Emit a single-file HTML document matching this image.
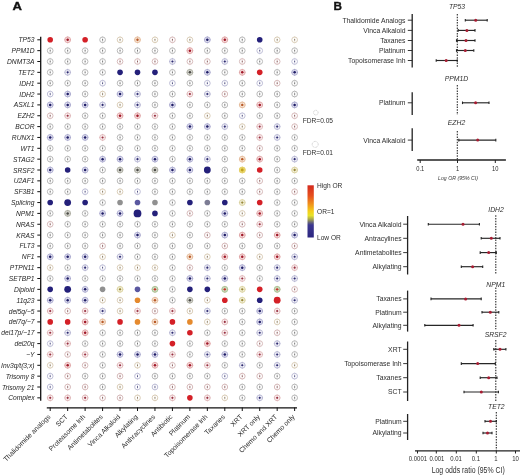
<!DOCTYPE html>
<html><head><meta charset="utf-8"><style>
html,body{margin:0;padding:0;background:#fff;width:520px;height:476px;overflow:hidden}
svg{display:block;will-change:transform}
text{font-family:"Liberation Sans",sans-serif;fill:#333}
.rl{font-style:italic;font-size:7.2px;fill:#262626}
.cl{font-size:6.85px;fill:#2e2e2e}
.fl{font-size:6.8px;fill:#2e2e2e}
.gt{font-style:italic;font-size:6.8px;fill:#2e2e2e}
.tk{font-size:6.8px;fill:#2e2e2e}
.lor{font-style:italic;font-size:5.2px;fill:#3a3a3a}
.lodds{font-size:9.9px;fill:#2e2e2e}
.lg{font-size:6.6px;fill:#2e2e2e}
.pl{font-weight:bold;font-size:11.2px;fill:#111;stroke:#111;stroke-width:0.35px}
</style></head><body>
<svg width="520" height="476" viewBox="0 0 520 476">
<defs><linearGradient id="cb" x1="0" y1="0" x2="0" y2="1">
<stop offset="0" stop-color="#d42a1e"/><stop offset="0.2" stop-color="#e6501e"/>
<stop offset="0.36" stop-color="#f0921c"/><stop offset="0.5" stop-color="#f4d01a"/>
<stop offset="0.58" stop-color="#e6e22a"/><stop offset="0.66" stop-color="#9e9e52"/>
<stop offset="0.72" stop-color="#5e5c7c"/><stop offset="0.76" stop-color="#3c3890"/>
<stop offset="1" stop-color="#2c2680"/></linearGradient></defs>
<text transform="translate(12.4,10.1) scale(1.17,1)" class="pl">A</text>
<text transform="translate(333.6,10.1) scale(1.05,1)" class="pl">B</text>
<line x1="40.7" y1="36.8" x2="40.7" y2="400.8" stroke="#111" stroke-width="1.3"/>
<line x1="46.8" y1="407.9" x2="297" y2="407.9" stroke="#111" stroke-width="1.3"/>
<text transform="translate(34.5,42.30) scale(0.93,1)" text-anchor="end" class="rl">TP53</text>
<line x1="37.3" y1="39.80" x2="40.7" y2="39.80" stroke="#111" stroke-width="1"/>
<text transform="translate(34.5,53.15) scale(0.93,1)" text-anchor="end" class="rl">PPM1D</text>
<line x1="37.3" y1="50.65" x2="40.7" y2="50.65" stroke="#111" stroke-width="1"/>
<text transform="translate(34.5,64.00) scale(0.93,1)" text-anchor="end" class="rl">DNMT3A</text>
<line x1="37.3" y1="61.50" x2="40.7" y2="61.50" stroke="#111" stroke-width="1"/>
<text transform="translate(34.5,74.85) scale(0.93,1)" text-anchor="end" class="rl">TET2</text>
<line x1="37.3" y1="72.35" x2="40.7" y2="72.35" stroke="#111" stroke-width="1"/>
<text transform="translate(34.5,85.70) scale(0.93,1)" text-anchor="end" class="rl">IDH1</text>
<line x1="37.3" y1="83.20" x2="40.7" y2="83.20" stroke="#111" stroke-width="1"/>
<text transform="translate(34.5,96.55) scale(0.93,1)" text-anchor="end" class="rl">IDH2</text>
<line x1="37.3" y1="94.05" x2="40.7" y2="94.05" stroke="#111" stroke-width="1"/>
<text transform="translate(34.5,107.40) scale(0.93,1)" text-anchor="end" class="rl">ASXL1</text>
<line x1="37.3" y1="104.90" x2="40.7" y2="104.90" stroke="#111" stroke-width="1"/>
<text transform="translate(34.5,118.25) scale(0.93,1)" text-anchor="end" class="rl">EZH2</text>
<line x1="37.3" y1="115.75" x2="40.7" y2="115.75" stroke="#111" stroke-width="1"/>
<text transform="translate(34.5,129.10) scale(0.93,1)" text-anchor="end" class="rl">BCOR</text>
<line x1="37.3" y1="126.60" x2="40.7" y2="126.60" stroke="#111" stroke-width="1"/>
<text transform="translate(34.5,139.95) scale(0.93,1)" text-anchor="end" class="rl">RUNX1</text>
<line x1="37.3" y1="137.45" x2="40.7" y2="137.45" stroke="#111" stroke-width="1"/>
<text transform="translate(34.5,150.80) scale(0.93,1)" text-anchor="end" class="rl">WT1</text>
<line x1="37.3" y1="148.30" x2="40.7" y2="148.30" stroke="#111" stroke-width="1"/>
<text transform="translate(34.5,161.65) scale(0.93,1)" text-anchor="end" class="rl">STAG2</text>
<line x1="37.3" y1="159.15" x2="40.7" y2="159.15" stroke="#111" stroke-width="1"/>
<text transform="translate(34.5,172.50) scale(0.93,1)" text-anchor="end" class="rl">SRSF2</text>
<line x1="37.3" y1="170.00" x2="40.7" y2="170.00" stroke="#111" stroke-width="1"/>
<text transform="translate(34.5,183.35) scale(0.93,1)" text-anchor="end" class="rl">U2AF1</text>
<line x1="37.3" y1="180.85" x2="40.7" y2="180.85" stroke="#111" stroke-width="1"/>
<text transform="translate(34.5,194.20) scale(0.93,1)" text-anchor="end" class="rl">SF3B1</text>
<line x1="37.3" y1="191.70" x2="40.7" y2="191.70" stroke="#111" stroke-width="1"/>
<text transform="translate(34.5,205.05) scale(0.93,1)" text-anchor="end" class="rl">Splicing</text>
<line x1="37.3" y1="202.55" x2="40.7" y2="202.55" stroke="#111" stroke-width="1"/>
<text transform="translate(34.5,215.90) scale(0.93,1)" text-anchor="end" class="rl">NPM1</text>
<line x1="37.3" y1="213.40" x2="40.7" y2="213.40" stroke="#111" stroke-width="1"/>
<text transform="translate(34.5,226.75) scale(0.93,1)" text-anchor="end" class="rl">NRAS</text>
<line x1="37.3" y1="224.25" x2="40.7" y2="224.25" stroke="#111" stroke-width="1"/>
<text transform="translate(34.5,237.60) scale(0.93,1)" text-anchor="end" class="rl">KRAS</text>
<line x1="37.3" y1="235.10" x2="40.7" y2="235.10" stroke="#111" stroke-width="1"/>
<text transform="translate(34.5,248.45) scale(0.93,1)" text-anchor="end" class="rl">FLT3</text>
<line x1="37.3" y1="245.95" x2="40.7" y2="245.95" stroke="#111" stroke-width="1"/>
<text transform="translate(34.5,259.30) scale(0.93,1)" text-anchor="end" class="rl">NF1</text>
<line x1="37.3" y1="256.80" x2="40.7" y2="256.80" stroke="#111" stroke-width="1"/>
<text transform="translate(34.5,270.15) scale(0.93,1)" text-anchor="end" class="rl">PTPN11</text>
<line x1="37.3" y1="267.65" x2="40.7" y2="267.65" stroke="#111" stroke-width="1"/>
<text transform="translate(34.5,281.00) scale(0.93,1)" text-anchor="end" class="rl">SETBP1</text>
<line x1="37.3" y1="278.50" x2="40.7" y2="278.50" stroke="#111" stroke-width="1"/>
<text transform="translate(34.5,291.85) scale(0.93,1)" text-anchor="end" class="rl">Diploid</text>
<line x1="37.3" y1="289.35" x2="40.7" y2="289.35" stroke="#111" stroke-width="1"/>
<text transform="translate(34.5,302.70) scale(0.93,1)" text-anchor="end" class="rl">11q23</text>
<line x1="37.3" y1="300.20" x2="40.7" y2="300.20" stroke="#111" stroke-width="1"/>
<text transform="translate(34.5,313.55) scale(0.93,1)" text-anchor="end" class="rl">del5q/−5</text>
<line x1="37.3" y1="311.05" x2="40.7" y2="311.05" stroke="#111" stroke-width="1"/>
<text transform="translate(34.5,324.40) scale(0.93,1)" text-anchor="end" class="rl">del7q/−7</text>
<line x1="37.3" y1="321.90" x2="40.7" y2="321.90" stroke="#111" stroke-width="1"/>
<text transform="translate(34.5,335.25) scale(0.93,1)" text-anchor="end" class="rl">del17p/−17</text>
<line x1="37.3" y1="332.75" x2="40.7" y2="332.75" stroke="#111" stroke-width="1"/>
<text transform="translate(34.5,346.10) scale(0.93,1)" text-anchor="end" class="rl">del20q</text>
<line x1="37.3" y1="343.60" x2="40.7" y2="343.60" stroke="#111" stroke-width="1"/>
<text transform="translate(34.5,356.95) scale(0.93,1)" text-anchor="end" class="rl">−Y</text>
<line x1="37.3" y1="354.45" x2="40.7" y2="354.45" stroke="#111" stroke-width="1"/>
<text transform="translate(34.5,367.80) scale(0.93,1)" text-anchor="end" class="rl">Inv3q/t(3;x)</text>
<line x1="37.3" y1="365.30" x2="40.7" y2="365.30" stroke="#111" stroke-width="1"/>
<text transform="translate(34.5,378.65) scale(0.93,1)" text-anchor="end" class="rl">Trisomy 8</text>
<line x1="37.3" y1="376.15" x2="40.7" y2="376.15" stroke="#111" stroke-width="1"/>
<text transform="translate(34.5,389.50) scale(0.93,1)" text-anchor="end" class="rl">Trisomy 21</text>
<line x1="37.3" y1="387.00" x2="40.7" y2="387.00" stroke="#111" stroke-width="1"/>
<text transform="translate(34.5,400.35) scale(0.93,1)" text-anchor="end" class="rl">Complex</text>
<line x1="37.3" y1="397.85" x2="40.7" y2="397.85" stroke="#111" stroke-width="1"/>
<g>
<circle cx="50.20" cy="39.80" r="2.8" fill="#d42027"/>
<circle cx="67.66" cy="39.80" r="3.3" fill="#e46060" fill-opacity="0.16"/><circle cx="67.66" cy="39.80" r="2.85" fill="none" stroke="#e0acac" stroke-width="0.95"/><line x1="64.36" y1="39.80" x2="70.96" y2="39.80" stroke="#a01828" stroke-width="0.5" stroke-opacity="0.3"/><line x1="67.66" y1="36.10" x2="67.66" y2="43.50" stroke="#a01828" stroke-width="0.5" stroke-opacity="0.3"/><circle cx="67.66" cy="39.80" r="1.25" fill="#a01828"/>
<circle cx="85.12" cy="39.80" r="2.8" fill="#d42027"/>
<circle cx="102.58" cy="39.80" r="2.85" fill="none" stroke="#b8b8b8" stroke-width="1.0"/><line x1="102.58" y1="36.10" x2="102.58" y2="43.50" stroke="#b8b8b8" stroke-width="0.45"/><rect x="102.08" y="39.00" width="1.0" height="1.6" fill="#6a6a6a" fill-opacity="0.85"/>
<circle cx="120.04" cy="39.80" r="2.85" fill="none" stroke="#dacdb8" stroke-width="1.0"/><line x1="120.04" y1="36.10" x2="120.04" y2="43.50" stroke="#dacdb8" stroke-width="0.45"/><rect x="119.54" y="39.00" width="1.0" height="1.6" fill="#7a6a50" fill-opacity="0.85"/>
<circle cx="137.50" cy="39.80" r="3.3" fill="#ea9a5a" fill-opacity="0.22"/><circle cx="137.50" cy="39.80" r="2.85" fill="none" stroke="#e6c0a0" stroke-width="0.95"/><line x1="134.20" y1="39.80" x2="140.80" y2="39.80" stroke="#b85a28" stroke-width="0.5" stroke-opacity="0.3"/><line x1="137.50" y1="36.10" x2="137.50" y2="43.50" stroke="#b85a28" stroke-width="0.5" stroke-opacity="0.3"/><circle cx="137.50" cy="39.80" r="1.2" fill="#b85a28"/>
<circle cx="154.96" cy="39.80" r="2.85" fill="none" stroke="#dacdb8" stroke-width="1.0"/><line x1="154.96" y1="36.10" x2="154.96" y2="43.50" stroke="#dacdb8" stroke-width="0.45"/><rect x="154.46" y="39.00" width="1.0" height="1.6" fill="#7a6a50" fill-opacity="0.85"/>
<circle cx="172.42" cy="39.80" r="2.85" fill="none" stroke="#d6baba" stroke-width="1.0"/><line x1="172.42" y1="36.10" x2="172.42" y2="43.50" stroke="#d6baba" stroke-width="0.45"/><rect x="171.92" y="39.00" width="1.0" height="1.6" fill="#7a4a4a" fill-opacity="0.85"/>
<circle cx="189.88" cy="39.80" r="2.85" fill="none" stroke="#dacdb8" stroke-width="1.0"/><line x1="189.88" y1="36.10" x2="189.88" y2="43.50" stroke="#dacdb8" stroke-width="0.45"/><rect x="189.38" y="39.00" width="1.0" height="1.6" fill="#7a6a50" fill-opacity="0.85"/>
<circle cx="207.34" cy="39.80" r="3.3" fill="#7a78c8" fill-opacity="0.16"/><circle cx="207.34" cy="39.80" r="2.85" fill="none" stroke="#b0b0d2" stroke-width="0.95"/><line x1="204.04" y1="39.80" x2="210.64" y2="39.80" stroke="#1e1c66" stroke-width="0.5" stroke-opacity="0.3"/><line x1="207.34" y1="36.10" x2="207.34" y2="43.50" stroke="#1e1c66" stroke-width="0.5" stroke-opacity="0.3"/><circle cx="207.34" cy="39.80" r="1.25" fill="#1e1c66"/>
<circle cx="224.80" cy="39.80" r="3.3" fill="#e46060" fill-opacity="0.16"/><circle cx="224.80" cy="39.80" r="2.85" fill="none" stroke="#e0acac" stroke-width="0.95"/><line x1="221.50" y1="39.80" x2="228.10" y2="39.80" stroke="#a01828" stroke-width="0.5" stroke-opacity="0.3"/><line x1="224.80" y1="36.10" x2="224.80" y2="43.50" stroke="#a01828" stroke-width="0.5" stroke-opacity="0.3"/><circle cx="224.80" cy="39.80" r="1.25" fill="#a01828"/>
<circle cx="242.26" cy="39.80" r="2.85" fill="none" stroke="#b8b8b8" stroke-width="1.0"/><line x1="242.26" y1="36.10" x2="242.26" y2="43.50" stroke="#b8b8b8" stroke-width="0.45"/><rect x="241.76" y="39.00" width="1.0" height="1.6" fill="#6a6a6a" fill-opacity="0.85"/>
<circle cx="259.72" cy="39.80" r="2.8" fill="#24207a"/>
<circle cx="277.18" cy="39.80" r="2.85" fill="none" stroke="#dacdb8" stroke-width="1.0"/><line x1="277.18" y1="36.10" x2="277.18" y2="43.50" stroke="#dacdb8" stroke-width="0.45"/><rect x="276.68" y="39.00" width="1.0" height="1.6" fill="#7a6a50" fill-opacity="0.85"/>
<circle cx="294.64" cy="39.80" r="2.85" fill="none" stroke="#dacdb8" stroke-width="1.0"/><line x1="294.64" y1="36.10" x2="294.64" y2="43.50" stroke="#dacdb8" stroke-width="0.45"/><rect x="294.14" y="39.00" width="1.0" height="1.6" fill="#7a6a50" fill-opacity="0.85"/>
<circle cx="50.20" cy="50.65" r="2.85" fill="none" stroke="#b8b8b8" stroke-width="1.0"/><line x1="50.20" y1="46.95" x2="50.20" y2="54.35" stroke="#b8b8b8" stroke-width="0.45"/><rect x="49.70" y="49.85" width="1.0" height="1.6" fill="#6a6a6a" fill-opacity="0.85"/>
<circle cx="67.66" cy="50.65" r="2.85" fill="none" stroke="#b8b8b8" stroke-width="1.0"/><line x1="67.66" y1="46.95" x2="67.66" y2="54.35" stroke="#b8b8b8" stroke-width="0.45"/><rect x="67.16" y="49.85" width="1.0" height="1.6" fill="#6a6a6a" fill-opacity="0.85"/>
<circle cx="85.12" cy="50.65" r="2.85" fill="none" stroke="#b8b8b8" stroke-width="1.0"/><line x1="85.12" y1="46.95" x2="85.12" y2="54.35" stroke="#b8b8b8" stroke-width="0.45"/><rect x="84.62" y="49.85" width="1.0" height="1.6" fill="#6a6a6a" fill-opacity="0.85"/>
<circle cx="102.58" cy="50.65" r="2.85" fill="none" stroke="#b8b8b8" stroke-width="1.0"/><line x1="102.58" y1="46.95" x2="102.58" y2="54.35" stroke="#b8b8b8" stroke-width="0.45"/><rect x="102.08" y="49.85" width="1.0" height="1.6" fill="#6a6a6a" fill-opacity="0.85"/>
<circle cx="120.04" cy="50.65" r="2.85" fill="none" stroke="#b8b8b8" stroke-width="1.0"/><line x1="120.04" y1="46.95" x2="120.04" y2="54.35" stroke="#b8b8b8" stroke-width="0.45"/><rect x="119.54" y="49.85" width="1.0" height="1.6" fill="#6a6a6a" fill-opacity="0.85"/>
<circle cx="137.50" cy="50.65" r="2.85" fill="none" stroke="#b8b8b8" stroke-width="1.0"/><line x1="137.50" y1="46.95" x2="137.50" y2="54.35" stroke="#b8b8b8" stroke-width="0.45"/><rect x="137.00" y="49.85" width="1.0" height="1.6" fill="#6a6a6a" fill-opacity="0.85"/>
<circle cx="154.96" cy="50.65" r="2.85" fill="none" stroke="#b8b8b8" stroke-width="1.0"/><line x1="154.96" y1="46.95" x2="154.96" y2="54.35" stroke="#b8b8b8" stroke-width="0.45"/><rect x="154.46" y="49.85" width="1.0" height="1.6" fill="#6a6a6a" fill-opacity="0.85"/>
<circle cx="172.42" cy="50.65" r="2.85" fill="none" stroke="#b8b8b8" stroke-width="1.0"/><line x1="172.42" y1="46.95" x2="172.42" y2="54.35" stroke="#b8b8b8" stroke-width="0.45"/><rect x="171.92" y="49.85" width="1.0" height="1.6" fill="#6a6a6a" fill-opacity="0.85"/>
<circle cx="189.88" cy="50.65" r="3.3" fill="#e46060" fill-opacity="0.16"/><circle cx="189.88" cy="50.65" r="2.85" fill="none" stroke="#e0acac" stroke-width="0.95"/><line x1="186.58" y1="50.65" x2="193.18" y2="50.65" stroke="#a01828" stroke-width="0.5" stroke-opacity="0.3"/><line x1="189.88" y1="46.95" x2="189.88" y2="54.35" stroke="#a01828" stroke-width="0.5" stroke-opacity="0.3"/><circle cx="189.88" cy="50.65" r="1.25" fill="#a01828"/>
<circle cx="207.34" cy="50.65" r="2.85" fill="none" stroke="#b8b8b8" stroke-width="1.0"/><line x1="207.34" y1="46.95" x2="207.34" y2="54.35" stroke="#b8b8b8" stroke-width="0.45"/><rect x="206.84" y="49.85" width="1.0" height="1.6" fill="#6a6a6a" fill-opacity="0.85"/>
<circle cx="224.80" cy="50.65" r="2.85" fill="none" stroke="#b8b8b8" stroke-width="1.0"/><line x1="224.80" y1="46.95" x2="224.80" y2="54.35" stroke="#b8b8b8" stroke-width="0.45"/><rect x="224.30" y="49.85" width="1.0" height="1.6" fill="#6a6a6a" fill-opacity="0.85"/>
<circle cx="242.26" cy="50.65" r="2.85" fill="none" stroke="#b8b8b8" stroke-width="1.0"/><line x1="242.26" y1="46.95" x2="242.26" y2="54.35" stroke="#b8b8b8" stroke-width="0.45"/><rect x="241.76" y="49.85" width="1.0" height="1.6" fill="#6a6a6a" fill-opacity="0.85"/>
<circle cx="259.72" cy="50.65" r="2.85" fill="none" stroke="#bebed6" stroke-width="1.0"/><line x1="259.72" y1="46.95" x2="259.72" y2="54.35" stroke="#bebed6" stroke-width="0.45"/><rect x="259.22" y="49.85" width="1.0" height="1.6" fill="#3a3a70" fill-opacity="0.85"/>
<circle cx="277.18" cy="50.65" r="2.85" fill="none" stroke="#b8b8b8" stroke-width="1.0"/><line x1="277.18" y1="46.95" x2="277.18" y2="54.35" stroke="#b8b8b8" stroke-width="0.45"/><rect x="276.68" y="49.85" width="1.0" height="1.6" fill="#6a6a6a" fill-opacity="0.85"/>
<circle cx="294.64" cy="50.65" r="2.85" fill="none" stroke="#b8b8b8" stroke-width="1.0"/><line x1="294.64" y1="46.95" x2="294.64" y2="54.35" stroke="#b8b8b8" stroke-width="0.45"/><rect x="294.14" y="49.85" width="1.0" height="1.6" fill="#6a6a6a" fill-opacity="0.85"/>
<circle cx="50.20" cy="61.50" r="2.85" fill="none" stroke="#b8b8b8" stroke-width="1.0"/><line x1="50.20" y1="57.80" x2="50.20" y2="65.20" stroke="#b8b8b8" stroke-width="0.45"/><rect x="49.70" y="60.70" width="1.0" height="1.6" fill="#6a6a6a" fill-opacity="0.85"/>
<circle cx="67.66" cy="61.50" r="2.85" fill="none" stroke="#b8b8b8" stroke-width="1.0"/><line x1="67.66" y1="57.80" x2="67.66" y2="65.20" stroke="#b8b8b8" stroke-width="0.45"/><rect x="67.16" y="60.70" width="1.0" height="1.6" fill="#6a6a6a" fill-opacity="0.85"/>
<circle cx="85.12" cy="61.50" r="2.85" fill="none" stroke="#b8b8b8" stroke-width="1.0"/><line x1="85.12" y1="57.80" x2="85.12" y2="65.20" stroke="#b8b8b8" stroke-width="0.45"/><rect x="84.62" y="60.70" width="1.0" height="1.6" fill="#6a6a6a" fill-opacity="0.85"/>
<circle cx="102.58" cy="61.50" r="2.85" fill="none" stroke="#b8b8b8" stroke-width="1.0"/><line x1="102.58" y1="57.80" x2="102.58" y2="65.20" stroke="#b8b8b8" stroke-width="0.45"/><rect x="102.08" y="60.70" width="1.0" height="1.6" fill="#6a6a6a" fill-opacity="0.85"/>
<circle cx="120.04" cy="61.50" r="2.85" fill="none" stroke="#d6baba" stroke-width="1.0"/><line x1="120.04" y1="57.80" x2="120.04" y2="65.20" stroke="#d6baba" stroke-width="0.45"/><rect x="119.54" y="60.70" width="1.0" height="1.6" fill="#7a4a4a" fill-opacity="0.85"/>
<circle cx="137.50" cy="61.50" r="2.85" fill="none" stroke="#d6baba" stroke-width="1.0"/><line x1="137.50" y1="57.80" x2="137.50" y2="65.20" stroke="#d6baba" stroke-width="0.45"/><rect x="137.00" y="60.70" width="1.0" height="1.6" fill="#7a4a4a" fill-opacity="0.85"/>
<circle cx="154.96" cy="61.50" r="2.85" fill="none" stroke="#d6baba" stroke-width="1.0"/><line x1="154.96" y1="57.80" x2="154.96" y2="65.20" stroke="#d6baba" stroke-width="0.45"/><rect x="154.46" y="60.70" width="1.0" height="1.6" fill="#7a4a4a" fill-opacity="0.85"/>
<circle cx="172.42" cy="61.50" r="3.3" fill="#9a98d4" fill-opacity="0.09"/><circle cx="172.42" cy="61.50" r="2.85" fill="none" stroke="#bcbcd6" stroke-width="0.95"/><line x1="169.12" y1="61.50" x2="175.72" y2="61.50" stroke="#2c2a70" stroke-width="0.5" stroke-opacity="0.3"/><line x1="172.42" y1="57.80" x2="172.42" y2="65.20" stroke="#2c2a70" stroke-width="0.5" stroke-opacity="0.3"/><circle cx="172.42" cy="61.50" r="1.05" fill="#2c2a70"/>
<circle cx="189.88" cy="61.50" r="2.85" fill="none" stroke="#d6baba" stroke-width="1.0"/><line x1="189.88" y1="57.80" x2="189.88" y2="65.20" stroke="#d6baba" stroke-width="0.45"/><rect x="189.38" y="60.70" width="1.0" height="1.6" fill="#7a4a4a" fill-opacity="0.85"/>
<circle cx="207.34" cy="61.50" r="2.85" fill="none" stroke="#d6baba" stroke-width="1.0"/><line x1="207.34" y1="57.80" x2="207.34" y2="65.20" stroke="#d6baba" stroke-width="0.45"/><rect x="206.84" y="60.70" width="1.0" height="1.6" fill="#7a4a4a" fill-opacity="0.85"/>
<circle cx="224.80" cy="61.50" r="3.3" fill="#9a98d4" fill-opacity="0.09"/><circle cx="224.80" cy="61.50" r="2.85" fill="none" stroke="#bcbcd6" stroke-width="0.95"/><line x1="221.50" y1="61.50" x2="228.10" y2="61.50" stroke="#2c2a70" stroke-width="0.5" stroke-opacity="0.3"/><line x1="224.80" y1="57.80" x2="224.80" y2="65.20" stroke="#2c2a70" stroke-width="0.5" stroke-opacity="0.3"/><circle cx="224.80" cy="61.50" r="1.05" fill="#2c2a70"/>
<circle cx="242.26" cy="61.50" r="2.85" fill="none" stroke="#d6baba" stroke-width="1.0"/><line x1="242.26" y1="57.80" x2="242.26" y2="65.20" stroke="#d6baba" stroke-width="0.45"/><rect x="241.76" y="60.70" width="1.0" height="1.6" fill="#7a4a4a" fill-opacity="0.85"/>
<circle cx="259.72" cy="61.50" r="2.85" fill="none" stroke="#b8b8b8" stroke-width="1.0"/><line x1="259.72" y1="57.80" x2="259.72" y2="65.20" stroke="#b8b8b8" stroke-width="0.45"/><rect x="259.22" y="60.70" width="1.0" height="1.6" fill="#6a6a6a" fill-opacity="0.85"/>
<circle cx="277.18" cy="61.50" r="2.85" fill="none" stroke="#d6baba" stroke-width="1.0"/><line x1="277.18" y1="57.80" x2="277.18" y2="65.20" stroke="#d6baba" stroke-width="0.45"/><rect x="276.68" y="60.70" width="1.0" height="1.6" fill="#7a4a4a" fill-opacity="0.85"/>
<circle cx="294.64" cy="61.50" r="2.85" fill="none" stroke="#bebed6" stroke-width="1.0"/><line x1="294.64" y1="57.80" x2="294.64" y2="65.20" stroke="#bebed6" stroke-width="0.45"/><rect x="294.14" y="60.70" width="1.0" height="1.6" fill="#3a3a70" fill-opacity="0.85"/>
<circle cx="50.20" cy="72.35" r="2.85" fill="none" stroke="#b8b8b8" stroke-width="1.0"/><line x1="50.20" y1="68.65" x2="50.20" y2="76.05" stroke="#b8b8b8" stroke-width="0.45"/><rect x="49.70" y="71.55" width="1.0" height="1.6" fill="#6a6a6a" fill-opacity="0.85"/>
<circle cx="67.66" cy="72.35" r="3.3" fill="#9a98d4" fill-opacity="0.09"/><circle cx="67.66" cy="72.35" r="2.85" fill="none" stroke="#bcbcd6" stroke-width="0.95"/><line x1="64.36" y1="72.35" x2="70.96" y2="72.35" stroke="#2c2a70" stroke-width="0.5" stroke-opacity="0.3"/><line x1="67.66" y1="68.65" x2="67.66" y2="76.05" stroke="#2c2a70" stroke-width="0.5" stroke-opacity="0.3"/><circle cx="67.66" cy="72.35" r="1.05" fill="#2c2a70"/>
<circle cx="85.12" cy="72.35" r="2.85" fill="none" stroke="#b8b8b8" stroke-width="1.0"/><line x1="85.12" y1="68.65" x2="85.12" y2="76.05" stroke="#b8b8b8" stroke-width="0.45"/><rect x="84.62" y="71.55" width="1.0" height="1.6" fill="#6a6a6a" fill-opacity="0.85"/>
<circle cx="102.58" cy="72.35" r="2.85" fill="none" stroke="#b8b8b8" stroke-width="1.0"/><line x1="102.58" y1="68.65" x2="102.58" y2="76.05" stroke="#b8b8b8" stroke-width="0.45"/><rect x="102.08" y="71.55" width="1.0" height="1.6" fill="#6a6a6a" fill-opacity="0.85"/>
<circle cx="120.04" cy="72.35" r="2.8" fill="#24207a"/>
<circle cx="137.50" cy="72.35" r="2.8" fill="#24207a"/>
<circle cx="154.96" cy="72.35" r="2.8" fill="#24207a"/>
<circle cx="172.42" cy="72.35" r="2.85" fill="none" stroke="#b8b8b8" stroke-width="1.0"/><line x1="172.42" y1="68.65" x2="172.42" y2="76.05" stroke="#b8b8b8" stroke-width="0.45"/><rect x="171.92" y="71.55" width="1.0" height="1.6" fill="#6a6a6a" fill-opacity="0.85"/>
<circle cx="189.88" cy="72.35" r="3.3" fill="#7a7a6a" fill-opacity="0.26"/><circle cx="189.88" cy="72.35" r="2.85" fill="none" stroke="#b0b0a4" stroke-width="0.95"/><line x1="186.58" y1="72.35" x2="193.18" y2="72.35" stroke="#4a4a44" stroke-width="0.5" stroke-opacity="0.3"/><line x1="189.88" y1="68.65" x2="189.88" y2="76.05" stroke="#4a4a44" stroke-width="0.5" stroke-opacity="0.3"/><circle cx="189.88" cy="72.35" r="1.25" fill="#4a4a44"/>
<circle cx="207.34" cy="72.35" r="3.3" fill="#7a78c8" fill-opacity="0.16"/><circle cx="207.34" cy="72.35" r="2.85" fill="none" stroke="#b0b0d2" stroke-width="0.95"/><line x1="204.04" y1="72.35" x2="210.64" y2="72.35" stroke="#1e1c66" stroke-width="0.5" stroke-opacity="0.3"/><line x1="207.34" y1="68.65" x2="207.34" y2="76.05" stroke="#1e1c66" stroke-width="0.5" stroke-opacity="0.3"/><circle cx="207.34" cy="72.35" r="1.25" fill="#1e1c66"/>
<circle cx="224.80" cy="72.35" r="2.85" fill="none" stroke="#b8b8b8" stroke-width="1.0"/><line x1="224.80" y1="68.65" x2="224.80" y2="76.05" stroke="#b8b8b8" stroke-width="0.45"/><rect x="224.30" y="71.55" width="1.0" height="1.6" fill="#6a6a6a" fill-opacity="0.85"/>
<circle cx="242.26" cy="72.35" r="3.3" fill="#e46060" fill-opacity="0.16"/><circle cx="242.26" cy="72.35" r="2.85" fill="none" stroke="#e0acac" stroke-width="0.95"/><line x1="238.96" y1="72.35" x2="245.56" y2="72.35" stroke="#a01828" stroke-width="0.5" stroke-opacity="0.3"/><line x1="242.26" y1="68.65" x2="242.26" y2="76.05" stroke="#a01828" stroke-width="0.5" stroke-opacity="0.3"/><circle cx="242.26" cy="72.35" r="1.25" fill="#a01828"/>
<circle cx="259.72" cy="72.35" r="2.8" fill="#d42027"/>
<circle cx="277.18" cy="72.35" r="2.85" fill="none" stroke="#b8b8b8" stroke-width="1.0"/><line x1="277.18" y1="68.65" x2="277.18" y2="76.05" stroke="#b8b8b8" stroke-width="0.45"/><rect x="276.68" y="71.55" width="1.0" height="1.6" fill="#6a6a6a" fill-opacity="0.85"/>
<circle cx="294.64" cy="72.35" r="3.3" fill="#7a78c8" fill-opacity="0.16"/><circle cx="294.64" cy="72.35" r="2.85" fill="none" stroke="#b0b0d2" stroke-width="0.95"/><line x1="291.34" y1="72.35" x2="297.94" y2="72.35" stroke="#1e1c66" stroke-width="0.5" stroke-opacity="0.3"/><line x1="294.64" y1="68.65" x2="294.64" y2="76.05" stroke="#1e1c66" stroke-width="0.5" stroke-opacity="0.3"/><circle cx="294.64" cy="72.35" r="1.25" fill="#1e1c66"/>
<circle cx="50.20" cy="83.20" r="2.85" fill="none" stroke="#b8b8b8" stroke-width="1.0"/><line x1="50.20" y1="79.50" x2="50.20" y2="86.90" stroke="#b8b8b8" stroke-width="0.45"/><rect x="49.70" y="82.40" width="1.0" height="1.6" fill="#6a6a6a" fill-opacity="0.85"/>
<circle cx="67.66" cy="83.20" r="2.85" fill="none" stroke="#b8b8b8" stroke-width="1.0"/><line x1="67.66" y1="79.50" x2="67.66" y2="86.90" stroke="#b8b8b8" stroke-width="0.45"/><rect x="67.16" y="82.40" width="1.0" height="1.6" fill="#6a6a6a" fill-opacity="0.85"/>
<circle cx="85.12" cy="83.20" r="2.85" fill="none" stroke="#b8b8b8" stroke-width="1.0"/><line x1="85.12" y1="79.50" x2="85.12" y2="86.90" stroke="#b8b8b8" stroke-width="0.45"/><rect x="84.62" y="82.40" width="1.0" height="1.6" fill="#6a6a6a" fill-opacity="0.85"/>
<circle cx="102.58" cy="83.20" r="2.85" fill="none" stroke="#bebed6" stroke-width="1.0"/><line x1="102.58" y1="79.50" x2="102.58" y2="86.90" stroke="#bebed6" stroke-width="0.45"/><rect x="102.08" y="82.40" width="1.0" height="1.6" fill="#3a3a70" fill-opacity="0.85"/>
<circle cx="120.04" cy="83.20" r="2.85" fill="none" stroke="#b8b8b8" stroke-width="1.0"/><line x1="120.04" y1="79.50" x2="120.04" y2="86.90" stroke="#b8b8b8" stroke-width="0.45"/><rect x="119.54" y="82.40" width="1.0" height="1.6" fill="#6a6a6a" fill-opacity="0.85"/>
<circle cx="137.50" cy="83.20" r="2.85" fill="none" stroke="#b8b8b8" stroke-width="1.0"/><line x1="137.50" y1="79.50" x2="137.50" y2="86.90" stroke="#b8b8b8" stroke-width="0.45"/><rect x="137.00" y="82.40" width="1.0" height="1.6" fill="#6a6a6a" fill-opacity="0.85"/>
<circle cx="154.96" cy="83.20" r="2.85" fill="none" stroke="#b8b8b8" stroke-width="1.0"/><line x1="154.96" y1="79.50" x2="154.96" y2="86.90" stroke="#b8b8b8" stroke-width="0.45"/><rect x="154.46" y="82.40" width="1.0" height="1.6" fill="#6a6a6a" fill-opacity="0.85"/>
<circle cx="172.42" cy="83.20" r="2.85" fill="none" stroke="#bebed6" stroke-width="1.0"/><line x1="172.42" y1="79.50" x2="172.42" y2="86.90" stroke="#bebed6" stroke-width="0.45"/><rect x="171.92" y="82.40" width="1.0" height="1.6" fill="#3a3a70" fill-opacity="0.85"/>
<circle cx="189.88" cy="83.20" r="2.85" fill="none" stroke="#b8b8b8" stroke-width="1.0"/><line x1="189.88" y1="79.50" x2="189.88" y2="86.90" stroke="#b8b8b8" stroke-width="0.45"/><rect x="189.38" y="82.40" width="1.0" height="1.6" fill="#6a6a6a" fill-opacity="0.85"/>
<circle cx="207.34" cy="83.20" r="2.85" fill="none" stroke="#bebed6" stroke-width="1.0"/><line x1="207.34" y1="79.50" x2="207.34" y2="86.90" stroke="#bebed6" stroke-width="0.45"/><rect x="206.84" y="82.40" width="1.0" height="1.6" fill="#3a3a70" fill-opacity="0.85"/>
<circle cx="224.80" cy="83.20" r="2.85" fill="none" stroke="#bebed6" stroke-width="1.0"/><line x1="224.80" y1="79.50" x2="224.80" y2="86.90" stroke="#bebed6" stroke-width="0.45"/><rect x="224.30" y="82.40" width="1.0" height="1.6" fill="#3a3a70" fill-opacity="0.85"/>
<circle cx="242.26" cy="83.20" r="2.85" fill="none" stroke="#b8b8b8" stroke-width="1.0"/><line x1="242.26" y1="79.50" x2="242.26" y2="86.90" stroke="#b8b8b8" stroke-width="0.45"/><rect x="241.76" y="82.40" width="1.0" height="1.6" fill="#6a6a6a" fill-opacity="0.85"/>
<circle cx="259.72" cy="83.20" r="2.85" fill="none" stroke="#bebed6" stroke-width="1.0"/><line x1="259.72" y1="79.50" x2="259.72" y2="86.90" stroke="#bebed6" stroke-width="0.45"/><rect x="259.22" y="82.40" width="1.0" height="1.6" fill="#3a3a70" fill-opacity="0.85"/>
<circle cx="277.18" cy="83.20" r="2.85" fill="none" stroke="#d6baba" stroke-width="1.0"/><line x1="277.18" y1="79.50" x2="277.18" y2="86.90" stroke="#d6baba" stroke-width="0.45"/><rect x="276.68" y="82.40" width="1.0" height="1.6" fill="#7a4a4a" fill-opacity="0.85"/>
<circle cx="294.64" cy="83.20" r="2.85" fill="none" stroke="#b8b8b8" stroke-width="1.0"/><line x1="294.64" y1="79.50" x2="294.64" y2="86.90" stroke="#b8b8b8" stroke-width="0.45"/><rect x="294.14" y="82.40" width="1.0" height="1.6" fill="#6a6a6a" fill-opacity="0.85"/>
<circle cx="50.20" cy="94.05" r="2.85" fill="none" stroke="#bebed6" stroke-width="1.0"/><line x1="50.20" y1="90.35" x2="50.20" y2="97.75" stroke="#bebed6" stroke-width="0.45"/><rect x="49.70" y="93.25" width="1.0" height="1.6" fill="#3a3a70" fill-opacity="0.85"/>
<circle cx="67.66" cy="94.05" r="3.3" fill="#7a78c8" fill-opacity="0.16"/><circle cx="67.66" cy="94.05" r="2.85" fill="none" stroke="#b0b0d2" stroke-width="0.95"/><line x1="64.36" y1="94.05" x2="70.96" y2="94.05" stroke="#1e1c66" stroke-width="0.5" stroke-opacity="0.3"/><line x1="67.66" y1="90.35" x2="67.66" y2="97.75" stroke="#1e1c66" stroke-width="0.5" stroke-opacity="0.3"/><circle cx="67.66" cy="94.05" r="1.25" fill="#1e1c66"/>
<circle cx="85.12" cy="94.05" r="2.85" fill="none" stroke="#b8b8b8" stroke-width="1.0"/><line x1="85.12" y1="90.35" x2="85.12" y2="97.75" stroke="#b8b8b8" stroke-width="0.45"/><rect x="84.62" y="93.25" width="1.0" height="1.6" fill="#6a6a6a" fill-opacity="0.85"/>
<circle cx="102.58" cy="94.05" r="2.85" fill="none" stroke="#dacdb8" stroke-width="1.0"/><line x1="102.58" y1="90.35" x2="102.58" y2="97.75" stroke="#dacdb8" stroke-width="0.45"/><rect x="102.08" y="93.25" width="1.0" height="1.6" fill="#7a6a50" fill-opacity="0.85"/>
<circle cx="120.04" cy="94.05" r="3.3" fill="#7a78c8" fill-opacity="0.16"/><circle cx="120.04" cy="94.05" r="2.85" fill="none" stroke="#b0b0d2" stroke-width="0.95"/><line x1="116.74" y1="94.05" x2="123.34" y2="94.05" stroke="#1e1c66" stroke-width="0.5" stroke-opacity="0.3"/><line x1="120.04" y1="90.35" x2="120.04" y2="97.75" stroke="#1e1c66" stroke-width="0.5" stroke-opacity="0.3"/><circle cx="120.04" cy="94.05" r="1.25" fill="#1e1c66"/>
<circle cx="137.50" cy="94.05" r="3.3" fill="#9a98d4" fill-opacity="0.09"/><circle cx="137.50" cy="94.05" r="2.85" fill="none" stroke="#bcbcd6" stroke-width="0.95"/><line x1="134.20" y1="94.05" x2="140.80" y2="94.05" stroke="#2c2a70" stroke-width="0.5" stroke-opacity="0.3"/><line x1="137.50" y1="90.35" x2="137.50" y2="97.75" stroke="#2c2a70" stroke-width="0.5" stroke-opacity="0.3"/><circle cx="137.50" cy="94.05" r="1.05" fill="#2c2a70"/>
<circle cx="154.96" cy="94.05" r="2.85" fill="none" stroke="#b8b8b8" stroke-width="1.0"/><line x1="154.96" y1="90.35" x2="154.96" y2="97.75" stroke="#b8b8b8" stroke-width="0.45"/><rect x="154.46" y="93.25" width="1.0" height="1.6" fill="#6a6a6a" fill-opacity="0.85"/>
<circle cx="172.42" cy="94.05" r="2.85" fill="none" stroke="#b8b8b8" stroke-width="1.0"/><line x1="172.42" y1="90.35" x2="172.42" y2="97.75" stroke="#b8b8b8" stroke-width="0.45"/><rect x="171.92" y="93.25" width="1.0" height="1.6" fill="#6a6a6a" fill-opacity="0.85"/>
<circle cx="189.88" cy="94.05" r="3.3" fill="#ea9090" fill-opacity="0.09"/><circle cx="189.88" cy="94.05" r="2.85" fill="none" stroke="#e0bcbc" stroke-width="0.95"/><line x1="186.58" y1="94.05" x2="193.18" y2="94.05" stroke="#983040" stroke-width="0.5" stroke-opacity="0.3"/><line x1="189.88" y1="90.35" x2="189.88" y2="97.75" stroke="#983040" stroke-width="0.5" stroke-opacity="0.3"/><circle cx="189.88" cy="94.05" r="1.05" fill="#983040"/>
<circle cx="207.34" cy="94.05" r="3.3" fill="#9a98d4" fill-opacity="0.09"/><circle cx="207.34" cy="94.05" r="2.85" fill="none" stroke="#bcbcd6" stroke-width="0.95"/><line x1="204.04" y1="94.05" x2="210.64" y2="94.05" stroke="#2c2a70" stroke-width="0.5" stroke-opacity="0.3"/><line x1="207.34" y1="90.35" x2="207.34" y2="97.75" stroke="#2c2a70" stroke-width="0.5" stroke-opacity="0.3"/><circle cx="207.34" cy="94.05" r="1.05" fill="#2c2a70"/>
<circle cx="224.80" cy="94.05" r="2.85" fill="none" stroke="#d6baba" stroke-width="1.0"/><line x1="224.80" y1="90.35" x2="224.80" y2="97.75" stroke="#d6baba" stroke-width="0.45"/><rect x="224.30" y="93.25" width="1.0" height="1.6" fill="#7a4a4a" fill-opacity="0.85"/>
<circle cx="242.26" cy="94.05" r="2.85" fill="none" stroke="#b8b8b8" stroke-width="1.0"/><line x1="242.26" y1="90.35" x2="242.26" y2="97.75" stroke="#b8b8b8" stroke-width="0.45"/><rect x="241.76" y="93.25" width="1.0" height="1.6" fill="#6a6a6a" fill-opacity="0.85"/>
<circle cx="259.72" cy="94.05" r="2.85" fill="none" stroke="#b8b8b8" stroke-width="1.0"/><line x1="259.72" y1="90.35" x2="259.72" y2="97.75" stroke="#b8b8b8" stroke-width="0.45"/><rect x="259.22" y="93.25" width="1.0" height="1.6" fill="#6a6a6a" fill-opacity="0.85"/>
<circle cx="277.18" cy="94.05" r="2.85" fill="none" stroke="#b8b8b8" stroke-width="1.0"/><line x1="277.18" y1="90.35" x2="277.18" y2="97.75" stroke="#b8b8b8" stroke-width="0.45"/><rect x="276.68" y="93.25" width="1.0" height="1.6" fill="#6a6a6a" fill-opacity="0.85"/>
<circle cx="294.64" cy="94.05" r="2.85" fill="none" stroke="#b8b8b8" stroke-width="1.0"/><line x1="294.64" y1="90.35" x2="294.64" y2="97.75" stroke="#b8b8b8" stroke-width="0.45"/><rect x="294.14" y="93.25" width="1.0" height="1.6" fill="#6a6a6a" fill-opacity="0.85"/>
<circle cx="50.20" cy="104.90" r="3.3" fill="#7a78c8" fill-opacity="0.16"/><circle cx="50.20" cy="104.90" r="2.85" fill="none" stroke="#b0b0d2" stroke-width="0.95"/><line x1="46.90" y1="104.90" x2="53.50" y2="104.90" stroke="#1e1c66" stroke-width="0.5" stroke-opacity="0.3"/><line x1="50.20" y1="101.20" x2="50.20" y2="108.60" stroke="#1e1c66" stroke-width="0.5" stroke-opacity="0.3"/><circle cx="50.20" cy="104.90" r="1.25" fill="#1e1c66"/>
<circle cx="67.66" cy="104.90" r="3.3" fill="#7a78c8" fill-opacity="0.16"/><circle cx="67.66" cy="104.90" r="2.85" fill="none" stroke="#b0b0d2" stroke-width="0.95"/><line x1="64.36" y1="104.90" x2="70.96" y2="104.90" stroke="#1e1c66" stroke-width="0.5" stroke-opacity="0.3"/><line x1="67.66" y1="101.20" x2="67.66" y2="108.60" stroke="#1e1c66" stroke-width="0.5" stroke-opacity="0.3"/><circle cx="67.66" cy="104.90" r="1.25" fill="#1e1c66"/>
<circle cx="85.12" cy="104.90" r="3.3" fill="#7a78c8" fill-opacity="0.16"/><circle cx="85.12" cy="104.90" r="2.85" fill="none" stroke="#b0b0d2" stroke-width="0.95"/><line x1="81.82" y1="104.90" x2="88.42" y2="104.90" stroke="#1e1c66" stroke-width="0.5" stroke-opacity="0.3"/><line x1="85.12" y1="101.20" x2="85.12" y2="108.60" stroke="#1e1c66" stroke-width="0.5" stroke-opacity="0.3"/><circle cx="85.12" cy="104.90" r="1.25" fill="#1e1c66"/>
<circle cx="102.58" cy="104.90" r="3.3" fill="#9a98d4" fill-opacity="0.09"/><circle cx="102.58" cy="104.90" r="2.85" fill="none" stroke="#bcbcd6" stroke-width="0.95"/><line x1="99.28" y1="104.90" x2="105.88" y2="104.90" stroke="#2c2a70" stroke-width="0.5" stroke-opacity="0.3"/><line x1="102.58" y1="101.20" x2="102.58" y2="108.60" stroke="#2c2a70" stroke-width="0.5" stroke-opacity="0.3"/><circle cx="102.58" cy="104.90" r="1.05" fill="#2c2a70"/>
<circle cx="120.04" cy="104.90" r="2.85" fill="none" stroke="#dacdb8" stroke-width="1.0"/><line x1="120.04" y1="101.20" x2="120.04" y2="108.60" stroke="#dacdb8" stroke-width="0.45"/><rect x="119.54" y="104.10" width="1.0" height="1.6" fill="#7a6a50" fill-opacity="0.85"/>
<circle cx="137.50" cy="104.90" r="3.3" fill="#9a98d4" fill-opacity="0.09"/><circle cx="137.50" cy="104.90" r="2.85" fill="none" stroke="#bcbcd6" stroke-width="0.95"/><line x1="134.20" y1="104.90" x2="140.80" y2="104.90" stroke="#2c2a70" stroke-width="0.5" stroke-opacity="0.3"/><line x1="137.50" y1="101.20" x2="137.50" y2="108.60" stroke="#2c2a70" stroke-width="0.5" stroke-opacity="0.3"/><circle cx="137.50" cy="104.90" r="1.05" fill="#2c2a70"/>
<circle cx="154.96" cy="104.90" r="2.85" fill="none" stroke="#b8b8b8" stroke-width="1.0"/><line x1="154.96" y1="101.20" x2="154.96" y2="108.60" stroke="#b8b8b8" stroke-width="0.45"/><rect x="154.46" y="104.10" width="1.0" height="1.6" fill="#6a6a6a" fill-opacity="0.85"/>
<circle cx="172.42" cy="104.90" r="3.3" fill="#7a78c8" fill-opacity="0.16"/><circle cx="172.42" cy="104.90" r="2.85" fill="none" stroke="#b0b0d2" stroke-width="0.95"/><line x1="169.12" y1="104.90" x2="175.72" y2="104.90" stroke="#1e1c66" stroke-width="0.5" stroke-opacity="0.3"/><line x1="172.42" y1="101.20" x2="172.42" y2="108.60" stroke="#1e1c66" stroke-width="0.5" stroke-opacity="0.3"/><circle cx="172.42" cy="104.90" r="1.25" fill="#1e1c66"/>
<circle cx="189.88" cy="104.90" r="2.85" fill="none" stroke="#b8b8b8" stroke-width="1.0"/><line x1="189.88" y1="101.20" x2="189.88" y2="108.60" stroke="#b8b8b8" stroke-width="0.45"/><rect x="189.38" y="104.10" width="1.0" height="1.6" fill="#6a6a6a" fill-opacity="0.85"/>
<circle cx="207.34" cy="104.90" r="2.85" fill="none" stroke="#b8b8b8" stroke-width="1.0"/><line x1="207.34" y1="101.20" x2="207.34" y2="108.60" stroke="#b8b8b8" stroke-width="0.45"/><rect x="206.84" y="104.10" width="1.0" height="1.6" fill="#6a6a6a" fill-opacity="0.85"/>
<circle cx="224.80" cy="104.90" r="2.85" fill="none" stroke="#b8b8b8" stroke-width="1.0"/><line x1="224.80" y1="101.20" x2="224.80" y2="108.60" stroke="#b8b8b8" stroke-width="0.45"/><rect x="224.30" y="104.10" width="1.0" height="1.6" fill="#6a6a6a" fill-opacity="0.85"/>
<circle cx="242.26" cy="104.90" r="3.3" fill="#ea9a5a" fill-opacity="0.22"/><circle cx="242.26" cy="104.90" r="2.85" fill="none" stroke="#e6c0a0" stroke-width="0.95"/><line x1="238.96" y1="104.90" x2="245.56" y2="104.90" stroke="#b85a28" stroke-width="0.5" stroke-opacity="0.3"/><line x1="242.26" y1="101.20" x2="242.26" y2="108.60" stroke="#b85a28" stroke-width="0.5" stroke-opacity="0.3"/><circle cx="242.26" cy="104.90" r="1.2" fill="#b85a28"/>
<circle cx="259.72" cy="104.90" r="3.3" fill="#e46060" fill-opacity="0.16"/><circle cx="259.72" cy="104.90" r="2.85" fill="none" stroke="#e0acac" stroke-width="0.95"/><line x1="256.42" y1="104.90" x2="263.02" y2="104.90" stroke="#a01828" stroke-width="0.5" stroke-opacity="0.3"/><line x1="259.72" y1="101.20" x2="259.72" y2="108.60" stroke="#a01828" stroke-width="0.5" stroke-opacity="0.3"/><circle cx="259.72" cy="104.90" r="1.25" fill="#a01828"/>
<circle cx="277.18" cy="104.90" r="2.85" fill="none" stroke="#b8b8b8" stroke-width="1.0"/><line x1="277.18" y1="101.20" x2="277.18" y2="108.60" stroke="#b8b8b8" stroke-width="0.45"/><rect x="276.68" y="104.10" width="1.0" height="1.6" fill="#6a6a6a" fill-opacity="0.85"/>
<circle cx="294.64" cy="104.90" r="3.3" fill="#7a78c8" fill-opacity="0.16"/><circle cx="294.64" cy="104.90" r="2.85" fill="none" stroke="#b0b0d2" stroke-width="0.95"/><line x1="291.34" y1="104.90" x2="297.94" y2="104.90" stroke="#1e1c66" stroke-width="0.5" stroke-opacity="0.3"/><line x1="294.64" y1="101.20" x2="294.64" y2="108.60" stroke="#1e1c66" stroke-width="0.5" stroke-opacity="0.3"/><circle cx="294.64" cy="104.90" r="1.25" fill="#1e1c66"/>
<circle cx="50.20" cy="115.75" r="2.85" fill="none" stroke="#d6baba" stroke-width="1.0"/><line x1="50.20" y1="112.05" x2="50.20" y2="119.45" stroke="#d6baba" stroke-width="0.45"/><rect x="49.70" y="114.95" width="1.0" height="1.6" fill="#7a4a4a" fill-opacity="0.85"/>
<circle cx="67.66" cy="115.75" r="3.3" fill="#ea9090" fill-opacity="0.09"/><circle cx="67.66" cy="115.75" r="2.85" fill="none" stroke="#e0bcbc" stroke-width="0.95"/><line x1="64.36" y1="115.75" x2="70.96" y2="115.75" stroke="#983040" stroke-width="0.5" stroke-opacity="0.3"/><line x1="67.66" y1="112.05" x2="67.66" y2="119.45" stroke="#983040" stroke-width="0.5" stroke-opacity="0.3"/><circle cx="67.66" cy="115.75" r="1.05" fill="#983040"/>
<circle cx="85.12" cy="115.75" r="2.85" fill="none" stroke="#b8b8b8" stroke-width="1.0"/><line x1="85.12" y1="112.05" x2="85.12" y2="119.45" stroke="#b8b8b8" stroke-width="0.45"/><rect x="84.62" y="114.95" width="1.0" height="1.6" fill="#6a6a6a" fill-opacity="0.85"/>
<circle cx="102.58" cy="115.75" r="2.85" fill="none" stroke="#b8b8b8" stroke-width="1.0"/><line x1="102.58" y1="112.05" x2="102.58" y2="119.45" stroke="#b8b8b8" stroke-width="0.45"/><rect x="102.08" y="114.95" width="1.0" height="1.6" fill="#6a6a6a" fill-opacity="0.85"/>
<circle cx="120.04" cy="115.75" r="3.3" fill="#e46060" fill-opacity="0.16"/><circle cx="120.04" cy="115.75" r="2.85" fill="none" stroke="#e0acac" stroke-width="0.95"/><line x1="116.74" y1="115.75" x2="123.34" y2="115.75" stroke="#a01828" stroke-width="0.5" stroke-opacity="0.3"/><line x1="120.04" y1="112.05" x2="120.04" y2="119.45" stroke="#a01828" stroke-width="0.5" stroke-opacity="0.3"/><circle cx="120.04" cy="115.75" r="1.25" fill="#a01828"/>
<circle cx="137.50" cy="115.75" r="3.3" fill="#e46060" fill-opacity="0.16"/><circle cx="137.50" cy="115.75" r="2.85" fill="none" stroke="#e0acac" stroke-width="0.95"/><line x1="134.20" y1="115.75" x2="140.80" y2="115.75" stroke="#a01828" stroke-width="0.5" stroke-opacity="0.3"/><line x1="137.50" y1="112.05" x2="137.50" y2="119.45" stroke="#a01828" stroke-width="0.5" stroke-opacity="0.3"/><circle cx="137.50" cy="115.75" r="1.25" fill="#a01828"/>
<circle cx="154.96" cy="115.75" r="3.3" fill="#ea9090" fill-opacity="0.09"/><circle cx="154.96" cy="115.75" r="2.85" fill="none" stroke="#e0bcbc" stroke-width="0.95"/><line x1="151.66" y1="115.75" x2="158.26" y2="115.75" stroke="#983040" stroke-width="0.5" stroke-opacity="0.3"/><line x1="154.96" y1="112.05" x2="154.96" y2="119.45" stroke="#983040" stroke-width="0.5" stroke-opacity="0.3"/><circle cx="154.96" cy="115.75" r="1.05" fill="#983040"/>
<circle cx="172.42" cy="115.75" r="2.85" fill="none" stroke="#b8b8b8" stroke-width="1.0"/><line x1="172.42" y1="112.05" x2="172.42" y2="119.45" stroke="#b8b8b8" stroke-width="0.45"/><rect x="171.92" y="114.95" width="1.0" height="1.6" fill="#6a6a6a" fill-opacity="0.85"/>
<circle cx="189.88" cy="115.75" r="2.85" fill="none" stroke="#b8b8b8" stroke-width="1.0"/><line x1="189.88" y1="112.05" x2="189.88" y2="119.45" stroke="#b8b8b8" stroke-width="0.45"/><rect x="189.38" y="114.95" width="1.0" height="1.6" fill="#6a6a6a" fill-opacity="0.85"/>
<circle cx="207.34" cy="115.75" r="2.85" fill="none" stroke="#dacdb8" stroke-width="1.0"/><line x1="207.34" y1="112.05" x2="207.34" y2="119.45" stroke="#dacdb8" stroke-width="0.45"/><rect x="206.84" y="114.95" width="1.0" height="1.6" fill="#7a6a50" fill-opacity="0.85"/>
<circle cx="224.80" cy="115.75" r="2.85" fill="none" stroke="#b8b8b8" stroke-width="1.0"/><line x1="224.80" y1="112.05" x2="224.80" y2="119.45" stroke="#b8b8b8" stroke-width="0.45"/><rect x="224.30" y="114.95" width="1.0" height="1.6" fill="#6a6a6a" fill-opacity="0.85"/>
<circle cx="242.26" cy="115.75" r="2.85" fill="none" stroke="#bebed6" stroke-width="1.0"/><line x1="242.26" y1="112.05" x2="242.26" y2="119.45" stroke="#bebed6" stroke-width="0.45"/><rect x="241.76" y="114.95" width="1.0" height="1.6" fill="#3a3a70" fill-opacity="0.85"/>
<circle cx="259.72" cy="115.75" r="2.85" fill="none" stroke="#b8b8b8" stroke-width="1.0"/><line x1="259.72" y1="112.05" x2="259.72" y2="119.45" stroke="#b8b8b8" stroke-width="0.45"/><rect x="259.22" y="114.95" width="1.0" height="1.6" fill="#6a6a6a" fill-opacity="0.85"/>
<circle cx="277.18" cy="115.75" r="2.85" fill="none" stroke="#b8b8b8" stroke-width="1.0"/><line x1="277.18" y1="112.05" x2="277.18" y2="119.45" stroke="#b8b8b8" stroke-width="0.45"/><rect x="276.68" y="114.95" width="1.0" height="1.6" fill="#6a6a6a" fill-opacity="0.85"/>
<circle cx="294.64" cy="115.75" r="2.85" fill="none" stroke="#d6baba" stroke-width="1.0"/><line x1="294.64" y1="112.05" x2="294.64" y2="119.45" stroke="#d6baba" stroke-width="0.45"/><rect x="294.14" y="114.95" width="1.0" height="1.6" fill="#7a4a4a" fill-opacity="0.85"/>
<circle cx="50.20" cy="126.60" r="2.85" fill="none" stroke="#b8b8b8" stroke-width="1.0"/><line x1="50.20" y1="122.90" x2="50.20" y2="130.30" stroke="#b8b8b8" stroke-width="0.45"/><rect x="49.70" y="125.80" width="1.0" height="1.6" fill="#6a6a6a" fill-opacity="0.85"/>
<circle cx="67.66" cy="126.60" r="2.85" fill="none" stroke="#b8b8b8" stroke-width="1.0"/><line x1="67.66" y1="122.90" x2="67.66" y2="130.30" stroke="#b8b8b8" stroke-width="0.45"/><rect x="67.16" y="125.80" width="1.0" height="1.6" fill="#6a6a6a" fill-opacity="0.85"/>
<circle cx="85.12" cy="126.60" r="2.85" fill="none" stroke="#b8b8b8" stroke-width="1.0"/><line x1="85.12" y1="122.90" x2="85.12" y2="130.30" stroke="#b8b8b8" stroke-width="0.45"/><rect x="84.62" y="125.80" width="1.0" height="1.6" fill="#6a6a6a" fill-opacity="0.85"/>
<circle cx="102.58" cy="126.60" r="2.85" fill="none" stroke="#b8b8b8" stroke-width="1.0"/><line x1="102.58" y1="122.90" x2="102.58" y2="130.30" stroke="#b8b8b8" stroke-width="0.45"/><rect x="102.08" y="125.80" width="1.0" height="1.6" fill="#6a6a6a" fill-opacity="0.85"/>
<circle cx="120.04" cy="126.60" r="2.85" fill="none" stroke="#b8b8b8" stroke-width="1.0"/><line x1="120.04" y1="122.90" x2="120.04" y2="130.30" stroke="#b8b8b8" stroke-width="0.45"/><rect x="119.54" y="125.80" width="1.0" height="1.6" fill="#6a6a6a" fill-opacity="0.85"/>
<circle cx="137.50" cy="126.60" r="2.85" fill="none" stroke="#b8b8b8" stroke-width="1.0"/><line x1="137.50" y1="122.90" x2="137.50" y2="130.30" stroke="#b8b8b8" stroke-width="0.45"/><rect x="137.00" y="125.80" width="1.0" height="1.6" fill="#6a6a6a" fill-opacity="0.85"/>
<circle cx="154.96" cy="126.60" r="2.85" fill="none" stroke="#b8b8b8" stroke-width="1.0"/><line x1="154.96" y1="122.90" x2="154.96" y2="130.30" stroke="#b8b8b8" stroke-width="0.45"/><rect x="154.46" y="125.80" width="1.0" height="1.6" fill="#6a6a6a" fill-opacity="0.85"/>
<circle cx="172.42" cy="126.60" r="2.85" fill="none" stroke="#b8b8b8" stroke-width="1.0"/><line x1="172.42" y1="122.90" x2="172.42" y2="130.30" stroke="#b8b8b8" stroke-width="0.45"/><rect x="171.92" y="125.80" width="1.0" height="1.6" fill="#6a6a6a" fill-opacity="0.85"/>
<circle cx="189.88" cy="126.60" r="3.3" fill="#7a78c8" fill-opacity="0.16"/><circle cx="189.88" cy="126.60" r="2.85" fill="none" stroke="#b0b0d2" stroke-width="0.95"/><line x1="186.58" y1="126.60" x2="193.18" y2="126.60" stroke="#1e1c66" stroke-width="0.5" stroke-opacity="0.3"/><line x1="189.88" y1="122.90" x2="189.88" y2="130.30" stroke="#1e1c66" stroke-width="0.5" stroke-opacity="0.3"/><circle cx="189.88" cy="126.60" r="1.25" fill="#1e1c66"/>
<circle cx="207.34" cy="126.60" r="3.3" fill="#7a78c8" fill-opacity="0.16"/><circle cx="207.34" cy="126.60" r="2.85" fill="none" stroke="#b0b0d2" stroke-width="0.95"/><line x1="204.04" y1="126.60" x2="210.64" y2="126.60" stroke="#1e1c66" stroke-width="0.5" stroke-opacity="0.3"/><line x1="207.34" y1="122.90" x2="207.34" y2="130.30" stroke="#1e1c66" stroke-width="0.5" stroke-opacity="0.3"/><circle cx="207.34" cy="126.60" r="1.25" fill="#1e1c66"/>
<circle cx="224.80" cy="126.60" r="3.3" fill="#9a98d4" fill-opacity="0.09"/><circle cx="224.80" cy="126.60" r="2.85" fill="none" stroke="#bcbcd6" stroke-width="0.95"/><line x1="221.50" y1="126.60" x2="228.10" y2="126.60" stroke="#2c2a70" stroke-width="0.5" stroke-opacity="0.3"/><line x1="224.80" y1="122.90" x2="224.80" y2="130.30" stroke="#2c2a70" stroke-width="0.5" stroke-opacity="0.3"/><circle cx="224.80" cy="126.60" r="1.05" fill="#2c2a70"/>
<circle cx="242.26" cy="126.60" r="2.85" fill="none" stroke="#dacdb8" stroke-width="1.0"/><line x1="242.26" y1="122.90" x2="242.26" y2="130.30" stroke="#dacdb8" stroke-width="0.45"/><rect x="241.76" y="125.80" width="1.0" height="1.6" fill="#7a6a50" fill-opacity="0.85"/>
<circle cx="259.72" cy="126.60" r="3.3" fill="#ea9090" fill-opacity="0.09"/><circle cx="259.72" cy="126.60" r="2.85" fill="none" stroke="#e0bcbc" stroke-width="0.95"/><line x1="256.42" y1="126.60" x2="263.02" y2="126.60" stroke="#983040" stroke-width="0.5" stroke-opacity="0.3"/><line x1="259.72" y1="122.90" x2="259.72" y2="130.30" stroke="#983040" stroke-width="0.5" stroke-opacity="0.3"/><circle cx="259.72" cy="126.60" r="1.05" fill="#983040"/>
<circle cx="277.18" cy="126.60" r="3.3" fill="#9a98d4" fill-opacity="0.09"/><circle cx="277.18" cy="126.60" r="2.85" fill="none" stroke="#bcbcd6" stroke-width="0.95"/><line x1="273.88" y1="126.60" x2="280.48" y2="126.60" stroke="#2c2a70" stroke-width="0.5" stroke-opacity="0.3"/><line x1="277.18" y1="122.90" x2="277.18" y2="130.30" stroke="#2c2a70" stroke-width="0.5" stroke-opacity="0.3"/><circle cx="277.18" cy="126.60" r="1.05" fill="#2c2a70"/>
<circle cx="294.64" cy="126.60" r="2.85" fill="none" stroke="#d6baba" stroke-width="1.0"/><line x1="294.64" y1="122.90" x2="294.64" y2="130.30" stroke="#d6baba" stroke-width="0.45"/><rect x="294.14" y="125.80" width="1.0" height="1.6" fill="#7a4a4a" fill-opacity="0.85"/>
<circle cx="50.20" cy="137.45" r="3.3" fill="#7a78c8" fill-opacity="0.16"/><circle cx="50.20" cy="137.45" r="2.85" fill="none" stroke="#b0b0d2" stroke-width="0.95"/><line x1="46.90" y1="137.45" x2="53.50" y2="137.45" stroke="#1e1c66" stroke-width="0.5" stroke-opacity="0.3"/><line x1="50.20" y1="133.75" x2="50.20" y2="141.15" stroke="#1e1c66" stroke-width="0.5" stroke-opacity="0.3"/><circle cx="50.20" cy="137.45" r="1.25" fill="#1e1c66"/>
<circle cx="67.66" cy="137.45" r="3.3" fill="#7a78c8" fill-opacity="0.16"/><circle cx="67.66" cy="137.45" r="2.85" fill="none" stroke="#b0b0d2" stroke-width="0.95"/><line x1="64.36" y1="137.45" x2="70.96" y2="137.45" stroke="#1e1c66" stroke-width="0.5" stroke-opacity="0.3"/><line x1="67.66" y1="133.75" x2="67.66" y2="141.15" stroke="#1e1c66" stroke-width="0.5" stroke-opacity="0.3"/><circle cx="67.66" cy="137.45" r="1.25" fill="#1e1c66"/>
<circle cx="85.12" cy="137.45" r="3.3" fill="#7a78c8" fill-opacity="0.16"/><circle cx="85.12" cy="137.45" r="2.85" fill="none" stroke="#b0b0d2" stroke-width="0.95"/><line x1="81.82" y1="137.45" x2="88.42" y2="137.45" stroke="#1e1c66" stroke-width="0.5" stroke-opacity="0.3"/><line x1="85.12" y1="133.75" x2="85.12" y2="141.15" stroke="#1e1c66" stroke-width="0.5" stroke-opacity="0.3"/><circle cx="85.12" cy="137.45" r="1.25" fill="#1e1c66"/>
<circle cx="102.58" cy="137.45" r="3.3" fill="#ea9090" fill-opacity="0.09"/><circle cx="102.58" cy="137.45" r="2.85" fill="none" stroke="#e0bcbc" stroke-width="0.95"/><line x1="99.28" y1="137.45" x2="105.88" y2="137.45" stroke="#983040" stroke-width="0.5" stroke-opacity="0.3"/><line x1="102.58" y1="133.75" x2="102.58" y2="141.15" stroke="#983040" stroke-width="0.5" stroke-opacity="0.3"/><circle cx="102.58" cy="137.45" r="1.05" fill="#983040"/>
<circle cx="120.04" cy="137.45" r="2.85" fill="none" stroke="#b8b8b8" stroke-width="1.0"/><line x1="120.04" y1="133.75" x2="120.04" y2="141.15" stroke="#b8b8b8" stroke-width="0.45"/><rect x="119.54" y="136.65" width="1.0" height="1.6" fill="#6a6a6a" fill-opacity="0.85"/>
<circle cx="137.50" cy="137.45" r="2.85" fill="none" stroke="#b8b8b8" stroke-width="1.0"/><line x1="137.50" y1="133.75" x2="137.50" y2="141.15" stroke="#b8b8b8" stroke-width="0.45"/><rect x="137.00" y="136.65" width="1.0" height="1.6" fill="#6a6a6a" fill-opacity="0.85"/>
<circle cx="154.96" cy="137.45" r="2.85" fill="none" stroke="#b8b8b8" stroke-width="1.0"/><line x1="154.96" y1="133.75" x2="154.96" y2="141.15" stroke="#b8b8b8" stroke-width="0.45"/><rect x="154.46" y="136.65" width="1.0" height="1.6" fill="#6a6a6a" fill-opacity="0.85"/>
<circle cx="172.42" cy="137.45" r="2.85" fill="none" stroke="#b8b8b8" stroke-width="1.0"/><line x1="172.42" y1="133.75" x2="172.42" y2="141.15" stroke="#b8b8b8" stroke-width="0.45"/><rect x="171.92" y="136.65" width="1.0" height="1.6" fill="#6a6a6a" fill-opacity="0.85"/>
<circle cx="189.88" cy="137.45" r="2.85" fill="none" stroke="#b8b8b8" stroke-width="1.0"/><line x1="189.88" y1="133.75" x2="189.88" y2="141.15" stroke="#b8b8b8" stroke-width="0.45"/><rect x="189.38" y="136.65" width="1.0" height="1.6" fill="#6a6a6a" fill-opacity="0.85"/>
<circle cx="207.34" cy="137.45" r="2.85" fill="none" stroke="#b8b8b8" stroke-width="1.0"/><line x1="207.34" y1="133.75" x2="207.34" y2="141.15" stroke="#b8b8b8" stroke-width="0.45"/><rect x="206.84" y="136.65" width="1.0" height="1.6" fill="#6a6a6a" fill-opacity="0.85"/>
<circle cx="224.80" cy="137.45" r="2.85" fill="none" stroke="#b8b8b8" stroke-width="1.0"/><line x1="224.80" y1="133.75" x2="224.80" y2="141.15" stroke="#b8b8b8" stroke-width="0.45"/><rect x="224.30" y="136.65" width="1.0" height="1.6" fill="#6a6a6a" fill-opacity="0.85"/>
<circle cx="242.26" cy="137.45" r="2.85" fill="none" stroke="#b8b8b8" stroke-width="1.0"/><line x1="242.26" y1="133.75" x2="242.26" y2="141.15" stroke="#b8b8b8" stroke-width="0.45"/><rect x="241.76" y="136.65" width="1.0" height="1.6" fill="#6a6a6a" fill-opacity="0.85"/>
<circle cx="259.72" cy="137.45" r="3.3" fill="#ea9090" fill-opacity="0.09"/><circle cx="259.72" cy="137.45" r="2.85" fill="none" stroke="#e0bcbc" stroke-width="0.95"/><line x1="256.42" y1="137.45" x2="263.02" y2="137.45" stroke="#983040" stroke-width="0.5" stroke-opacity="0.3"/><line x1="259.72" y1="133.75" x2="259.72" y2="141.15" stroke="#983040" stroke-width="0.5" stroke-opacity="0.3"/><circle cx="259.72" cy="137.45" r="1.05" fill="#983040"/>
<circle cx="277.18" cy="137.45" r="3.3" fill="#9a98d4" fill-opacity="0.09"/><circle cx="277.18" cy="137.45" r="2.85" fill="none" stroke="#bcbcd6" stroke-width="0.95"/><line x1="273.88" y1="137.45" x2="280.48" y2="137.45" stroke="#2c2a70" stroke-width="0.5" stroke-opacity="0.3"/><line x1="277.18" y1="133.75" x2="277.18" y2="141.15" stroke="#2c2a70" stroke-width="0.5" stroke-opacity="0.3"/><circle cx="277.18" cy="137.45" r="1.05" fill="#2c2a70"/>
<circle cx="294.64" cy="137.45" r="2.85" fill="none" stroke="#b8b8b8" stroke-width="1.0"/><line x1="294.64" y1="133.75" x2="294.64" y2="141.15" stroke="#b8b8b8" stroke-width="0.45"/><rect x="294.14" y="136.65" width="1.0" height="1.6" fill="#6a6a6a" fill-opacity="0.85"/>
<circle cx="50.20" cy="148.30" r="2.85" fill="none" stroke="#b8b8b8" stroke-width="1.0"/><line x1="50.20" y1="144.60" x2="50.20" y2="152.00" stroke="#b8b8b8" stroke-width="0.45"/><rect x="49.70" y="147.50" width="1.0" height="1.6" fill="#6a6a6a" fill-opacity="0.85"/>
<circle cx="67.66" cy="148.30" r="2.85" fill="none" stroke="#b8b8b8" stroke-width="1.0"/><line x1="67.66" y1="144.60" x2="67.66" y2="152.00" stroke="#b8b8b8" stroke-width="0.45"/><rect x="67.16" y="147.50" width="1.0" height="1.6" fill="#6a6a6a" fill-opacity="0.85"/>
<circle cx="85.12" cy="148.30" r="2.85" fill="none" stroke="#b8b8b8" stroke-width="1.0"/><line x1="85.12" y1="144.60" x2="85.12" y2="152.00" stroke="#b8b8b8" stroke-width="0.45"/><rect x="84.62" y="147.50" width="1.0" height="1.6" fill="#6a6a6a" fill-opacity="0.85"/>
<circle cx="102.58" cy="148.30" r="2.85" fill="none" stroke="#b8b8b8" stroke-width="1.0"/><line x1="102.58" y1="144.60" x2="102.58" y2="152.00" stroke="#b8b8b8" stroke-width="0.45"/><rect x="102.08" y="147.50" width="1.0" height="1.6" fill="#6a6a6a" fill-opacity="0.85"/>
<circle cx="120.04" cy="148.30" r="2.85" fill="none" stroke="#b8b8b8" stroke-width="1.0"/><line x1="120.04" y1="144.60" x2="120.04" y2="152.00" stroke="#b8b8b8" stroke-width="0.45"/><rect x="119.54" y="147.50" width="1.0" height="1.6" fill="#6a6a6a" fill-opacity="0.85"/>
<circle cx="137.50" cy="148.30" r="2.85" fill="none" stroke="#b8b8b8" stroke-width="1.0"/><line x1="137.50" y1="144.60" x2="137.50" y2="152.00" stroke="#b8b8b8" stroke-width="0.45"/><rect x="137.00" y="147.50" width="1.0" height="1.6" fill="#6a6a6a" fill-opacity="0.85"/>
<circle cx="154.96" cy="148.30" r="2.85" fill="none" stroke="#b8b8b8" stroke-width="1.0"/><line x1="154.96" y1="144.60" x2="154.96" y2="152.00" stroke="#b8b8b8" stroke-width="0.45"/><rect x="154.46" y="147.50" width="1.0" height="1.6" fill="#6a6a6a" fill-opacity="0.85"/>
<circle cx="172.42" cy="148.30" r="2.85" fill="none" stroke="#b8b8b8" stroke-width="1.0"/><line x1="172.42" y1="144.60" x2="172.42" y2="152.00" stroke="#b8b8b8" stroke-width="0.45"/><rect x="171.92" y="147.50" width="1.0" height="1.6" fill="#6a6a6a" fill-opacity="0.85"/>
<circle cx="189.88" cy="148.30" r="2.85" fill="none" stroke="#b8b8b8" stroke-width="1.0"/><line x1="189.88" y1="144.60" x2="189.88" y2="152.00" stroke="#b8b8b8" stroke-width="0.45"/><rect x="189.38" y="147.50" width="1.0" height="1.6" fill="#6a6a6a" fill-opacity="0.85"/>
<circle cx="207.34" cy="148.30" r="2.85" fill="none" stroke="#b8b8b8" stroke-width="1.0"/><line x1="207.34" y1="144.60" x2="207.34" y2="152.00" stroke="#b8b8b8" stroke-width="0.45"/><rect x="206.84" y="147.50" width="1.0" height="1.6" fill="#6a6a6a" fill-opacity="0.85"/>
<circle cx="224.80" cy="148.30" r="2.85" fill="none" stroke="#b8b8b8" stroke-width="1.0"/><line x1="224.80" y1="144.60" x2="224.80" y2="152.00" stroke="#b8b8b8" stroke-width="0.45"/><rect x="224.30" y="147.50" width="1.0" height="1.6" fill="#6a6a6a" fill-opacity="0.85"/>
<circle cx="242.26" cy="148.30" r="2.85" fill="none" stroke="#b8b8b8" stroke-width="1.0"/><line x1="242.26" y1="144.60" x2="242.26" y2="152.00" stroke="#b8b8b8" stroke-width="0.45"/><rect x="241.76" y="147.50" width="1.0" height="1.6" fill="#6a6a6a" fill-opacity="0.85"/>
<circle cx="259.72" cy="148.30" r="2.85" fill="none" stroke="#d6baba" stroke-width="1.0"/><line x1="259.72" y1="144.60" x2="259.72" y2="152.00" stroke="#d6baba" stroke-width="0.45"/><rect x="259.22" y="147.50" width="1.0" height="1.6" fill="#7a4a4a" fill-opacity="0.85"/>
<circle cx="277.18" cy="148.30" r="2.85" fill="none" stroke="#b8b8b8" stroke-width="1.0"/><line x1="277.18" y1="144.60" x2="277.18" y2="152.00" stroke="#b8b8b8" stroke-width="0.45"/><rect x="276.68" y="147.50" width="1.0" height="1.6" fill="#6a6a6a" fill-opacity="0.85"/>
<circle cx="294.64" cy="148.30" r="2.85" fill="none" stroke="#b8b8b8" stroke-width="1.0"/><line x1="294.64" y1="144.60" x2="294.64" y2="152.00" stroke="#b8b8b8" stroke-width="0.45"/><rect x="294.14" y="147.50" width="1.0" height="1.6" fill="#6a6a6a" fill-opacity="0.85"/>
<circle cx="50.20" cy="159.15" r="2.85" fill="none" stroke="#b8b8b8" stroke-width="1.0"/><line x1="50.20" y1="155.45" x2="50.20" y2="162.85" stroke="#b8b8b8" stroke-width="0.45"/><rect x="49.70" y="158.35" width="1.0" height="1.6" fill="#6a6a6a" fill-opacity="0.85"/>
<circle cx="67.66" cy="159.15" r="2.85" fill="none" stroke="#b8b8b8" stroke-width="1.0"/><line x1="67.66" y1="155.45" x2="67.66" y2="162.85" stroke="#b8b8b8" stroke-width="0.45"/><rect x="67.16" y="158.35" width="1.0" height="1.6" fill="#6a6a6a" fill-opacity="0.85"/>
<circle cx="85.12" cy="159.15" r="2.85" fill="none" stroke="#b8b8b8" stroke-width="1.0"/><line x1="85.12" y1="155.45" x2="85.12" y2="162.85" stroke="#b8b8b8" stroke-width="0.45"/><rect x="84.62" y="158.35" width="1.0" height="1.6" fill="#6a6a6a" fill-opacity="0.85"/>
<circle cx="102.58" cy="159.15" r="3.3" fill="#7a78c8" fill-opacity="0.16"/><circle cx="102.58" cy="159.15" r="2.85" fill="none" stroke="#b0b0d2" stroke-width="0.95"/><line x1="99.28" y1="159.15" x2="105.88" y2="159.15" stroke="#1e1c66" stroke-width="0.5" stroke-opacity="0.3"/><line x1="102.58" y1="155.45" x2="102.58" y2="162.85" stroke="#1e1c66" stroke-width="0.5" stroke-opacity="0.3"/><circle cx="102.58" cy="159.15" r="1.25" fill="#1e1c66"/>
<circle cx="120.04" cy="159.15" r="3.3" fill="#7a78c8" fill-opacity="0.16"/><circle cx="120.04" cy="159.15" r="2.85" fill="none" stroke="#b0b0d2" stroke-width="0.95"/><line x1="116.74" y1="159.15" x2="123.34" y2="159.15" stroke="#1e1c66" stroke-width="0.5" stroke-opacity="0.3"/><line x1="120.04" y1="155.45" x2="120.04" y2="162.85" stroke="#1e1c66" stroke-width="0.5" stroke-opacity="0.3"/><circle cx="120.04" cy="159.15" r="1.25" fill="#1e1c66"/>
<circle cx="137.50" cy="159.15" r="3.3" fill="#9a98d4" fill-opacity="0.09"/><circle cx="137.50" cy="159.15" r="2.85" fill="none" stroke="#bcbcd6" stroke-width="0.95"/><line x1="134.20" y1="159.15" x2="140.80" y2="159.15" stroke="#2c2a70" stroke-width="0.5" stroke-opacity="0.3"/><line x1="137.50" y1="155.45" x2="137.50" y2="162.85" stroke="#2c2a70" stroke-width="0.5" stroke-opacity="0.3"/><circle cx="137.50" cy="159.15" r="1.05" fill="#2c2a70"/>
<circle cx="154.96" cy="159.15" r="3.3" fill="#7a78c8" fill-opacity="0.16"/><circle cx="154.96" cy="159.15" r="2.85" fill="none" stroke="#b0b0d2" stroke-width="0.95"/><line x1="151.66" y1="159.15" x2="158.26" y2="159.15" stroke="#1e1c66" stroke-width="0.5" stroke-opacity="0.3"/><line x1="154.96" y1="155.45" x2="154.96" y2="162.85" stroke="#1e1c66" stroke-width="0.5" stroke-opacity="0.3"/><circle cx="154.96" cy="159.15" r="1.25" fill="#1e1c66"/>
<circle cx="172.42" cy="159.15" r="2.85" fill="none" stroke="#b8b8b8" stroke-width="1.0"/><line x1="172.42" y1="155.45" x2="172.42" y2="162.85" stroke="#b8b8b8" stroke-width="0.45"/><rect x="171.92" y="158.35" width="1.0" height="1.6" fill="#6a6a6a" fill-opacity="0.85"/>
<circle cx="189.88" cy="159.15" r="3.3" fill="#7a78c8" fill-opacity="0.16"/><circle cx="189.88" cy="159.15" r="2.85" fill="none" stroke="#b0b0d2" stroke-width="0.95"/><line x1="186.58" y1="159.15" x2="193.18" y2="159.15" stroke="#1e1c66" stroke-width="0.5" stroke-opacity="0.3"/><line x1="189.88" y1="155.45" x2="189.88" y2="162.85" stroke="#1e1c66" stroke-width="0.5" stroke-opacity="0.3"/><circle cx="189.88" cy="159.15" r="1.25" fill="#1e1c66"/>
<circle cx="207.34" cy="159.15" r="3.3" fill="#9a98d4" fill-opacity="0.09"/><circle cx="207.34" cy="159.15" r="2.85" fill="none" stroke="#bcbcd6" stroke-width="0.95"/><line x1="204.04" y1="159.15" x2="210.64" y2="159.15" stroke="#2c2a70" stroke-width="0.5" stroke-opacity="0.3"/><line x1="207.34" y1="155.45" x2="207.34" y2="162.85" stroke="#2c2a70" stroke-width="0.5" stroke-opacity="0.3"/><circle cx="207.34" cy="159.15" r="1.05" fill="#2c2a70"/>
<circle cx="224.80" cy="159.15" r="2.85" fill="none" stroke="#b8b8b8" stroke-width="1.0"/><line x1="224.80" y1="155.45" x2="224.80" y2="162.85" stroke="#b8b8b8" stroke-width="0.45"/><rect x="224.30" y="158.35" width="1.0" height="1.6" fill="#6a6a6a" fill-opacity="0.85"/>
<circle cx="242.26" cy="159.15" r="3.3" fill="#ea9a5a" fill-opacity="0.22"/><circle cx="242.26" cy="159.15" r="2.85" fill="none" stroke="#e6c0a0" stroke-width="0.95"/><line x1="238.96" y1="159.15" x2="245.56" y2="159.15" stroke="#b85a28" stroke-width="0.5" stroke-opacity="0.3"/><line x1="242.26" y1="155.45" x2="242.26" y2="162.85" stroke="#b85a28" stroke-width="0.5" stroke-opacity="0.3"/><circle cx="242.26" cy="159.15" r="1.2" fill="#b85a28"/>
<circle cx="259.72" cy="159.15" r="3.3" fill="#e46060" fill-opacity="0.16"/><circle cx="259.72" cy="159.15" r="2.85" fill="none" stroke="#e0acac" stroke-width="0.95"/><line x1="256.42" y1="159.15" x2="263.02" y2="159.15" stroke="#a01828" stroke-width="0.5" stroke-opacity="0.3"/><line x1="259.72" y1="155.45" x2="259.72" y2="162.85" stroke="#a01828" stroke-width="0.5" stroke-opacity="0.3"/><circle cx="259.72" cy="159.15" r="1.25" fill="#a01828"/>
<circle cx="277.18" cy="159.15" r="2.85" fill="none" stroke="#b8b8b8" stroke-width="1.0"/><line x1="277.18" y1="155.45" x2="277.18" y2="162.85" stroke="#b8b8b8" stroke-width="0.45"/><rect x="276.68" y="158.35" width="1.0" height="1.6" fill="#6a6a6a" fill-opacity="0.85"/>
<circle cx="294.64" cy="159.15" r="3.3" fill="#9a98d4" fill-opacity="0.09"/><circle cx="294.64" cy="159.15" r="2.85" fill="none" stroke="#bcbcd6" stroke-width="0.95"/><line x1="291.34" y1="159.15" x2="297.94" y2="159.15" stroke="#2c2a70" stroke-width="0.5" stroke-opacity="0.3"/><line x1="294.64" y1="155.45" x2="294.64" y2="162.85" stroke="#2c2a70" stroke-width="0.5" stroke-opacity="0.3"/><circle cx="294.64" cy="159.15" r="1.05" fill="#2c2a70"/>
<circle cx="50.20" cy="170.00" r="3.3" fill="#7a78c8" fill-opacity="0.16"/><circle cx="50.20" cy="170.00" r="2.85" fill="none" stroke="#b0b0d2" stroke-width="0.95"/><line x1="46.90" y1="170.00" x2="53.50" y2="170.00" stroke="#1e1c66" stroke-width="0.5" stroke-opacity="0.3"/><line x1="50.20" y1="166.30" x2="50.20" y2="173.70" stroke="#1e1c66" stroke-width="0.5" stroke-opacity="0.3"/><circle cx="50.20" cy="170.00" r="1.25" fill="#1e1c66"/>
<circle cx="67.66" cy="170.00" r="2.8" fill="#24207a"/>
<circle cx="85.12" cy="170.00" r="3.3" fill="#7a78c8" fill-opacity="0.16"/><circle cx="85.12" cy="170.00" r="2.85" fill="none" stroke="#b0b0d2" stroke-width="0.95"/><line x1="81.82" y1="170.00" x2="88.42" y2="170.00" stroke="#1e1c66" stroke-width="0.5" stroke-opacity="0.3"/><line x1="85.12" y1="166.30" x2="85.12" y2="173.70" stroke="#1e1c66" stroke-width="0.5" stroke-opacity="0.3"/><circle cx="85.12" cy="170.00" r="1.25" fill="#1e1c66"/>
<circle cx="102.58" cy="170.00" r="2.85" fill="none" stroke="#b8b8b8" stroke-width="1.0"/><line x1="102.58" y1="166.30" x2="102.58" y2="173.70" stroke="#b8b8b8" stroke-width="0.45"/><rect x="102.08" y="169.20" width="1.0" height="1.6" fill="#6a6a6a" fill-opacity="0.85"/>
<circle cx="120.04" cy="170.00" r="3.3" fill="#7a7a6a" fill-opacity="0.26"/><circle cx="120.04" cy="170.00" r="2.85" fill="none" stroke="#b0b0a4" stroke-width="0.95"/><line x1="116.74" y1="170.00" x2="123.34" y2="170.00" stroke="#4a4a44" stroke-width="0.5" stroke-opacity="0.3"/><line x1="120.04" y1="166.30" x2="120.04" y2="173.70" stroke="#4a4a44" stroke-width="0.5" stroke-opacity="0.3"/><circle cx="120.04" cy="170.00" r="1.25" fill="#4a4a44"/>
<circle cx="137.50" cy="170.00" r="3.3" fill="#7a7a6a" fill-opacity="0.26"/><circle cx="137.50" cy="170.00" r="2.85" fill="none" stroke="#b0b0a4" stroke-width="0.95"/><line x1="134.20" y1="170.00" x2="140.80" y2="170.00" stroke="#4a4a44" stroke-width="0.5" stroke-opacity="0.3"/><line x1="137.50" y1="166.30" x2="137.50" y2="173.70" stroke="#4a4a44" stroke-width="0.5" stroke-opacity="0.3"/><circle cx="137.50" cy="170.00" r="1.25" fill="#4a4a44"/>
<circle cx="154.96" cy="170.00" r="3.3" fill="#7a7a6a" fill-opacity="0.26"/><circle cx="154.96" cy="170.00" r="2.85" fill="none" stroke="#b0b0a4" stroke-width="0.95"/><line x1="151.66" y1="170.00" x2="158.26" y2="170.00" stroke="#4a4a44" stroke-width="0.5" stroke-opacity="0.3"/><line x1="154.96" y1="166.30" x2="154.96" y2="173.70" stroke="#4a4a44" stroke-width="0.5" stroke-opacity="0.3"/><circle cx="154.96" cy="170.00" r="1.25" fill="#4a4a44"/>
<circle cx="172.42" cy="170.00" r="3.3" fill="#7a78c8" fill-opacity="0.16"/><circle cx="172.42" cy="170.00" r="2.85" fill="none" stroke="#b0b0d2" stroke-width="0.95"/><line x1="169.12" y1="170.00" x2="175.72" y2="170.00" stroke="#1e1c66" stroke-width="0.5" stroke-opacity="0.3"/><line x1="172.42" y1="166.30" x2="172.42" y2="173.70" stroke="#1e1c66" stroke-width="0.5" stroke-opacity="0.3"/><circle cx="172.42" cy="170.00" r="1.25" fill="#1e1c66"/>
<circle cx="189.88" cy="170.00" r="3.3" fill="#7a78c8" fill-opacity="0.16"/><circle cx="189.88" cy="170.00" r="2.85" fill="none" stroke="#b0b0d2" stroke-width="0.95"/><line x1="186.58" y1="170.00" x2="193.18" y2="170.00" stroke="#1e1c66" stroke-width="0.5" stroke-opacity="0.3"/><line x1="189.88" y1="166.30" x2="189.88" y2="173.70" stroke="#1e1c66" stroke-width="0.5" stroke-opacity="0.3"/><circle cx="189.88" cy="170.00" r="1.25" fill="#1e1c66"/>
<circle cx="207.34" cy="170.00" r="3.4" fill="#24207a"/>
<circle cx="224.80" cy="170.00" r="2.85" fill="none" stroke="#b8b8b8" stroke-width="1.0"/><line x1="224.80" y1="166.30" x2="224.80" y2="173.70" stroke="#b8b8b8" stroke-width="0.45"/><rect x="224.30" y="169.20" width="1.0" height="1.6" fill="#6a6a6a" fill-opacity="0.85"/>
<circle cx="242.26" cy="170.00" r="3.3" fill="#e6cc30" fill-opacity="0.75"/><circle cx="242.26" cy="170.00" r="2.85" fill="none" stroke="#e6d070" stroke-width="0.95"/><line x1="238.96" y1="170.00" x2="245.56" y2="170.00" stroke="#c0a020" stroke-width="0.5" stroke-opacity="0.3"/><line x1="242.26" y1="166.30" x2="242.26" y2="173.70" stroke="#c0a020" stroke-width="0.5" stroke-opacity="0.3"/><circle cx="242.26" cy="170.00" r="1.4" fill="#c0a020"/>
<circle cx="259.72" cy="170.00" r="2.8" fill="#d42027"/>
<circle cx="277.18" cy="170.00" r="2.85" fill="none" stroke="#b8b8b8" stroke-width="1.0"/><line x1="277.18" y1="166.30" x2="277.18" y2="173.70" stroke="#b8b8b8" stroke-width="0.45"/><rect x="276.68" y="169.20" width="1.0" height="1.6" fill="#6a6a6a" fill-opacity="0.85"/>
<circle cx="294.64" cy="170.00" r="3.3" fill="#d8c860" fill-opacity="0.22"/><circle cx="294.64" cy="170.00" r="2.85" fill="none" stroke="#dcd4a4" stroke-width="0.95"/><line x1="291.34" y1="170.00" x2="297.94" y2="170.00" stroke="#98883a" stroke-width="0.5" stroke-opacity="0.3"/><line x1="294.64" y1="166.30" x2="294.64" y2="173.70" stroke="#98883a" stroke-width="0.5" stroke-opacity="0.3"/><circle cx="294.64" cy="170.00" r="1.15" fill="#98883a"/>
<circle cx="50.20" cy="180.85" r="2.85" fill="none" stroke="#b8b8b8" stroke-width="1.0"/><line x1="50.20" y1="177.15" x2="50.20" y2="184.55" stroke="#b8b8b8" stroke-width="0.45"/><rect x="49.70" y="180.05" width="1.0" height="1.6" fill="#6a6a6a" fill-opacity="0.85"/>
<circle cx="67.66" cy="180.85" r="2.85" fill="none" stroke="#b8b8b8" stroke-width="1.0"/><line x1="67.66" y1="177.15" x2="67.66" y2="184.55" stroke="#b8b8b8" stroke-width="0.45"/><rect x="67.16" y="180.05" width="1.0" height="1.6" fill="#6a6a6a" fill-opacity="0.85"/>
<circle cx="85.12" cy="180.85" r="2.85" fill="none" stroke="#b8b8b8" stroke-width="1.0"/><line x1="85.12" y1="177.15" x2="85.12" y2="184.55" stroke="#b8b8b8" stroke-width="0.45"/><rect x="84.62" y="180.05" width="1.0" height="1.6" fill="#6a6a6a" fill-opacity="0.85"/>
<circle cx="102.58" cy="180.85" r="2.85" fill="none" stroke="#b8b8b8" stroke-width="1.0"/><line x1="102.58" y1="177.15" x2="102.58" y2="184.55" stroke="#b8b8b8" stroke-width="0.45"/><rect x="102.08" y="180.05" width="1.0" height="1.6" fill="#6a6a6a" fill-opacity="0.85"/>
<circle cx="120.04" cy="180.85" r="2.85" fill="none" stroke="#b8b8b8" stroke-width="1.0"/><line x1="120.04" y1="177.15" x2="120.04" y2="184.55" stroke="#b8b8b8" stroke-width="0.45"/><rect x="119.54" y="180.05" width="1.0" height="1.6" fill="#6a6a6a" fill-opacity="0.85"/>
<circle cx="137.50" cy="180.85" r="2.85" fill="none" stroke="#b8b8b8" stroke-width="1.0"/><line x1="137.50" y1="177.15" x2="137.50" y2="184.55" stroke="#b8b8b8" stroke-width="0.45"/><rect x="137.00" y="180.05" width="1.0" height="1.6" fill="#6a6a6a" fill-opacity="0.85"/>
<circle cx="154.96" cy="180.85" r="2.85" fill="none" stroke="#b8b8b8" stroke-width="1.0"/><line x1="154.96" y1="177.15" x2="154.96" y2="184.55" stroke="#b8b8b8" stroke-width="0.45"/><rect x="154.46" y="180.05" width="1.0" height="1.6" fill="#6a6a6a" fill-opacity="0.85"/>
<circle cx="172.42" cy="180.85" r="2.85" fill="none" stroke="#b8b8b8" stroke-width="1.0"/><line x1="172.42" y1="177.15" x2="172.42" y2="184.55" stroke="#b8b8b8" stroke-width="0.45"/><rect x="171.92" y="180.05" width="1.0" height="1.6" fill="#6a6a6a" fill-opacity="0.85"/>
<circle cx="189.88" cy="180.85" r="2.85" fill="none" stroke="#b8b8b8" stroke-width="1.0"/><line x1="189.88" y1="177.15" x2="189.88" y2="184.55" stroke="#b8b8b8" stroke-width="0.45"/><rect x="189.38" y="180.05" width="1.0" height="1.6" fill="#6a6a6a" fill-opacity="0.85"/>
<circle cx="207.34" cy="180.85" r="2.85" fill="none" stroke="#b8b8b8" stroke-width="1.0"/><line x1="207.34" y1="177.15" x2="207.34" y2="184.55" stroke="#b8b8b8" stroke-width="0.45"/><rect x="206.84" y="180.05" width="1.0" height="1.6" fill="#6a6a6a" fill-opacity="0.85"/>
<circle cx="224.80" cy="180.85" r="2.85" fill="none" stroke="#b8b8b8" stroke-width="1.0"/><line x1="224.80" y1="177.15" x2="224.80" y2="184.55" stroke="#b8b8b8" stroke-width="0.45"/><rect x="224.30" y="180.05" width="1.0" height="1.6" fill="#6a6a6a" fill-opacity="0.85"/>
<circle cx="242.26" cy="180.85" r="2.85" fill="none" stroke="#b8b8b8" stroke-width="1.0"/><line x1="242.26" y1="177.15" x2="242.26" y2="184.55" stroke="#b8b8b8" stroke-width="0.45"/><rect x="241.76" y="180.05" width="1.0" height="1.6" fill="#6a6a6a" fill-opacity="0.85"/>
<circle cx="259.72" cy="180.85" r="2.85" fill="none" stroke="#d6baba" stroke-width="1.0"/><line x1="259.72" y1="177.15" x2="259.72" y2="184.55" stroke="#d6baba" stroke-width="0.45"/><rect x="259.22" y="180.05" width="1.0" height="1.6" fill="#7a4a4a" fill-opacity="0.85"/>
<circle cx="277.18" cy="180.85" r="2.85" fill="none" stroke="#b8b8b8" stroke-width="1.0"/><line x1="277.18" y1="177.15" x2="277.18" y2="184.55" stroke="#b8b8b8" stroke-width="0.45"/><rect x="276.68" y="180.05" width="1.0" height="1.6" fill="#6a6a6a" fill-opacity="0.85"/>
<circle cx="294.64" cy="180.85" r="2.85" fill="none" stroke="#b8b8b8" stroke-width="1.0"/><line x1="294.64" y1="177.15" x2="294.64" y2="184.55" stroke="#b8b8b8" stroke-width="0.45"/><rect x="294.14" y="180.05" width="1.0" height="1.6" fill="#6a6a6a" fill-opacity="0.85"/>
<circle cx="50.20" cy="191.70" r="2.85" fill="none" stroke="#b8b8b8" stroke-width="1.0"/><line x1="50.20" y1="188.00" x2="50.20" y2="195.40" stroke="#b8b8b8" stroke-width="0.45"/><rect x="49.70" y="190.90" width="1.0" height="1.6" fill="#6a6a6a" fill-opacity="0.85"/>
<circle cx="67.66" cy="191.70" r="2.85" fill="none" stroke="#b8b8b8" stroke-width="1.0"/><line x1="67.66" y1="188.00" x2="67.66" y2="195.40" stroke="#b8b8b8" stroke-width="0.45"/><rect x="67.16" y="190.90" width="1.0" height="1.6" fill="#6a6a6a" fill-opacity="0.85"/>
<circle cx="85.12" cy="191.70" r="2.85" fill="none" stroke="#bebed6" stroke-width="1.0"/><line x1="85.12" y1="188.00" x2="85.12" y2="195.40" stroke="#bebed6" stroke-width="0.45"/><rect x="84.62" y="190.90" width="1.0" height="1.6" fill="#3a3a70" fill-opacity="0.85"/>
<circle cx="102.58" cy="191.70" r="2.85" fill="none" stroke="#dacdb8" stroke-width="1.0"/><line x1="102.58" y1="188.00" x2="102.58" y2="195.40" stroke="#dacdb8" stroke-width="0.45"/><rect x="102.08" y="190.90" width="1.0" height="1.6" fill="#7a6a50" fill-opacity="0.85"/>
<circle cx="120.04" cy="191.70" r="2.85" fill="none" stroke="#dacdb8" stroke-width="1.0"/><line x1="120.04" y1="188.00" x2="120.04" y2="195.40" stroke="#dacdb8" stroke-width="0.45"/><rect x="119.54" y="190.90" width="1.0" height="1.6" fill="#7a6a50" fill-opacity="0.85"/>
<circle cx="137.50" cy="191.70" r="2.85" fill="none" stroke="#bebed6" stroke-width="1.0"/><line x1="137.50" y1="188.00" x2="137.50" y2="195.40" stroke="#bebed6" stroke-width="0.45"/><rect x="137.00" y="190.90" width="1.0" height="1.6" fill="#3a3a70" fill-opacity="0.85"/>
<circle cx="154.96" cy="191.70" r="2.85" fill="none" stroke="#b8b8b8" stroke-width="1.0"/><line x1="154.96" y1="188.00" x2="154.96" y2="195.40" stroke="#b8b8b8" stroke-width="0.45"/><rect x="154.46" y="190.90" width="1.0" height="1.6" fill="#6a6a6a" fill-opacity="0.85"/>
<circle cx="172.42" cy="191.70" r="2.85" fill="none" stroke="#b8b8b8" stroke-width="1.0"/><line x1="172.42" y1="188.00" x2="172.42" y2="195.40" stroke="#b8b8b8" stroke-width="0.45"/><rect x="171.92" y="190.90" width="1.0" height="1.6" fill="#6a6a6a" fill-opacity="0.85"/>
<circle cx="189.88" cy="191.70" r="2.85" fill="none" stroke="#b8b8b8" stroke-width="1.0"/><line x1="189.88" y1="188.00" x2="189.88" y2="195.40" stroke="#b8b8b8" stroke-width="0.45"/><rect x="189.38" y="190.90" width="1.0" height="1.6" fill="#6a6a6a" fill-opacity="0.85"/>
<circle cx="207.34" cy="191.70" r="2.85" fill="none" stroke="#b8b8b8" stroke-width="1.0"/><line x1="207.34" y1="188.00" x2="207.34" y2="195.40" stroke="#b8b8b8" stroke-width="0.45"/><rect x="206.84" y="190.90" width="1.0" height="1.6" fill="#6a6a6a" fill-opacity="0.85"/>
<circle cx="224.80" cy="191.70" r="2.85" fill="none" stroke="#b8b8b8" stroke-width="1.0"/><line x1="224.80" y1="188.00" x2="224.80" y2="195.40" stroke="#b8b8b8" stroke-width="0.45"/><rect x="224.30" y="190.90" width="1.0" height="1.6" fill="#6a6a6a" fill-opacity="0.85"/>
<circle cx="242.26" cy="191.70" r="2.85" fill="none" stroke="#b8b8b8" stroke-width="1.0"/><line x1="242.26" y1="188.00" x2="242.26" y2="195.40" stroke="#b8b8b8" stroke-width="0.45"/><rect x="241.76" y="190.90" width="1.0" height="1.6" fill="#6a6a6a" fill-opacity="0.85"/>
<circle cx="259.72" cy="191.70" r="2.85" fill="none" stroke="#d6baba" stroke-width="1.0"/><line x1="259.72" y1="188.00" x2="259.72" y2="195.40" stroke="#d6baba" stroke-width="0.45"/><rect x="259.22" y="190.90" width="1.0" height="1.6" fill="#7a4a4a" fill-opacity="0.85"/>
<circle cx="277.18" cy="191.70" r="2.85" fill="none" stroke="#b8b8b8" stroke-width="1.0"/><line x1="277.18" y1="188.00" x2="277.18" y2="195.40" stroke="#b8b8b8" stroke-width="0.45"/><rect x="276.68" y="190.90" width="1.0" height="1.6" fill="#6a6a6a" fill-opacity="0.85"/>
<circle cx="294.64" cy="191.70" r="2.85" fill="none" stroke="#d6baba" stroke-width="1.0"/><line x1="294.64" y1="188.00" x2="294.64" y2="195.40" stroke="#d6baba" stroke-width="0.45"/><rect x="294.14" y="190.90" width="1.0" height="1.6" fill="#7a4a4a" fill-opacity="0.85"/>
<circle cx="50.20" cy="202.55" r="2.8" fill="#24207a"/>
<circle cx="67.66" cy="202.55" r="3.4" fill="#24207a"/>
<circle cx="85.12" cy="202.55" r="2.8" fill="#24207a"/>
<circle cx="102.58" cy="202.55" r="2.85" fill="none" stroke="#b8b8b8" stroke-width="1.0"/><line x1="102.58" y1="198.85" x2="102.58" y2="206.25" stroke="#b8b8b8" stroke-width="0.45"/><rect x="102.08" y="201.75" width="1.0" height="1.6" fill="#6a6a6a" fill-opacity="0.85"/>
<circle cx="120.04" cy="202.55" r="2.8" fill="#909090"/>
<circle cx="137.50" cy="202.55" r="2.8" fill="#5a58a0"/>
<circle cx="154.96" cy="202.55" r="2.8" fill="#909090"/>
<circle cx="172.42" cy="202.55" r="2.85" fill="none" stroke="#b8b8b8" stroke-width="1.0"/><line x1="172.42" y1="198.85" x2="172.42" y2="206.25" stroke="#b8b8b8" stroke-width="0.45"/><rect x="171.92" y="201.75" width="1.0" height="1.6" fill="#6a6a6a" fill-opacity="0.85"/>
<circle cx="189.88" cy="202.55" r="2.8" fill="#24207a"/>
<circle cx="207.34" cy="202.55" r="2.8" fill="#7c7c94"/>
<circle cx="224.80" cy="202.55" r="2.8" fill="#24207a"/>
<circle cx="242.26" cy="202.55" r="3.3" fill="#d8c860" fill-opacity="0.22"/><circle cx="242.26" cy="202.55" r="2.85" fill="none" stroke="#dcd4a4" stroke-width="0.95"/><line x1="238.96" y1="202.55" x2="245.56" y2="202.55" stroke="#98883a" stroke-width="0.5" stroke-opacity="0.3"/><line x1="242.26" y1="198.85" x2="242.26" y2="206.25" stroke="#98883a" stroke-width="0.5" stroke-opacity="0.3"/><circle cx="242.26" cy="202.55" r="1.15" fill="#98883a"/>
<circle cx="259.72" cy="202.55" r="2.8" fill="#d42027"/>
<circle cx="277.18" cy="202.55" r="2.85" fill="none" stroke="#b8b8b8" stroke-width="1.0"/><line x1="277.18" y1="198.85" x2="277.18" y2="206.25" stroke="#b8b8b8" stroke-width="0.45"/><rect x="276.68" y="201.75" width="1.0" height="1.6" fill="#6a6a6a" fill-opacity="0.85"/>
<circle cx="294.64" cy="202.55" r="2.85" fill="none" stroke="#b8b8b8" stroke-width="1.0"/><line x1="294.64" y1="198.85" x2="294.64" y2="206.25" stroke="#b8b8b8" stroke-width="0.45"/><rect x="294.14" y="201.75" width="1.0" height="1.6" fill="#6a6a6a" fill-opacity="0.85"/>
<circle cx="50.20" cy="213.40" r="2.85" fill="none" stroke="#b8b8b8" stroke-width="1.0"/><line x1="50.20" y1="209.70" x2="50.20" y2="217.10" stroke="#b8b8b8" stroke-width="0.45"/><rect x="49.70" y="212.60" width="1.0" height="1.6" fill="#6a6a6a" fill-opacity="0.85"/>
<circle cx="67.66" cy="213.40" r="3.3" fill="#7a7a6a" fill-opacity="0.26"/><circle cx="67.66" cy="213.40" r="2.85" fill="none" stroke="#b0b0a4" stroke-width="0.95"/><line x1="64.36" y1="213.40" x2="70.96" y2="213.40" stroke="#4a4a44" stroke-width="0.5" stroke-opacity="0.3"/><line x1="67.66" y1="209.70" x2="67.66" y2="217.10" stroke="#4a4a44" stroke-width="0.5" stroke-opacity="0.3"/><circle cx="67.66" cy="213.40" r="1.25" fill="#4a4a44"/>
<circle cx="85.12" cy="213.40" r="2.85" fill="none" stroke="#b8b8b8" stroke-width="1.0"/><line x1="85.12" y1="209.70" x2="85.12" y2="217.10" stroke="#b8b8b8" stroke-width="0.45"/><rect x="84.62" y="212.60" width="1.0" height="1.6" fill="#6a6a6a" fill-opacity="0.85"/>
<circle cx="102.58" cy="213.40" r="3.3" fill="#7a78c8" fill-opacity="0.16"/><circle cx="102.58" cy="213.40" r="2.85" fill="none" stroke="#b0b0d2" stroke-width="0.95"/><line x1="99.28" y1="213.40" x2="105.88" y2="213.40" stroke="#1e1c66" stroke-width="0.5" stroke-opacity="0.3"/><line x1="102.58" y1="209.70" x2="102.58" y2="217.10" stroke="#1e1c66" stroke-width="0.5" stroke-opacity="0.3"/><circle cx="102.58" cy="213.40" r="1.25" fill="#1e1c66"/>
<circle cx="120.04" cy="213.40" r="3.3" fill="#7a78c8" fill-opacity="0.16"/><circle cx="120.04" cy="213.40" r="2.85" fill="none" stroke="#b0b0d2" stroke-width="0.95"/><line x1="116.74" y1="213.40" x2="123.34" y2="213.40" stroke="#1e1c66" stroke-width="0.5" stroke-opacity="0.3"/><line x1="120.04" y1="209.70" x2="120.04" y2="217.10" stroke="#1e1c66" stroke-width="0.5" stroke-opacity="0.3"/><circle cx="120.04" cy="213.40" r="1.25" fill="#1e1c66"/>
<circle cx="137.50" cy="213.40" r="3.9" fill="#24207a"/>
<circle cx="154.96" cy="213.40" r="2.8" fill="#24207a"/>
<circle cx="172.42" cy="213.40" r="2.85" fill="none" stroke="#b8b8b8" stroke-width="1.0"/><line x1="172.42" y1="209.70" x2="172.42" y2="217.10" stroke="#b8b8b8" stroke-width="0.45"/><rect x="171.92" y="212.60" width="1.0" height="1.6" fill="#6a6a6a" fill-opacity="0.85"/>
<circle cx="189.88" cy="213.40" r="2.85" fill="none" stroke="#d6baba" stroke-width="1.0"/><line x1="189.88" y1="209.70" x2="189.88" y2="217.10" stroke="#d6baba" stroke-width="0.45"/><rect x="189.38" y="212.60" width="1.0" height="1.6" fill="#7a4a4a" fill-opacity="0.85"/>
<circle cx="207.34" cy="213.40" r="2.85" fill="none" stroke="#b8b8b8" stroke-width="1.0"/><line x1="207.34" y1="209.70" x2="207.34" y2="217.10" stroke="#b8b8b8" stroke-width="0.45"/><rect x="206.84" y="212.60" width="1.0" height="1.6" fill="#6a6a6a" fill-opacity="0.85"/>
<circle cx="224.80" cy="213.40" r="3.3" fill="#7a78c8" fill-opacity="0.16"/><circle cx="224.80" cy="213.40" r="2.85" fill="none" stroke="#b0b0d2" stroke-width="0.95"/><line x1="221.50" y1="213.40" x2="228.10" y2="213.40" stroke="#1e1c66" stroke-width="0.5" stroke-opacity="0.3"/><line x1="224.80" y1="209.70" x2="224.80" y2="217.10" stroke="#1e1c66" stroke-width="0.5" stroke-opacity="0.3"/><circle cx="224.80" cy="213.40" r="1.25" fill="#1e1c66"/>
<circle cx="242.26" cy="213.40" r="2.85" fill="none" stroke="#dacdb8" stroke-width="1.0"/><line x1="242.26" y1="209.70" x2="242.26" y2="217.10" stroke="#dacdb8" stroke-width="0.45"/><rect x="241.76" y="212.60" width="1.0" height="1.6" fill="#7a6a50" fill-opacity="0.85"/>
<circle cx="259.72" cy="213.40" r="3.3" fill="#e46060" fill-opacity="0.16"/><circle cx="259.72" cy="213.40" r="2.85" fill="none" stroke="#e0acac" stroke-width="0.95"/><line x1="256.42" y1="213.40" x2="263.02" y2="213.40" stroke="#a01828" stroke-width="0.5" stroke-opacity="0.3"/><line x1="259.72" y1="209.70" x2="259.72" y2="217.10" stroke="#a01828" stroke-width="0.5" stroke-opacity="0.3"/><circle cx="259.72" cy="213.40" r="1.25" fill="#a01828"/>
<circle cx="277.18" cy="213.40" r="2.85" fill="none" stroke="#b8b8b8" stroke-width="1.0"/><line x1="277.18" y1="209.70" x2="277.18" y2="217.10" stroke="#b8b8b8" stroke-width="0.45"/><rect x="276.68" y="212.60" width="1.0" height="1.6" fill="#6a6a6a" fill-opacity="0.85"/>
<circle cx="294.64" cy="213.40" r="2.85" fill="none" stroke="#b8b8b8" stroke-width="1.0"/><line x1="294.64" y1="209.70" x2="294.64" y2="217.10" stroke="#b8b8b8" stroke-width="0.45"/><rect x="294.14" y="212.60" width="1.0" height="1.6" fill="#6a6a6a" fill-opacity="0.85"/>
<circle cx="50.20" cy="224.25" r="2.85" fill="none" stroke="#d6baba" stroke-width="1.0"/><line x1="50.20" y1="220.55" x2="50.20" y2="227.95" stroke="#d6baba" stroke-width="0.45"/><rect x="49.70" y="223.45" width="1.0" height="1.6" fill="#7a4a4a" fill-opacity="0.85"/>
<circle cx="67.66" cy="224.25" r="2.85" fill="none" stroke="#b8b8b8" stroke-width="1.0"/><line x1="67.66" y1="220.55" x2="67.66" y2="227.95" stroke="#b8b8b8" stroke-width="0.45"/><rect x="67.16" y="223.45" width="1.0" height="1.6" fill="#6a6a6a" fill-opacity="0.85"/>
<circle cx="85.12" cy="224.25" r="2.85" fill="none" stroke="#b8b8b8" stroke-width="1.0"/><line x1="85.12" y1="220.55" x2="85.12" y2="227.95" stroke="#b8b8b8" stroke-width="0.45"/><rect x="84.62" y="223.45" width="1.0" height="1.6" fill="#6a6a6a" fill-opacity="0.85"/>
<circle cx="102.58" cy="224.25" r="2.85" fill="none" stroke="#b8b8b8" stroke-width="1.0"/><line x1="102.58" y1="220.55" x2="102.58" y2="227.95" stroke="#b8b8b8" stroke-width="0.45"/><rect x="102.08" y="223.45" width="1.0" height="1.6" fill="#6a6a6a" fill-opacity="0.85"/>
<circle cx="120.04" cy="224.25" r="2.85" fill="none" stroke="#b8b8b8" stroke-width="1.0"/><line x1="120.04" y1="220.55" x2="120.04" y2="227.95" stroke="#b8b8b8" stroke-width="0.45"/><rect x="119.54" y="223.45" width="1.0" height="1.6" fill="#6a6a6a" fill-opacity="0.85"/>
<circle cx="137.50" cy="224.25" r="2.85" fill="none" stroke="#b8b8b8" stroke-width="1.0"/><line x1="137.50" y1="220.55" x2="137.50" y2="227.95" stroke="#b8b8b8" stroke-width="0.45"/><rect x="137.00" y="223.45" width="1.0" height="1.6" fill="#6a6a6a" fill-opacity="0.85"/>
<circle cx="154.96" cy="224.25" r="2.85" fill="none" stroke="#b8b8b8" stroke-width="1.0"/><line x1="154.96" y1="220.55" x2="154.96" y2="227.95" stroke="#b8b8b8" stroke-width="0.45"/><rect x="154.46" y="223.45" width="1.0" height="1.6" fill="#6a6a6a" fill-opacity="0.85"/>
<circle cx="172.42" cy="224.25" r="2.85" fill="none" stroke="#b8b8b8" stroke-width="1.0"/><line x1="172.42" y1="220.55" x2="172.42" y2="227.95" stroke="#b8b8b8" stroke-width="0.45"/><rect x="171.92" y="223.45" width="1.0" height="1.6" fill="#6a6a6a" fill-opacity="0.85"/>
<circle cx="189.88" cy="224.25" r="2.85" fill="none" stroke="#b8b8b8" stroke-width="1.0"/><line x1="189.88" y1="220.55" x2="189.88" y2="227.95" stroke="#b8b8b8" stroke-width="0.45"/><rect x="189.38" y="223.45" width="1.0" height="1.6" fill="#6a6a6a" fill-opacity="0.85"/>
<circle cx="207.34" cy="224.25" r="2.85" fill="none" stroke="#b8b8b8" stroke-width="1.0"/><line x1="207.34" y1="220.55" x2="207.34" y2="227.95" stroke="#b8b8b8" stroke-width="0.45"/><rect x="206.84" y="223.45" width="1.0" height="1.6" fill="#6a6a6a" fill-opacity="0.85"/>
<circle cx="224.80" cy="224.25" r="2.85" fill="none" stroke="#b8b8b8" stroke-width="1.0"/><line x1="224.80" y1="220.55" x2="224.80" y2="227.95" stroke="#b8b8b8" stroke-width="0.45"/><rect x="224.30" y="223.45" width="1.0" height="1.6" fill="#6a6a6a" fill-opacity="0.85"/>
<circle cx="242.26" cy="224.25" r="2.85" fill="none" stroke="#d6baba" stroke-width="1.0"/><line x1="242.26" y1="220.55" x2="242.26" y2="227.95" stroke="#d6baba" stroke-width="0.45"/><rect x="241.76" y="223.45" width="1.0" height="1.6" fill="#7a4a4a" fill-opacity="0.85"/>
<circle cx="259.72" cy="224.25" r="3.3" fill="#ea9090" fill-opacity="0.09"/><circle cx="259.72" cy="224.25" r="2.85" fill="none" stroke="#e0bcbc" stroke-width="0.95"/><line x1="256.42" y1="224.25" x2="263.02" y2="224.25" stroke="#983040" stroke-width="0.5" stroke-opacity="0.3"/><line x1="259.72" y1="220.55" x2="259.72" y2="227.95" stroke="#983040" stroke-width="0.5" stroke-opacity="0.3"/><circle cx="259.72" cy="224.25" r="1.05" fill="#983040"/>
<circle cx="277.18" cy="224.25" r="2.85" fill="none" stroke="#b8b8b8" stroke-width="1.0"/><line x1="277.18" y1="220.55" x2="277.18" y2="227.95" stroke="#b8b8b8" stroke-width="0.45"/><rect x="276.68" y="223.45" width="1.0" height="1.6" fill="#6a6a6a" fill-opacity="0.85"/>
<circle cx="294.64" cy="224.25" r="2.85" fill="none" stroke="#b8b8b8" stroke-width="1.0"/><line x1="294.64" y1="220.55" x2="294.64" y2="227.95" stroke="#b8b8b8" stroke-width="0.45"/><rect x="294.14" y="223.45" width="1.0" height="1.6" fill="#6a6a6a" fill-opacity="0.85"/>
<circle cx="50.20" cy="235.10" r="2.85" fill="none" stroke="#b8b8b8" stroke-width="1.0"/><line x1="50.20" y1="231.40" x2="50.20" y2="238.80" stroke="#b8b8b8" stroke-width="0.45"/><rect x="49.70" y="234.30" width="1.0" height="1.6" fill="#6a6a6a" fill-opacity="0.85"/>
<circle cx="67.66" cy="235.10" r="2.85" fill="none" stroke="#b8b8b8" stroke-width="1.0"/><line x1="67.66" y1="231.40" x2="67.66" y2="238.80" stroke="#b8b8b8" stroke-width="0.45"/><rect x="67.16" y="234.30" width="1.0" height="1.6" fill="#6a6a6a" fill-opacity="0.85"/>
<circle cx="85.12" cy="235.10" r="2.85" fill="none" stroke="#b8b8b8" stroke-width="1.0"/><line x1="85.12" y1="231.40" x2="85.12" y2="238.80" stroke="#b8b8b8" stroke-width="0.45"/><rect x="84.62" y="234.30" width="1.0" height="1.6" fill="#6a6a6a" fill-opacity="0.85"/>
<circle cx="102.58" cy="235.10" r="2.85" fill="none" stroke="#b8b8b8" stroke-width="1.0"/><line x1="102.58" y1="231.40" x2="102.58" y2="238.80" stroke="#b8b8b8" stroke-width="0.45"/><rect x="102.08" y="234.30" width="1.0" height="1.6" fill="#6a6a6a" fill-opacity="0.85"/>
<circle cx="120.04" cy="235.10" r="2.85" fill="none" stroke="#b8b8b8" stroke-width="1.0"/><line x1="120.04" y1="231.40" x2="120.04" y2="238.80" stroke="#b8b8b8" stroke-width="0.45"/><rect x="119.54" y="234.30" width="1.0" height="1.6" fill="#6a6a6a" fill-opacity="0.85"/>
<circle cx="137.50" cy="235.10" r="3.3" fill="#7a78c8" fill-opacity="0.16"/><circle cx="137.50" cy="235.10" r="2.85" fill="none" stroke="#b0b0d2" stroke-width="0.95"/><line x1="134.20" y1="235.10" x2="140.80" y2="235.10" stroke="#1e1c66" stroke-width="0.5" stroke-opacity="0.3"/><line x1="137.50" y1="231.40" x2="137.50" y2="238.80" stroke="#1e1c66" stroke-width="0.5" stroke-opacity="0.3"/><circle cx="137.50" cy="235.10" r="1.25" fill="#1e1c66"/>
<circle cx="154.96" cy="235.10" r="2.85" fill="none" stroke="#b8b8b8" stroke-width="1.0"/><line x1="154.96" y1="231.40" x2="154.96" y2="238.80" stroke="#b8b8b8" stroke-width="0.45"/><rect x="154.46" y="234.30" width="1.0" height="1.6" fill="#6a6a6a" fill-opacity="0.85"/>
<circle cx="172.42" cy="235.10" r="2.85" fill="none" stroke="#dacdb8" stroke-width="1.0"/><line x1="172.42" y1="231.40" x2="172.42" y2="238.80" stroke="#dacdb8" stroke-width="0.45"/><rect x="171.92" y="234.30" width="1.0" height="1.6" fill="#7a6a50" fill-opacity="0.85"/>
<circle cx="189.88" cy="235.10" r="2.85" fill="none" stroke="#b8b8b8" stroke-width="1.0"/><line x1="189.88" y1="231.40" x2="189.88" y2="238.80" stroke="#b8b8b8" stroke-width="0.45"/><rect x="189.38" y="234.30" width="1.0" height="1.6" fill="#6a6a6a" fill-opacity="0.85"/>
<circle cx="207.34" cy="235.10" r="2.85" fill="none" stroke="#d6baba" stroke-width="1.0"/><line x1="207.34" y1="231.40" x2="207.34" y2="238.80" stroke="#d6baba" stroke-width="0.45"/><rect x="206.84" y="234.30" width="1.0" height="1.6" fill="#7a4a4a" fill-opacity="0.85"/>
<circle cx="224.80" cy="235.10" r="3.3" fill="#7a78c8" fill-opacity="0.16"/><circle cx="224.80" cy="235.10" r="2.85" fill="none" stroke="#b0b0d2" stroke-width="0.95"/><line x1="221.50" y1="235.10" x2="228.10" y2="235.10" stroke="#1e1c66" stroke-width="0.5" stroke-opacity="0.3"/><line x1="224.80" y1="231.40" x2="224.80" y2="238.80" stroke="#1e1c66" stroke-width="0.5" stroke-opacity="0.3"/><circle cx="224.80" cy="235.10" r="1.25" fill="#1e1c66"/>
<circle cx="242.26" cy="235.10" r="3.3" fill="#e46060" fill-opacity="0.16"/><circle cx="242.26" cy="235.10" r="2.85" fill="none" stroke="#e0acac" stroke-width="0.95"/><line x1="238.96" y1="235.10" x2="245.56" y2="235.10" stroke="#a01828" stroke-width="0.5" stroke-opacity="0.3"/><line x1="242.26" y1="231.40" x2="242.26" y2="238.80" stroke="#a01828" stroke-width="0.5" stroke-opacity="0.3"/><circle cx="242.26" cy="235.10" r="1.25" fill="#a01828"/>
<circle cx="259.72" cy="235.10" r="2.85" fill="none" stroke="#d6baba" stroke-width="1.0"/><line x1="259.72" y1="231.40" x2="259.72" y2="238.80" stroke="#d6baba" stroke-width="0.45"/><rect x="259.22" y="234.30" width="1.0" height="1.6" fill="#7a4a4a" fill-opacity="0.85"/>
<circle cx="277.18" cy="235.10" r="3.3" fill="#e46060" fill-opacity="0.16"/><circle cx="277.18" cy="235.10" r="2.85" fill="none" stroke="#e0acac" stroke-width="0.95"/><line x1="273.88" y1="235.10" x2="280.48" y2="235.10" stroke="#a01828" stroke-width="0.5" stroke-opacity="0.3"/><line x1="277.18" y1="231.40" x2="277.18" y2="238.80" stroke="#a01828" stroke-width="0.5" stroke-opacity="0.3"/><circle cx="277.18" cy="235.10" r="1.25" fill="#a01828"/>
<circle cx="294.64" cy="235.10" r="3.3" fill="#7a78c8" fill-opacity="0.16"/><circle cx="294.64" cy="235.10" r="2.85" fill="none" stroke="#b0b0d2" stroke-width="0.95"/><line x1="291.34" y1="235.10" x2="297.94" y2="235.10" stroke="#1e1c66" stroke-width="0.5" stroke-opacity="0.3"/><line x1="294.64" y1="231.40" x2="294.64" y2="238.80" stroke="#1e1c66" stroke-width="0.5" stroke-opacity="0.3"/><circle cx="294.64" cy="235.10" r="1.25" fill="#1e1c66"/>
<circle cx="50.20" cy="245.95" r="2.85" fill="none" stroke="#b8b8b8" stroke-width="1.0"/><line x1="50.20" y1="242.25" x2="50.20" y2="249.65" stroke="#b8b8b8" stroke-width="0.45"/><rect x="49.70" y="245.15" width="1.0" height="1.6" fill="#6a6a6a" fill-opacity="0.85"/>
<circle cx="67.66" cy="245.95" r="2.85" fill="none" stroke="#b8b8b8" stroke-width="1.0"/><line x1="67.66" y1="242.25" x2="67.66" y2="249.65" stroke="#b8b8b8" stroke-width="0.45"/><rect x="67.16" y="245.15" width="1.0" height="1.6" fill="#6a6a6a" fill-opacity="0.85"/>
<circle cx="85.12" cy="245.95" r="2.85" fill="none" stroke="#b8b8b8" stroke-width="1.0"/><line x1="85.12" y1="242.25" x2="85.12" y2="249.65" stroke="#b8b8b8" stroke-width="0.45"/><rect x="84.62" y="245.15" width="1.0" height="1.6" fill="#6a6a6a" fill-opacity="0.85"/>
<circle cx="102.58" cy="245.95" r="2.85" fill="none" stroke="#d6baba" stroke-width="1.0"/><line x1="102.58" y1="242.25" x2="102.58" y2="249.65" stroke="#d6baba" stroke-width="0.45"/><rect x="102.08" y="245.15" width="1.0" height="1.6" fill="#7a4a4a" fill-opacity="0.85"/>
<circle cx="120.04" cy="245.95" r="2.85" fill="none" stroke="#b8b8b8" stroke-width="1.0"/><line x1="120.04" y1="242.25" x2="120.04" y2="249.65" stroke="#b8b8b8" stroke-width="0.45"/><rect x="119.54" y="245.15" width="1.0" height="1.6" fill="#6a6a6a" fill-opacity="0.85"/>
<circle cx="137.50" cy="245.95" r="2.85" fill="none" stroke="#b8b8b8" stroke-width="1.0"/><line x1="137.50" y1="242.25" x2="137.50" y2="249.65" stroke="#b8b8b8" stroke-width="0.45"/><rect x="137.00" y="245.15" width="1.0" height="1.6" fill="#6a6a6a" fill-opacity="0.85"/>
<circle cx="154.96" cy="245.95" r="2.85" fill="none" stroke="#b8b8b8" stroke-width="1.0"/><line x1="154.96" y1="242.25" x2="154.96" y2="249.65" stroke="#b8b8b8" stroke-width="0.45"/><rect x="154.46" y="245.15" width="1.0" height="1.6" fill="#6a6a6a" fill-opacity="0.85"/>
<circle cx="172.42" cy="245.95" r="2.85" fill="none" stroke="#b8b8b8" stroke-width="1.0"/><line x1="172.42" y1="242.25" x2="172.42" y2="249.65" stroke="#b8b8b8" stroke-width="0.45"/><rect x="171.92" y="245.15" width="1.0" height="1.6" fill="#6a6a6a" fill-opacity="0.85"/>
<circle cx="189.88" cy="245.95" r="2.85" fill="none" stroke="#b8b8b8" stroke-width="1.0"/><line x1="189.88" y1="242.25" x2="189.88" y2="249.65" stroke="#b8b8b8" stroke-width="0.45"/><rect x="189.38" y="245.15" width="1.0" height="1.6" fill="#6a6a6a" fill-opacity="0.85"/>
<circle cx="207.34" cy="245.95" r="2.85" fill="none" stroke="#b8b8b8" stroke-width="1.0"/><line x1="207.34" y1="242.25" x2="207.34" y2="249.65" stroke="#b8b8b8" stroke-width="0.45"/><rect x="206.84" y="245.15" width="1.0" height="1.6" fill="#6a6a6a" fill-opacity="0.85"/>
<circle cx="224.80" cy="245.95" r="2.85" fill="none" stroke="#d6baba" stroke-width="1.0"/><line x1="224.80" y1="242.25" x2="224.80" y2="249.65" stroke="#d6baba" stroke-width="0.45"/><rect x="224.30" y="245.15" width="1.0" height="1.6" fill="#7a4a4a" fill-opacity="0.85"/>
<circle cx="242.26" cy="245.95" r="2.85" fill="none" stroke="#b8b8b8" stroke-width="1.0"/><line x1="242.26" y1="242.25" x2="242.26" y2="249.65" stroke="#b8b8b8" stroke-width="0.45"/><rect x="241.76" y="245.15" width="1.0" height="1.6" fill="#6a6a6a" fill-opacity="0.85"/>
<circle cx="259.72" cy="245.95" r="2.85" fill="none" stroke="#b8b8b8" stroke-width="1.0"/><line x1="259.72" y1="242.25" x2="259.72" y2="249.65" stroke="#b8b8b8" stroke-width="0.45"/><rect x="259.22" y="245.15" width="1.0" height="1.6" fill="#6a6a6a" fill-opacity="0.85"/>
<circle cx="277.18" cy="245.95" r="2.85" fill="none" stroke="#b8b8b8" stroke-width="1.0"/><line x1="277.18" y1="242.25" x2="277.18" y2="249.65" stroke="#b8b8b8" stroke-width="0.45"/><rect x="276.68" y="245.15" width="1.0" height="1.6" fill="#6a6a6a" fill-opacity="0.85"/>
<circle cx="294.64" cy="245.95" r="2.85" fill="none" stroke="#d6baba" stroke-width="1.0"/><line x1="294.64" y1="242.25" x2="294.64" y2="249.65" stroke="#d6baba" stroke-width="0.45"/><rect x="294.14" y="245.15" width="1.0" height="1.6" fill="#7a4a4a" fill-opacity="0.85"/>
<circle cx="50.20" cy="256.80" r="3.3" fill="#7a78c8" fill-opacity="0.16"/><circle cx="50.20" cy="256.80" r="2.85" fill="none" stroke="#b0b0d2" stroke-width="0.95"/><line x1="46.90" y1="256.80" x2="53.50" y2="256.80" stroke="#1e1c66" stroke-width="0.5" stroke-opacity="0.3"/><line x1="50.20" y1="253.10" x2="50.20" y2="260.50" stroke="#1e1c66" stroke-width="0.5" stroke-opacity="0.3"/><circle cx="50.20" cy="256.80" r="1.25" fill="#1e1c66"/>
<circle cx="67.66" cy="256.80" r="3.3" fill="#7a78c8" fill-opacity="0.16"/><circle cx="67.66" cy="256.80" r="2.85" fill="none" stroke="#b0b0d2" stroke-width="0.95"/><line x1="64.36" y1="256.80" x2="70.96" y2="256.80" stroke="#1e1c66" stroke-width="0.5" stroke-opacity="0.3"/><line x1="67.66" y1="253.10" x2="67.66" y2="260.50" stroke="#1e1c66" stroke-width="0.5" stroke-opacity="0.3"/><circle cx="67.66" cy="256.80" r="1.25" fill="#1e1c66"/>
<circle cx="85.12" cy="256.80" r="3.3" fill="#7a78c8" fill-opacity="0.16"/><circle cx="85.12" cy="256.80" r="2.85" fill="none" stroke="#b0b0d2" stroke-width="0.95"/><line x1="81.82" y1="256.80" x2="88.42" y2="256.80" stroke="#1e1c66" stroke-width="0.5" stroke-opacity="0.3"/><line x1="85.12" y1="253.10" x2="85.12" y2="260.50" stroke="#1e1c66" stroke-width="0.5" stroke-opacity="0.3"/><circle cx="85.12" cy="256.80" r="1.25" fill="#1e1c66"/>
<circle cx="102.58" cy="256.80" r="2.85" fill="none" stroke="#dacdb8" stroke-width="1.0"/><line x1="102.58" y1="253.10" x2="102.58" y2="260.50" stroke="#dacdb8" stroke-width="0.45"/><rect x="102.08" y="256.00" width="1.0" height="1.6" fill="#7a6a50" fill-opacity="0.85"/>
<circle cx="120.04" cy="256.80" r="3.3" fill="#9a98d4" fill-opacity="0.09"/><circle cx="120.04" cy="256.80" r="2.85" fill="none" stroke="#bcbcd6" stroke-width="0.95"/><line x1="116.74" y1="256.80" x2="123.34" y2="256.80" stroke="#2c2a70" stroke-width="0.5" stroke-opacity="0.3"/><line x1="120.04" y1="253.10" x2="120.04" y2="260.50" stroke="#2c2a70" stroke-width="0.5" stroke-opacity="0.3"/><circle cx="120.04" cy="256.80" r="1.05" fill="#2c2a70"/>
<circle cx="137.50" cy="256.80" r="2.85" fill="none" stroke="#b8b8b8" stroke-width="1.0"/><line x1="137.50" y1="253.10" x2="137.50" y2="260.50" stroke="#b8b8b8" stroke-width="0.45"/><rect x="137.00" y="256.00" width="1.0" height="1.6" fill="#6a6a6a" fill-opacity="0.85"/>
<circle cx="154.96" cy="256.80" r="2.85" fill="none" stroke="#b8b8b8" stroke-width="1.0"/><line x1="154.96" y1="253.10" x2="154.96" y2="260.50" stroke="#b8b8b8" stroke-width="0.45"/><rect x="154.46" y="256.00" width="1.0" height="1.6" fill="#6a6a6a" fill-opacity="0.85"/>
<circle cx="172.42" cy="256.80" r="2.85" fill="none" stroke="#b8b8b8" stroke-width="1.0"/><line x1="172.42" y1="253.10" x2="172.42" y2="260.50" stroke="#b8b8b8" stroke-width="0.45"/><rect x="171.92" y="256.00" width="1.0" height="1.6" fill="#6a6a6a" fill-opacity="0.85"/>
<circle cx="189.88" cy="256.80" r="3.3" fill="#ea9a5a" fill-opacity="0.22"/><circle cx="189.88" cy="256.80" r="2.85" fill="none" stroke="#e6c0a0" stroke-width="0.95"/><line x1="186.58" y1="256.80" x2="193.18" y2="256.80" stroke="#b85a28" stroke-width="0.5" stroke-opacity="0.3"/><line x1="189.88" y1="253.10" x2="189.88" y2="260.50" stroke="#b85a28" stroke-width="0.5" stroke-opacity="0.3"/><circle cx="189.88" cy="256.80" r="1.2" fill="#b85a28"/>
<circle cx="207.34" cy="256.80" r="2.85" fill="none" stroke="#dacdb8" stroke-width="1.0"/><line x1="207.34" y1="253.10" x2="207.34" y2="260.50" stroke="#dacdb8" stroke-width="0.45"/><rect x="206.84" y="256.00" width="1.0" height="1.6" fill="#7a6a50" fill-opacity="0.85"/>
<circle cx="224.80" cy="256.80" r="3.3" fill="#e46060" fill-opacity="0.16"/><circle cx="224.80" cy="256.80" r="2.85" fill="none" stroke="#e0acac" stroke-width="0.95"/><line x1="221.50" y1="256.80" x2="228.10" y2="256.80" stroke="#a01828" stroke-width="0.5" stroke-opacity="0.3"/><line x1="224.80" y1="253.10" x2="224.80" y2="260.50" stroke="#a01828" stroke-width="0.5" stroke-opacity="0.3"/><circle cx="224.80" cy="256.80" r="1.25" fill="#a01828"/>
<circle cx="242.26" cy="256.80" r="3.3" fill="#e46060" fill-opacity="0.16"/><circle cx="242.26" cy="256.80" r="2.85" fill="none" stroke="#e0acac" stroke-width="0.95"/><line x1="238.96" y1="256.80" x2="245.56" y2="256.80" stroke="#a01828" stroke-width="0.5" stroke-opacity="0.3"/><line x1="242.26" y1="253.10" x2="242.26" y2="260.50" stroke="#a01828" stroke-width="0.5" stroke-opacity="0.3"/><circle cx="242.26" cy="256.80" r="1.25" fill="#a01828"/>
<circle cx="259.72" cy="256.80" r="2.85" fill="none" stroke="#dacdb8" stroke-width="1.0"/><line x1="259.72" y1="253.10" x2="259.72" y2="260.50" stroke="#dacdb8" stroke-width="0.45"/><rect x="259.22" y="256.00" width="1.0" height="1.6" fill="#7a6a50" fill-opacity="0.85"/>
<circle cx="277.18" cy="256.80" r="3.3" fill="#e46060" fill-opacity="0.16"/><circle cx="277.18" cy="256.80" r="2.85" fill="none" stroke="#e0acac" stroke-width="0.95"/><line x1="273.88" y1="256.80" x2="280.48" y2="256.80" stroke="#a01828" stroke-width="0.5" stroke-opacity="0.3"/><line x1="277.18" y1="253.10" x2="277.18" y2="260.50" stroke="#a01828" stroke-width="0.5" stroke-opacity="0.3"/><circle cx="277.18" cy="256.80" r="1.25" fill="#a01828"/>
<circle cx="294.64" cy="256.80" r="3.3" fill="#9a98d4" fill-opacity="0.09"/><circle cx="294.64" cy="256.80" r="2.85" fill="none" stroke="#bcbcd6" stroke-width="0.95"/><line x1="291.34" y1="256.80" x2="297.94" y2="256.80" stroke="#2c2a70" stroke-width="0.5" stroke-opacity="0.3"/><line x1="294.64" y1="253.10" x2="294.64" y2="260.50" stroke="#2c2a70" stroke-width="0.5" stroke-opacity="0.3"/><circle cx="294.64" cy="256.80" r="1.05" fill="#2c2a70"/>
<circle cx="50.20" cy="267.65" r="2.85" fill="none" stroke="#dacdb8" stroke-width="1.0"/><line x1="50.20" y1="263.95" x2="50.20" y2="271.35" stroke="#dacdb8" stroke-width="0.45"/><rect x="49.70" y="266.85" width="1.0" height="1.6" fill="#7a6a50" fill-opacity="0.85"/>
<circle cx="67.66" cy="267.65" r="2.85" fill="none" stroke="#b8b8b8" stroke-width="1.0"/><line x1="67.66" y1="263.95" x2="67.66" y2="271.35" stroke="#b8b8b8" stroke-width="0.45"/><rect x="67.16" y="266.85" width="1.0" height="1.6" fill="#6a6a6a" fill-opacity="0.85"/>
<circle cx="85.12" cy="267.65" r="3.3" fill="#9a98d4" fill-opacity="0.09"/><circle cx="85.12" cy="267.65" r="2.85" fill="none" stroke="#bcbcd6" stroke-width="0.95"/><line x1="81.82" y1="267.65" x2="88.42" y2="267.65" stroke="#2c2a70" stroke-width="0.5" stroke-opacity="0.3"/><line x1="85.12" y1="263.95" x2="85.12" y2="271.35" stroke="#2c2a70" stroke-width="0.5" stroke-opacity="0.3"/><circle cx="85.12" cy="267.65" r="1.05" fill="#2c2a70"/>
<circle cx="102.58" cy="267.65" r="2.85" fill="none" stroke="#bebed6" stroke-width="1.0"/><line x1="102.58" y1="263.95" x2="102.58" y2="271.35" stroke="#bebed6" stroke-width="0.45"/><rect x="102.08" y="266.85" width="1.0" height="1.6" fill="#3a3a70" fill-opacity="0.85"/>
<circle cx="120.04" cy="267.65" r="2.85" fill="none" stroke="#dacdb8" stroke-width="1.0"/><line x1="120.04" y1="263.95" x2="120.04" y2="271.35" stroke="#dacdb8" stroke-width="0.45"/><rect x="119.54" y="266.85" width="1.0" height="1.6" fill="#7a6a50" fill-opacity="0.85"/>
<circle cx="137.50" cy="267.65" r="2.85" fill="none" stroke="#dacdb8" stroke-width="1.0"/><line x1="137.50" y1="263.95" x2="137.50" y2="271.35" stroke="#dacdb8" stroke-width="0.45"/><rect x="137.00" y="266.85" width="1.0" height="1.6" fill="#7a6a50" fill-opacity="0.85"/>
<circle cx="154.96" cy="267.65" r="2.85" fill="none" stroke="#dacdb8" stroke-width="1.0"/><line x1="154.96" y1="263.95" x2="154.96" y2="271.35" stroke="#dacdb8" stroke-width="0.45"/><rect x="154.46" y="266.85" width="1.0" height="1.6" fill="#7a6a50" fill-opacity="0.85"/>
<circle cx="172.42" cy="267.65" r="2.85" fill="none" stroke="#b8b8b8" stroke-width="1.0"/><line x1="172.42" y1="263.95" x2="172.42" y2="271.35" stroke="#b8b8b8" stroke-width="0.45"/><rect x="171.92" y="266.85" width="1.0" height="1.6" fill="#6a6a6a" fill-opacity="0.85"/>
<circle cx="189.88" cy="267.65" r="2.85" fill="none" stroke="#d6baba" stroke-width="1.0"/><line x1="189.88" y1="263.95" x2="189.88" y2="271.35" stroke="#d6baba" stroke-width="0.45"/><rect x="189.38" y="266.85" width="1.0" height="1.6" fill="#7a4a4a" fill-opacity="0.85"/>
<circle cx="207.34" cy="267.65" r="3.3" fill="#9a98d4" fill-opacity="0.09"/><circle cx="207.34" cy="267.65" r="2.85" fill="none" stroke="#bcbcd6" stroke-width="0.95"/><line x1="204.04" y1="267.65" x2="210.64" y2="267.65" stroke="#2c2a70" stroke-width="0.5" stroke-opacity="0.3"/><line x1="207.34" y1="263.95" x2="207.34" y2="271.35" stroke="#2c2a70" stroke-width="0.5" stroke-opacity="0.3"/><circle cx="207.34" cy="267.65" r="1.05" fill="#2c2a70"/>
<circle cx="224.80" cy="267.65" r="2.85" fill="none" stroke="#b8b8b8" stroke-width="1.0"/><line x1="224.80" y1="263.95" x2="224.80" y2="271.35" stroke="#b8b8b8" stroke-width="0.45"/><rect x="224.30" y="266.85" width="1.0" height="1.6" fill="#6a6a6a" fill-opacity="0.85"/>
<circle cx="242.26" cy="267.65" r="3.3" fill="#7a78c8" fill-opacity="0.16"/><circle cx="242.26" cy="267.65" r="2.85" fill="none" stroke="#b0b0d2" stroke-width="0.95"/><line x1="238.96" y1="267.65" x2="245.56" y2="267.65" stroke="#1e1c66" stroke-width="0.5" stroke-opacity="0.3"/><line x1="242.26" y1="263.95" x2="242.26" y2="271.35" stroke="#1e1c66" stroke-width="0.5" stroke-opacity="0.3"/><circle cx="242.26" cy="267.65" r="1.25" fill="#1e1c66"/>
<circle cx="259.72" cy="267.65" r="2.85" fill="none" stroke="#b8b8b8" stroke-width="1.0"/><line x1="259.72" y1="263.95" x2="259.72" y2="271.35" stroke="#b8b8b8" stroke-width="0.45"/><rect x="259.22" y="266.85" width="1.0" height="1.6" fill="#6a6a6a" fill-opacity="0.85"/>
<circle cx="277.18" cy="267.65" r="3.3" fill="#9a98d4" fill-opacity="0.09"/><circle cx="277.18" cy="267.65" r="2.85" fill="none" stroke="#bcbcd6" stroke-width="0.95"/><line x1="273.88" y1="267.65" x2="280.48" y2="267.65" stroke="#2c2a70" stroke-width="0.5" stroke-opacity="0.3"/><line x1="277.18" y1="263.95" x2="277.18" y2="271.35" stroke="#2c2a70" stroke-width="0.5" stroke-opacity="0.3"/><circle cx="277.18" cy="267.65" r="1.05" fill="#2c2a70"/>
<circle cx="294.64" cy="267.65" r="3.3" fill="#ea9090" fill-opacity="0.09"/><circle cx="294.64" cy="267.65" r="2.85" fill="none" stroke="#e0bcbc" stroke-width="0.95"/><line x1="291.34" y1="267.65" x2="297.94" y2="267.65" stroke="#983040" stroke-width="0.5" stroke-opacity="0.3"/><line x1="294.64" y1="263.95" x2="294.64" y2="271.35" stroke="#983040" stroke-width="0.5" stroke-opacity="0.3"/><circle cx="294.64" cy="267.65" r="1.05" fill="#983040"/>
<circle cx="50.20" cy="278.50" r="2.85" fill="none" stroke="#b8b8b8" stroke-width="1.0"/><line x1="50.20" y1="274.80" x2="50.20" y2="282.20" stroke="#b8b8b8" stroke-width="0.45"/><rect x="49.70" y="277.70" width="1.0" height="1.6" fill="#6a6a6a" fill-opacity="0.85"/>
<circle cx="67.66" cy="278.50" r="3.3" fill="#7a78c8" fill-opacity="0.16"/><circle cx="67.66" cy="278.50" r="2.85" fill="none" stroke="#b0b0d2" stroke-width="0.95"/><line x1="64.36" y1="278.50" x2="70.96" y2="278.50" stroke="#1e1c66" stroke-width="0.5" stroke-opacity="0.3"/><line x1="67.66" y1="274.80" x2="67.66" y2="282.20" stroke="#1e1c66" stroke-width="0.5" stroke-opacity="0.3"/><circle cx="67.66" cy="278.50" r="1.25" fill="#1e1c66"/>
<circle cx="85.12" cy="278.50" r="2.85" fill="none" stroke="#b8b8b8" stroke-width="1.0"/><line x1="85.12" y1="274.80" x2="85.12" y2="282.20" stroke="#b8b8b8" stroke-width="0.45"/><rect x="84.62" y="277.70" width="1.0" height="1.6" fill="#6a6a6a" fill-opacity="0.85"/>
<circle cx="102.58" cy="278.50" r="2.85" fill="none" stroke="#b8b8b8" stroke-width="1.0"/><line x1="102.58" y1="274.80" x2="102.58" y2="282.20" stroke="#b8b8b8" stroke-width="0.45"/><rect x="102.08" y="277.70" width="1.0" height="1.6" fill="#6a6a6a" fill-opacity="0.85"/>
<circle cx="120.04" cy="278.50" r="2.85" fill="none" stroke="#b8b8b8" stroke-width="1.0"/><line x1="120.04" y1="274.80" x2="120.04" y2="282.20" stroke="#b8b8b8" stroke-width="0.45"/><rect x="119.54" y="277.70" width="1.0" height="1.6" fill="#6a6a6a" fill-opacity="0.85"/>
<circle cx="137.50" cy="278.50" r="2.85" fill="none" stroke="#b8b8b8" stroke-width="1.0"/><line x1="137.50" y1="274.80" x2="137.50" y2="282.20" stroke="#b8b8b8" stroke-width="0.45"/><rect x="137.00" y="277.70" width="1.0" height="1.6" fill="#6a6a6a" fill-opacity="0.85"/>
<circle cx="154.96" cy="278.50" r="2.85" fill="none" stroke="#b8b8b8" stroke-width="1.0"/><line x1="154.96" y1="274.80" x2="154.96" y2="282.20" stroke="#b8b8b8" stroke-width="0.45"/><rect x="154.46" y="277.70" width="1.0" height="1.6" fill="#6a6a6a" fill-opacity="0.85"/>
<circle cx="172.42" cy="278.50" r="2.85" fill="none" stroke="#b8b8b8" stroke-width="1.0"/><line x1="172.42" y1="274.80" x2="172.42" y2="282.20" stroke="#b8b8b8" stroke-width="0.45"/><rect x="171.92" y="277.70" width="1.0" height="1.6" fill="#6a6a6a" fill-opacity="0.85"/>
<circle cx="189.88" cy="278.50" r="3.3" fill="#7a78c8" fill-opacity="0.16"/><circle cx="189.88" cy="278.50" r="2.85" fill="none" stroke="#b0b0d2" stroke-width="0.95"/><line x1="186.58" y1="278.50" x2="193.18" y2="278.50" stroke="#1e1c66" stroke-width="0.5" stroke-opacity="0.3"/><line x1="189.88" y1="274.80" x2="189.88" y2="282.20" stroke="#1e1c66" stroke-width="0.5" stroke-opacity="0.3"/><circle cx="189.88" cy="278.50" r="1.25" fill="#1e1c66"/>
<circle cx="207.34" cy="278.50" r="3.3" fill="#9a98d4" fill-opacity="0.09"/><circle cx="207.34" cy="278.50" r="2.85" fill="none" stroke="#bcbcd6" stroke-width="0.95"/><line x1="204.04" y1="278.50" x2="210.64" y2="278.50" stroke="#2c2a70" stroke-width="0.5" stroke-opacity="0.3"/><line x1="207.34" y1="274.80" x2="207.34" y2="282.20" stroke="#2c2a70" stroke-width="0.5" stroke-opacity="0.3"/><circle cx="207.34" cy="278.50" r="1.05" fill="#2c2a70"/>
<circle cx="224.80" cy="278.50" r="3.3" fill="#7a78c8" fill-opacity="0.16"/><circle cx="224.80" cy="278.50" r="2.85" fill="none" stroke="#b0b0d2" stroke-width="0.95"/><line x1="221.50" y1="278.50" x2="228.10" y2="278.50" stroke="#1e1c66" stroke-width="0.5" stroke-opacity="0.3"/><line x1="224.80" y1="274.80" x2="224.80" y2="282.20" stroke="#1e1c66" stroke-width="0.5" stroke-opacity="0.3"/><circle cx="224.80" cy="278.50" r="1.25" fill="#1e1c66"/>
<circle cx="242.26" cy="278.50" r="3.3" fill="#ea9090" fill-opacity="0.09"/><circle cx="242.26" cy="278.50" r="2.85" fill="none" stroke="#e0bcbc" stroke-width="0.95"/><line x1="238.96" y1="278.50" x2="245.56" y2="278.50" stroke="#983040" stroke-width="0.5" stroke-opacity="0.3"/><line x1="242.26" y1="274.80" x2="242.26" y2="282.20" stroke="#983040" stroke-width="0.5" stroke-opacity="0.3"/><circle cx="242.26" cy="278.50" r="1.05" fill="#983040"/>
<circle cx="259.72" cy="278.50" r="2.85" fill="none" stroke="#b8b8b8" stroke-width="1.0"/><line x1="259.72" y1="274.80" x2="259.72" y2="282.20" stroke="#b8b8b8" stroke-width="0.45"/><rect x="259.22" y="277.70" width="1.0" height="1.6" fill="#6a6a6a" fill-opacity="0.85"/>
<circle cx="277.18" cy="278.50" r="3.3" fill="#9a98d4" fill-opacity="0.09"/><circle cx="277.18" cy="278.50" r="2.85" fill="none" stroke="#bcbcd6" stroke-width="0.95"/><line x1="273.88" y1="278.50" x2="280.48" y2="278.50" stroke="#2c2a70" stroke-width="0.5" stroke-opacity="0.3"/><line x1="277.18" y1="274.80" x2="277.18" y2="282.20" stroke="#2c2a70" stroke-width="0.5" stroke-opacity="0.3"/><circle cx="277.18" cy="278.50" r="1.05" fill="#2c2a70"/>
<circle cx="294.64" cy="278.50" r="3.3" fill="#9a98d4" fill-opacity="0.09"/><circle cx="294.64" cy="278.50" r="2.85" fill="none" stroke="#bcbcd6" stroke-width="0.95"/><line x1="291.34" y1="278.50" x2="297.94" y2="278.50" stroke="#2c2a70" stroke-width="0.5" stroke-opacity="0.3"/><line x1="294.64" y1="274.80" x2="294.64" y2="282.20" stroke="#2c2a70" stroke-width="0.5" stroke-opacity="0.3"/><circle cx="294.64" cy="278.50" r="1.05" fill="#2c2a70"/>
<circle cx="50.20" cy="289.35" r="2.8" fill="#24207a"/>
<circle cx="67.66" cy="289.35" r="3.4" fill="#24207a"/>
<circle cx="85.12" cy="289.35" r="3.3" fill="#7a78c8" fill-opacity="0.16"/><circle cx="85.12" cy="289.35" r="2.85" fill="none" stroke="#b0b0d2" stroke-width="0.95"/><line x1="81.82" y1="289.35" x2="88.42" y2="289.35" stroke="#1e1c66" stroke-width="0.5" stroke-opacity="0.3"/><line x1="85.12" y1="285.65" x2="85.12" y2="293.05" stroke="#1e1c66" stroke-width="0.5" stroke-opacity="0.3"/><circle cx="85.12" cy="289.35" r="1.25" fill="#1e1c66"/>
<circle cx="102.58" cy="289.35" r="2.8" fill="#909090"/>
<circle cx="120.04" cy="289.35" r="3.3" fill="#d8c860" fill-opacity="0.22"/><circle cx="120.04" cy="289.35" r="2.85" fill="none" stroke="#dcd4a4" stroke-width="0.95"/><line x1="116.74" y1="289.35" x2="123.34" y2="289.35" stroke="#98883a" stroke-width="0.5" stroke-opacity="0.3"/><line x1="120.04" y1="285.65" x2="120.04" y2="293.05" stroke="#98883a" stroke-width="0.5" stroke-opacity="0.3"/><circle cx="120.04" cy="289.35" r="1.15" fill="#98883a"/>
<circle cx="137.50" cy="289.35" r="2.8" fill="#5a58a0"/>
<circle cx="154.96" cy="289.35" r="3.3" fill="#6aa050" fill-opacity="0.3"/><circle cx="154.96" cy="289.35" r="2.85" fill="none" stroke="#a8c494" stroke-width="0.95"/><line x1="151.66" y1="289.35" x2="158.26" y2="289.35" stroke="#c03a2a" stroke-width="0.5" stroke-opacity="0.3"/><line x1="154.96" y1="285.65" x2="154.96" y2="293.05" stroke="#c03a2a" stroke-width="0.5" stroke-opacity="0.3"/><circle cx="154.96" cy="289.35" r="1.2" fill="#c03a2a"/>
<circle cx="172.42" cy="289.35" r="2.85" fill="none" stroke="#b8b8b8" stroke-width="1.0"/><line x1="172.42" y1="285.65" x2="172.42" y2="293.05" stroke="#b8b8b8" stroke-width="0.45"/><rect x="171.92" y="288.55" width="1.0" height="1.6" fill="#6a6a6a" fill-opacity="0.85"/>
<circle cx="189.88" cy="289.35" r="2.8" fill="#24207a"/>
<circle cx="207.34" cy="289.35" r="2.8" fill="#24207a"/>
<circle cx="224.80" cy="289.35" r="3.3" fill="#6aa050" fill-opacity="0.3"/><circle cx="224.80" cy="289.35" r="2.85" fill="none" stroke="#a8c494" stroke-width="0.95"/><line x1="221.50" y1="289.35" x2="228.10" y2="289.35" stroke="#c03a2a" stroke-width="0.5" stroke-opacity="0.3"/><line x1="224.80" y1="285.65" x2="224.80" y2="293.05" stroke="#c03a2a" stroke-width="0.5" stroke-opacity="0.3"/><circle cx="224.80" cy="289.35" r="1.2" fill="#c03a2a"/>
<circle cx="242.26" cy="289.35" r="3.3" fill="#d8c860" fill-opacity="0.22"/><circle cx="242.26" cy="289.35" r="2.85" fill="none" stroke="#dcd4a4" stroke-width="0.95"/><line x1="238.96" y1="289.35" x2="245.56" y2="289.35" stroke="#98883a" stroke-width="0.5" stroke-opacity="0.3"/><line x1="242.26" y1="285.65" x2="242.26" y2="293.05" stroke="#98883a" stroke-width="0.5" stroke-opacity="0.3"/><circle cx="242.26" cy="289.35" r="1.15" fill="#98883a"/>
<circle cx="259.72" cy="289.35" r="2.8" fill="#d42027"/>
<circle cx="277.18" cy="289.35" r="3.3" fill="#6aa050" fill-opacity="0.3"/><circle cx="277.18" cy="289.35" r="2.85" fill="none" stroke="#a8c494" stroke-width="0.95"/><line x1="273.88" y1="289.35" x2="280.48" y2="289.35" stroke="#c03a2a" stroke-width="0.5" stroke-opacity="0.3"/><line x1="277.18" y1="285.65" x2="277.18" y2="293.05" stroke="#c03a2a" stroke-width="0.5" stroke-opacity="0.3"/><circle cx="277.18" cy="289.35" r="1.2" fill="#c03a2a"/>
<circle cx="294.64" cy="289.35" r="2.85" fill="none" stroke="#d6baba" stroke-width="1.0"/><line x1="294.64" y1="285.65" x2="294.64" y2="293.05" stroke="#d6baba" stroke-width="0.45"/><rect x="294.14" y="288.55" width="1.0" height="1.6" fill="#7a4a4a" fill-opacity="0.85"/>
<circle cx="50.20" cy="300.20" r="3.3" fill="#7a78c8" fill-opacity="0.16"/><circle cx="50.20" cy="300.20" r="2.85" fill="none" stroke="#b0b0d2" stroke-width="0.95"/><line x1="46.90" y1="300.20" x2="53.50" y2="300.20" stroke="#1e1c66" stroke-width="0.5" stroke-opacity="0.3"/><line x1="50.20" y1="296.50" x2="50.20" y2="303.90" stroke="#1e1c66" stroke-width="0.5" stroke-opacity="0.3"/><circle cx="50.20" cy="300.20" r="1.25" fill="#1e1c66"/>
<circle cx="67.66" cy="300.20" r="3.3" fill="#7a78c8" fill-opacity="0.16"/><circle cx="67.66" cy="300.20" r="2.85" fill="none" stroke="#b0b0d2" stroke-width="0.95"/><line x1="64.36" y1="300.20" x2="70.96" y2="300.20" stroke="#1e1c66" stroke-width="0.5" stroke-opacity="0.3"/><line x1="67.66" y1="296.50" x2="67.66" y2="303.90" stroke="#1e1c66" stroke-width="0.5" stroke-opacity="0.3"/><circle cx="67.66" cy="300.20" r="1.25" fill="#1e1c66"/>
<circle cx="85.12" cy="300.20" r="3.3" fill="#7a78c8" fill-opacity="0.16"/><circle cx="85.12" cy="300.20" r="2.85" fill="none" stroke="#b0b0d2" stroke-width="0.95"/><line x1="81.82" y1="300.20" x2="88.42" y2="300.20" stroke="#1e1c66" stroke-width="0.5" stroke-opacity="0.3"/><line x1="85.12" y1="296.50" x2="85.12" y2="303.90" stroke="#1e1c66" stroke-width="0.5" stroke-opacity="0.3"/><circle cx="85.12" cy="300.20" r="1.25" fill="#1e1c66"/>
<circle cx="102.58" cy="300.20" r="2.85" fill="none" stroke="#dacdb8" stroke-width="1.0"/><line x1="102.58" y1="296.50" x2="102.58" y2="303.90" stroke="#dacdb8" stroke-width="0.45"/><rect x="102.08" y="299.40" width="1.0" height="1.6" fill="#7a6a50" fill-opacity="0.85"/>
<circle cx="120.04" cy="300.20" r="2.85" fill="none" stroke="#dacdb8" stroke-width="1.0"/><line x1="120.04" y1="296.50" x2="120.04" y2="303.90" stroke="#dacdb8" stroke-width="0.45"/><rect x="119.54" y="299.40" width="1.0" height="1.6" fill="#7a6a50" fill-opacity="0.85"/>
<circle cx="137.50" cy="300.20" r="2.8" fill="#e58a2e"/>
<circle cx="154.96" cy="300.20" r="3.3" fill="#ea9a5a" fill-opacity="0.22"/><circle cx="154.96" cy="300.20" r="2.85" fill="none" stroke="#e6c0a0" stroke-width="0.95"/><line x1="151.66" y1="300.20" x2="158.26" y2="300.20" stroke="#b85a28" stroke-width="0.5" stroke-opacity="0.3"/><line x1="154.96" y1="296.50" x2="154.96" y2="303.90" stroke="#b85a28" stroke-width="0.5" stroke-opacity="0.3"/><circle cx="154.96" cy="300.20" r="1.2" fill="#b85a28"/>
<circle cx="172.42" cy="300.20" r="2.85" fill="none" stroke="#b8b8b8" stroke-width="1.0"/><line x1="172.42" y1="296.50" x2="172.42" y2="303.90" stroke="#b8b8b8" stroke-width="0.45"/><rect x="171.92" y="299.40" width="1.0" height="1.6" fill="#6a6a6a" fill-opacity="0.85"/>
<circle cx="189.88" cy="300.20" r="3.3" fill="#7a7a6a" fill-opacity="0.26"/><circle cx="189.88" cy="300.20" r="2.85" fill="none" stroke="#b0b0a4" stroke-width="0.95"/><line x1="186.58" y1="300.20" x2="193.18" y2="300.20" stroke="#4a4a44" stroke-width="0.5" stroke-opacity="0.3"/><line x1="189.88" y1="296.50" x2="189.88" y2="303.90" stroke="#4a4a44" stroke-width="0.5" stroke-opacity="0.3"/><circle cx="189.88" cy="300.20" r="1.25" fill="#4a4a44"/>
<circle cx="207.34" cy="300.20" r="2.85" fill="none" stroke="#dacdb8" stroke-width="1.0"/><line x1="207.34" y1="296.50" x2="207.34" y2="303.90" stroke="#dacdb8" stroke-width="0.45"/><rect x="206.84" y="299.40" width="1.0" height="1.6" fill="#7a6a50" fill-opacity="0.85"/>
<circle cx="224.80" cy="300.20" r="2.8" fill="#d42027"/>
<circle cx="242.26" cy="300.20" r="3.3" fill="#d8c860" fill-opacity="0.22"/><circle cx="242.26" cy="300.20" r="2.85" fill="none" stroke="#dcd4a4" stroke-width="0.95"/><line x1="238.96" y1="300.20" x2="245.56" y2="300.20" stroke="#98883a" stroke-width="0.5" stroke-opacity="0.3"/><line x1="242.26" y1="296.50" x2="242.26" y2="303.90" stroke="#98883a" stroke-width="0.5" stroke-opacity="0.3"/><circle cx="242.26" cy="300.20" r="1.15" fill="#98883a"/>
<circle cx="259.72" cy="300.20" r="2.8" fill="#24207a"/>
<circle cx="277.18" cy="300.20" r="3.4" fill="#d42027"/>
<circle cx="294.64" cy="300.20" r="3.3" fill="#9a98d4" fill-opacity="0.09"/><circle cx="294.64" cy="300.20" r="2.85" fill="none" stroke="#bcbcd6" stroke-width="0.95"/><line x1="291.34" y1="300.20" x2="297.94" y2="300.20" stroke="#2c2a70" stroke-width="0.5" stroke-opacity="0.3"/><line x1="294.64" y1="296.50" x2="294.64" y2="303.90" stroke="#2c2a70" stroke-width="0.5" stroke-opacity="0.3"/><circle cx="294.64" cy="300.20" r="1.05" fill="#2c2a70"/>
<circle cx="50.20" cy="311.05" r="3.3" fill="#ea9090" fill-opacity="0.09"/><circle cx="50.20" cy="311.05" r="2.85" fill="none" stroke="#e0bcbc" stroke-width="0.95"/><line x1="46.90" y1="311.05" x2="53.50" y2="311.05" stroke="#983040" stroke-width="0.5" stroke-opacity="0.3"/><line x1="50.20" y1="307.35" x2="50.20" y2="314.75" stroke="#983040" stroke-width="0.5" stroke-opacity="0.3"/><circle cx="50.20" cy="311.05" r="1.05" fill="#983040"/>
<circle cx="67.66" cy="311.05" r="2.85" fill="none" stroke="#d6baba" stroke-width="1.0"/><line x1="67.66" y1="307.35" x2="67.66" y2="314.75" stroke="#d6baba" stroke-width="0.45"/><rect x="67.16" y="310.25" width="1.0" height="1.6" fill="#7a4a4a" fill-opacity="0.85"/>
<circle cx="85.12" cy="311.05" r="3.3" fill="#ea9090" fill-opacity="0.09"/><circle cx="85.12" cy="311.05" r="2.85" fill="none" stroke="#e0bcbc" stroke-width="0.95"/><line x1="81.82" y1="311.05" x2="88.42" y2="311.05" stroke="#983040" stroke-width="0.5" stroke-opacity="0.3"/><line x1="85.12" y1="307.35" x2="85.12" y2="314.75" stroke="#983040" stroke-width="0.5" stroke-opacity="0.3"/><circle cx="85.12" cy="311.05" r="1.05" fill="#983040"/>
<circle cx="102.58" cy="311.05" r="3.3" fill="#9a98d4" fill-opacity="0.09"/><circle cx="102.58" cy="311.05" r="2.85" fill="none" stroke="#bcbcd6" stroke-width="0.95"/><line x1="99.28" y1="311.05" x2="105.88" y2="311.05" stroke="#2c2a70" stroke-width="0.5" stroke-opacity="0.3"/><line x1="102.58" y1="307.35" x2="102.58" y2="314.75" stroke="#2c2a70" stroke-width="0.5" stroke-opacity="0.3"/><circle cx="102.58" cy="311.05" r="1.05" fill="#2c2a70"/>
<circle cx="120.04" cy="311.05" r="2.85" fill="none" stroke="#dacdb8" stroke-width="1.0"/><line x1="120.04" y1="307.35" x2="120.04" y2="314.75" stroke="#dacdb8" stroke-width="0.45"/><rect x="119.54" y="310.25" width="1.0" height="1.6" fill="#7a6a50" fill-opacity="0.85"/>
<circle cx="137.50" cy="311.05" r="3.3" fill="#ea9090" fill-opacity="0.09"/><circle cx="137.50" cy="311.05" r="2.85" fill="none" stroke="#e0bcbc" stroke-width="0.95"/><line x1="134.20" y1="311.05" x2="140.80" y2="311.05" stroke="#983040" stroke-width="0.5" stroke-opacity="0.3"/><line x1="137.50" y1="307.35" x2="137.50" y2="314.75" stroke="#983040" stroke-width="0.5" stroke-opacity="0.3"/><circle cx="137.50" cy="311.05" r="1.05" fill="#983040"/>
<circle cx="154.96" cy="311.05" r="2.85" fill="none" stroke="#d6baba" stroke-width="1.0"/><line x1="154.96" y1="307.35" x2="154.96" y2="314.75" stroke="#d6baba" stroke-width="0.45"/><rect x="154.46" y="310.25" width="1.0" height="1.6" fill="#7a4a4a" fill-opacity="0.85"/>
<circle cx="172.42" cy="311.05" r="3.3" fill="#ea9090" fill-opacity="0.09"/><circle cx="172.42" cy="311.05" r="2.85" fill="none" stroke="#e0bcbc" stroke-width="0.95"/><line x1="169.12" y1="311.05" x2="175.72" y2="311.05" stroke="#983040" stroke-width="0.5" stroke-opacity="0.3"/><line x1="172.42" y1="307.35" x2="172.42" y2="314.75" stroke="#983040" stroke-width="0.5" stroke-opacity="0.3"/><circle cx="172.42" cy="311.05" r="1.05" fill="#983040"/>
<circle cx="189.88" cy="311.05" r="2.85" fill="none" stroke="#dacdb8" stroke-width="1.0"/><line x1="189.88" y1="307.35" x2="189.88" y2="314.75" stroke="#dacdb8" stroke-width="0.45"/><rect x="189.38" y="310.25" width="1.0" height="1.6" fill="#7a6a50" fill-opacity="0.85"/>
<circle cx="207.34" cy="311.05" r="3.3" fill="#9a98d4" fill-opacity="0.09"/><circle cx="207.34" cy="311.05" r="2.85" fill="none" stroke="#bcbcd6" stroke-width="0.95"/><line x1="204.04" y1="311.05" x2="210.64" y2="311.05" stroke="#2c2a70" stroke-width="0.5" stroke-opacity="0.3"/><line x1="207.34" y1="307.35" x2="207.34" y2="314.75" stroke="#2c2a70" stroke-width="0.5" stroke-opacity="0.3"/><circle cx="207.34" cy="311.05" r="1.05" fill="#2c2a70"/>
<circle cx="224.80" cy="311.05" r="2.85" fill="none" stroke="#b8b8b8" stroke-width="1.0"/><line x1="224.80" y1="307.35" x2="224.80" y2="314.75" stroke="#b8b8b8" stroke-width="0.45"/><rect x="224.30" y="310.25" width="1.0" height="1.6" fill="#6a6a6a" fill-opacity="0.85"/>
<circle cx="242.26" cy="311.05" r="2.85" fill="none" stroke="#b8b8b8" stroke-width="1.0"/><line x1="242.26" y1="307.35" x2="242.26" y2="314.75" stroke="#b8b8b8" stroke-width="0.45"/><rect x="241.76" y="310.25" width="1.0" height="1.6" fill="#6a6a6a" fill-opacity="0.85"/>
<circle cx="259.72" cy="311.05" r="3.3" fill="#7a78c8" fill-opacity="0.16"/><circle cx="259.72" cy="311.05" r="2.85" fill="none" stroke="#b0b0d2" stroke-width="0.95"/><line x1="256.42" y1="311.05" x2="263.02" y2="311.05" stroke="#1e1c66" stroke-width="0.5" stroke-opacity="0.3"/><line x1="259.72" y1="307.35" x2="259.72" y2="314.75" stroke="#1e1c66" stroke-width="0.5" stroke-opacity="0.3"/><circle cx="259.72" cy="311.05" r="1.25" fill="#1e1c66"/>
<circle cx="277.18" cy="311.05" r="3.3" fill="#ea9090" fill-opacity="0.09"/><circle cx="277.18" cy="311.05" r="2.85" fill="none" stroke="#e0bcbc" stroke-width="0.95"/><line x1="273.88" y1="311.05" x2="280.48" y2="311.05" stroke="#983040" stroke-width="0.5" stroke-opacity="0.3"/><line x1="277.18" y1="307.35" x2="277.18" y2="314.75" stroke="#983040" stroke-width="0.5" stroke-opacity="0.3"/><circle cx="277.18" cy="311.05" r="1.05" fill="#983040"/>
<circle cx="294.64" cy="311.05" r="2.85" fill="none" stroke="#b8b8b8" stroke-width="1.0"/><line x1="294.64" y1="307.35" x2="294.64" y2="314.75" stroke="#b8b8b8" stroke-width="0.45"/><rect x="294.14" y="310.25" width="1.0" height="1.6" fill="#6a6a6a" fill-opacity="0.85"/>
<circle cx="50.20" cy="321.90" r="2.8" fill="#d42027"/>
<circle cx="67.66" cy="321.90" r="2.8" fill="#d42027"/>
<circle cx="85.12" cy="321.90" r="3.3" fill="#e46060" fill-opacity="0.16"/><circle cx="85.12" cy="321.90" r="2.85" fill="none" stroke="#e0acac" stroke-width="0.95"/><line x1="81.82" y1="321.90" x2="88.42" y2="321.90" stroke="#a01828" stroke-width="0.5" stroke-opacity="0.3"/><line x1="85.12" y1="318.20" x2="85.12" y2="325.60" stroke="#a01828" stroke-width="0.5" stroke-opacity="0.3"/><circle cx="85.12" cy="321.90" r="1.25" fill="#a01828"/>
<circle cx="102.58" cy="321.90" r="3.3" fill="#ea9a5a" fill-opacity="0.22"/><circle cx="102.58" cy="321.90" r="2.85" fill="none" stroke="#e6c0a0" stroke-width="0.95"/><line x1="99.28" y1="321.90" x2="105.88" y2="321.90" stroke="#b85a28" stroke-width="0.5" stroke-opacity="0.3"/><line x1="102.58" y1="318.20" x2="102.58" y2="325.60" stroke="#b85a28" stroke-width="0.5" stroke-opacity="0.3"/><circle cx="102.58" cy="321.90" r="1.2" fill="#b85a28"/>
<circle cx="120.04" cy="321.90" r="2.8" fill="#d42027"/>
<circle cx="137.50" cy="321.90" r="2.8" fill="#e58a2e"/>
<circle cx="154.96" cy="321.90" r="3.3" fill="#ea9a5a" fill-opacity="0.22"/><circle cx="154.96" cy="321.90" r="2.85" fill="none" stroke="#e6c0a0" stroke-width="0.95"/><line x1="151.66" y1="321.90" x2="158.26" y2="321.90" stroke="#b85a28" stroke-width="0.5" stroke-opacity="0.3"/><line x1="154.96" y1="318.20" x2="154.96" y2="325.60" stroke="#b85a28" stroke-width="0.5" stroke-opacity="0.3"/><circle cx="154.96" cy="321.90" r="1.2" fill="#b85a28"/>
<circle cx="172.42" cy="321.90" r="2.8" fill="#d42027"/>
<circle cx="189.88" cy="321.90" r="2.8" fill="#e58a2e"/>
<circle cx="207.34" cy="321.90" r="2.85" fill="none" stroke="#dacdb8" stroke-width="1.0"/><line x1="207.34" y1="318.20" x2="207.34" y2="325.60" stroke="#dacdb8" stroke-width="0.45"/><rect x="206.84" y="321.10" width="1.0" height="1.6" fill="#7a6a50" fill-opacity="0.85"/>
<circle cx="224.80" cy="321.90" r="3.3" fill="#ea9090" fill-opacity="0.09"/><circle cx="224.80" cy="321.90" r="2.85" fill="none" stroke="#e0bcbc" stroke-width="0.95"/><line x1="221.50" y1="321.90" x2="228.10" y2="321.90" stroke="#983040" stroke-width="0.5" stroke-opacity="0.3"/><line x1="224.80" y1="318.20" x2="224.80" y2="325.60" stroke="#983040" stroke-width="0.5" stroke-opacity="0.3"/><circle cx="224.80" cy="321.90" r="1.05" fill="#983040"/>
<circle cx="242.26" cy="321.90" r="2.85" fill="none" stroke="#b8b8b8" stroke-width="1.0"/><line x1="242.26" y1="318.20" x2="242.26" y2="325.60" stroke="#b8b8b8" stroke-width="0.45"/><rect x="241.76" y="321.10" width="1.0" height="1.6" fill="#6a6a6a" fill-opacity="0.85"/>
<circle cx="259.72" cy="321.90" r="3.3" fill="#7a78c8" fill-opacity="0.16"/><circle cx="259.72" cy="321.90" r="2.85" fill="none" stroke="#b0b0d2" stroke-width="0.95"/><line x1="256.42" y1="321.90" x2="263.02" y2="321.90" stroke="#1e1c66" stroke-width="0.5" stroke-opacity="0.3"/><line x1="259.72" y1="318.20" x2="259.72" y2="325.60" stroke="#1e1c66" stroke-width="0.5" stroke-opacity="0.3"/><circle cx="259.72" cy="321.90" r="1.25" fill="#1e1c66"/>
<circle cx="277.18" cy="321.90" r="2.85" fill="none" stroke="#dacdb8" stroke-width="1.0"/><line x1="277.18" y1="318.20" x2="277.18" y2="325.60" stroke="#dacdb8" stroke-width="0.45"/><rect x="276.68" y="321.10" width="1.0" height="1.6" fill="#7a6a50" fill-opacity="0.85"/>
<circle cx="294.64" cy="321.90" r="2.85" fill="none" stroke="#b8b8b8" stroke-width="1.0"/><line x1="294.64" y1="318.20" x2="294.64" y2="325.60" stroke="#b8b8b8" stroke-width="0.45"/><rect x="294.14" y="321.10" width="1.0" height="1.6" fill="#6a6a6a" fill-opacity="0.85"/>
<circle cx="50.20" cy="332.75" r="3.3" fill="#ea9090" fill-opacity="0.09"/><circle cx="50.20" cy="332.75" r="2.85" fill="none" stroke="#e0bcbc" stroke-width="0.95"/><line x1="46.90" y1="332.75" x2="53.50" y2="332.75" stroke="#983040" stroke-width="0.5" stroke-opacity="0.3"/><line x1="50.20" y1="329.05" x2="50.20" y2="336.45" stroke="#983040" stroke-width="0.5" stroke-opacity="0.3"/><circle cx="50.20" cy="332.75" r="1.05" fill="#983040"/>
<circle cx="67.66" cy="332.75" r="3.3" fill="#9a98d4" fill-opacity="0.09"/><circle cx="67.66" cy="332.75" r="2.85" fill="none" stroke="#bcbcd6" stroke-width="0.95"/><line x1="64.36" y1="332.75" x2="70.96" y2="332.75" stroke="#2c2a70" stroke-width="0.5" stroke-opacity="0.3"/><line x1="67.66" y1="329.05" x2="67.66" y2="336.45" stroke="#2c2a70" stroke-width="0.5" stroke-opacity="0.3"/><circle cx="67.66" cy="332.75" r="1.05" fill="#2c2a70"/>
<circle cx="85.12" cy="332.75" r="3.3" fill="#e46060" fill-opacity="0.16"/><circle cx="85.12" cy="332.75" r="2.85" fill="none" stroke="#e0acac" stroke-width="0.95"/><line x1="81.82" y1="332.75" x2="88.42" y2="332.75" stroke="#a01828" stroke-width="0.5" stroke-opacity="0.3"/><line x1="85.12" y1="329.05" x2="85.12" y2="336.45" stroke="#a01828" stroke-width="0.5" stroke-opacity="0.3"/><circle cx="85.12" cy="332.75" r="1.25" fill="#a01828"/>
<circle cx="102.58" cy="332.75" r="2.85" fill="none" stroke="#b8b8b8" stroke-width="1.0"/><line x1="102.58" y1="329.05" x2="102.58" y2="336.45" stroke="#b8b8b8" stroke-width="0.45"/><rect x="102.08" y="331.95" width="1.0" height="1.6" fill="#6a6a6a" fill-opacity="0.85"/>
<circle cx="120.04" cy="332.75" r="2.85" fill="none" stroke="#b8b8b8" stroke-width="1.0"/><line x1="120.04" y1="329.05" x2="120.04" y2="336.45" stroke="#b8b8b8" stroke-width="0.45"/><rect x="119.54" y="331.95" width="1.0" height="1.6" fill="#6a6a6a" fill-opacity="0.85"/>
<circle cx="137.50" cy="332.75" r="2.85" fill="none" stroke="#b8b8b8" stroke-width="1.0"/><line x1="137.50" y1="329.05" x2="137.50" y2="336.45" stroke="#b8b8b8" stroke-width="0.45"/><rect x="137.00" y="331.95" width="1.0" height="1.6" fill="#6a6a6a" fill-opacity="0.85"/>
<circle cx="154.96" cy="332.75" r="2.85" fill="none" stroke="#b8b8b8" stroke-width="1.0"/><line x1="154.96" y1="329.05" x2="154.96" y2="336.45" stroke="#b8b8b8" stroke-width="0.45"/><rect x="154.46" y="331.95" width="1.0" height="1.6" fill="#6a6a6a" fill-opacity="0.85"/>
<circle cx="172.42" cy="332.75" r="3.3" fill="#9a98d4" fill-opacity="0.09"/><circle cx="172.42" cy="332.75" r="2.85" fill="none" stroke="#bcbcd6" stroke-width="0.95"/><line x1="169.12" y1="332.75" x2="175.72" y2="332.75" stroke="#2c2a70" stroke-width="0.5" stroke-opacity="0.3"/><line x1="172.42" y1="329.05" x2="172.42" y2="336.45" stroke="#2c2a70" stroke-width="0.5" stroke-opacity="0.3"/><circle cx="172.42" cy="332.75" r="1.05" fill="#2c2a70"/>
<circle cx="189.88" cy="332.75" r="2.8" fill="#d42027"/>
<circle cx="207.34" cy="332.75" r="2.85" fill="none" stroke="#b8b8b8" stroke-width="1.0"/><line x1="207.34" y1="329.05" x2="207.34" y2="336.45" stroke="#b8b8b8" stroke-width="0.45"/><rect x="206.84" y="331.95" width="1.0" height="1.6" fill="#6a6a6a" fill-opacity="0.85"/>
<circle cx="224.80" cy="332.75" r="3.3" fill="#ea9090" fill-opacity="0.09"/><circle cx="224.80" cy="332.75" r="2.85" fill="none" stroke="#e0bcbc" stroke-width="0.95"/><line x1="221.50" y1="332.75" x2="228.10" y2="332.75" stroke="#983040" stroke-width="0.5" stroke-opacity="0.3"/><line x1="224.80" y1="329.05" x2="224.80" y2="336.45" stroke="#983040" stroke-width="0.5" stroke-opacity="0.3"/><circle cx="224.80" cy="332.75" r="1.05" fill="#983040"/>
<circle cx="242.26" cy="332.75" r="2.85" fill="none" stroke="#b8b8b8" stroke-width="1.0"/><line x1="242.26" y1="329.05" x2="242.26" y2="336.45" stroke="#b8b8b8" stroke-width="0.45"/><rect x="241.76" y="331.95" width="1.0" height="1.6" fill="#6a6a6a" fill-opacity="0.85"/>
<circle cx="259.72" cy="332.75" r="3.3" fill="#9a98d4" fill-opacity="0.09"/><circle cx="259.72" cy="332.75" r="2.85" fill="none" stroke="#bcbcd6" stroke-width="0.95"/><line x1="256.42" y1="332.75" x2="263.02" y2="332.75" stroke="#2c2a70" stroke-width="0.5" stroke-opacity="0.3"/><line x1="259.72" y1="329.05" x2="259.72" y2="336.45" stroke="#2c2a70" stroke-width="0.5" stroke-opacity="0.3"/><circle cx="259.72" cy="332.75" r="1.05" fill="#2c2a70"/>
<circle cx="277.18" cy="332.75" r="2.85" fill="none" stroke="#d6baba" stroke-width="1.0"/><line x1="277.18" y1="329.05" x2="277.18" y2="336.45" stroke="#d6baba" stroke-width="0.45"/><rect x="276.68" y="331.95" width="1.0" height="1.6" fill="#7a4a4a" fill-opacity="0.85"/>
<circle cx="294.64" cy="332.75" r="2.85" fill="none" stroke="#b8b8b8" stroke-width="1.0"/><line x1="294.64" y1="329.05" x2="294.64" y2="336.45" stroke="#b8b8b8" stroke-width="0.45"/><rect x="294.14" y="331.95" width="1.0" height="1.6" fill="#6a6a6a" fill-opacity="0.85"/>
<circle cx="50.20" cy="343.60" r="2.85" fill="none" stroke="#bebed6" stroke-width="1.0"/><line x1="50.20" y1="339.90" x2="50.20" y2="347.30" stroke="#bebed6" stroke-width="0.45"/><rect x="49.70" y="342.80" width="1.0" height="1.6" fill="#3a3a70" fill-opacity="0.85"/>
<circle cx="67.66" cy="343.60" r="3.3" fill="#ea9090" fill-opacity="0.09"/><circle cx="67.66" cy="343.60" r="2.85" fill="none" stroke="#e0bcbc" stroke-width="0.95"/><line x1="64.36" y1="343.60" x2="70.96" y2="343.60" stroke="#983040" stroke-width="0.5" stroke-opacity="0.3"/><line x1="67.66" y1="339.90" x2="67.66" y2="347.30" stroke="#983040" stroke-width="0.5" stroke-opacity="0.3"/><circle cx="67.66" cy="343.60" r="1.05" fill="#983040"/>
<circle cx="85.12" cy="343.60" r="2.85" fill="none" stroke="#b8b8b8" stroke-width="1.0"/><line x1="85.12" y1="339.90" x2="85.12" y2="347.30" stroke="#b8b8b8" stroke-width="0.45"/><rect x="84.62" y="342.80" width="1.0" height="1.6" fill="#6a6a6a" fill-opacity="0.85"/>
<circle cx="102.58" cy="343.60" r="2.85" fill="none" stroke="#b8b8b8" stroke-width="1.0"/><line x1="102.58" y1="339.90" x2="102.58" y2="347.30" stroke="#b8b8b8" stroke-width="0.45"/><rect x="102.08" y="342.80" width="1.0" height="1.6" fill="#6a6a6a" fill-opacity="0.85"/>
<circle cx="120.04" cy="343.60" r="2.85" fill="none" stroke="#b8b8b8" stroke-width="1.0"/><line x1="120.04" y1="339.90" x2="120.04" y2="347.30" stroke="#b8b8b8" stroke-width="0.45"/><rect x="119.54" y="342.80" width="1.0" height="1.6" fill="#6a6a6a" fill-opacity="0.85"/>
<circle cx="137.50" cy="343.60" r="2.85" fill="none" stroke="#b8b8b8" stroke-width="1.0"/><line x1="137.50" y1="339.90" x2="137.50" y2="347.30" stroke="#b8b8b8" stroke-width="0.45"/><rect x="137.00" y="342.80" width="1.0" height="1.6" fill="#6a6a6a" fill-opacity="0.85"/>
<circle cx="154.96" cy="343.60" r="2.85" fill="none" stroke="#b8b8b8" stroke-width="1.0"/><line x1="154.96" y1="339.90" x2="154.96" y2="347.30" stroke="#b8b8b8" stroke-width="0.45"/><rect x="154.46" y="342.80" width="1.0" height="1.6" fill="#6a6a6a" fill-opacity="0.85"/>
<circle cx="172.42" cy="343.60" r="2.8" fill="#d42027"/>
<circle cx="189.88" cy="343.60" r="2.85" fill="none" stroke="#b8b8b8" stroke-width="1.0"/><line x1="189.88" y1="339.90" x2="189.88" y2="347.30" stroke="#b8b8b8" stroke-width="0.45"/><rect x="189.38" y="342.80" width="1.0" height="1.6" fill="#6a6a6a" fill-opacity="0.85"/>
<circle cx="207.34" cy="343.60" r="3.3" fill="#e46060" fill-opacity="0.16"/><circle cx="207.34" cy="343.60" r="2.85" fill="none" stroke="#e0acac" stroke-width="0.95"/><line x1="204.04" y1="343.60" x2="210.64" y2="343.60" stroke="#a01828" stroke-width="0.5" stroke-opacity="0.3"/><line x1="207.34" y1="339.90" x2="207.34" y2="347.30" stroke="#a01828" stroke-width="0.5" stroke-opacity="0.3"/><circle cx="207.34" cy="343.60" r="1.25" fill="#a01828"/>
<circle cx="224.80" cy="343.60" r="2.85" fill="none" stroke="#b8b8b8" stroke-width="1.0"/><line x1="224.80" y1="339.90" x2="224.80" y2="347.30" stroke="#b8b8b8" stroke-width="0.45"/><rect x="224.30" y="342.80" width="1.0" height="1.6" fill="#6a6a6a" fill-opacity="0.85"/>
<circle cx="242.26" cy="343.60" r="2.85" fill="none" stroke="#b8b8b8" stroke-width="1.0"/><line x1="242.26" y1="339.90" x2="242.26" y2="347.30" stroke="#b8b8b8" stroke-width="0.45"/><rect x="241.76" y="342.80" width="1.0" height="1.6" fill="#6a6a6a" fill-opacity="0.85"/>
<circle cx="259.72" cy="343.60" r="2.85" fill="none" stroke="#d6baba" stroke-width="1.0"/><line x1="259.72" y1="339.90" x2="259.72" y2="347.30" stroke="#d6baba" stroke-width="0.45"/><rect x="259.22" y="342.80" width="1.0" height="1.6" fill="#7a4a4a" fill-opacity="0.85"/>
<circle cx="277.18" cy="343.60" r="3.3" fill="#9a98d4" fill-opacity="0.09"/><circle cx="277.18" cy="343.60" r="2.85" fill="none" stroke="#bcbcd6" stroke-width="0.95"/><line x1="273.88" y1="343.60" x2="280.48" y2="343.60" stroke="#2c2a70" stroke-width="0.5" stroke-opacity="0.3"/><line x1="277.18" y1="339.90" x2="277.18" y2="347.30" stroke="#2c2a70" stroke-width="0.5" stroke-opacity="0.3"/><circle cx="277.18" cy="343.60" r="1.05" fill="#2c2a70"/>
<circle cx="294.64" cy="343.60" r="2.85" fill="none" stroke="#b8b8b8" stroke-width="1.0"/><line x1="294.64" y1="339.90" x2="294.64" y2="347.30" stroke="#b8b8b8" stroke-width="0.45"/><rect x="294.14" y="342.80" width="1.0" height="1.6" fill="#6a6a6a" fill-opacity="0.85"/>
<circle cx="50.20" cy="354.45" r="3.3" fill="#ea9090" fill-opacity="0.09"/><circle cx="50.20" cy="354.45" r="2.85" fill="none" stroke="#e0bcbc" stroke-width="0.95"/><line x1="46.90" y1="354.45" x2="53.50" y2="354.45" stroke="#983040" stroke-width="0.5" stroke-opacity="0.3"/><line x1="50.20" y1="350.75" x2="50.20" y2="358.15" stroke="#983040" stroke-width="0.5" stroke-opacity="0.3"/><circle cx="50.20" cy="354.45" r="1.05" fill="#983040"/>
<circle cx="67.66" cy="354.45" r="2.85" fill="none" stroke="#d6baba" stroke-width="1.0"/><line x1="67.66" y1="350.75" x2="67.66" y2="358.15" stroke="#d6baba" stroke-width="0.45"/><rect x="67.16" y="353.65" width="1.0" height="1.6" fill="#7a4a4a" fill-opacity="0.85"/>
<circle cx="85.12" cy="354.45" r="3.3" fill="#ea9090" fill-opacity="0.09"/><circle cx="85.12" cy="354.45" r="2.85" fill="none" stroke="#e0bcbc" stroke-width="0.95"/><line x1="81.82" y1="354.45" x2="88.42" y2="354.45" stroke="#983040" stroke-width="0.5" stroke-opacity="0.3"/><line x1="85.12" y1="350.75" x2="85.12" y2="358.15" stroke="#983040" stroke-width="0.5" stroke-opacity="0.3"/><circle cx="85.12" cy="354.45" r="1.05" fill="#983040"/>
<circle cx="102.58" cy="354.45" r="2.85" fill="none" stroke="#b8b8b8" stroke-width="1.0"/><line x1="102.58" y1="350.75" x2="102.58" y2="358.15" stroke="#b8b8b8" stroke-width="0.45"/><rect x="102.08" y="353.65" width="1.0" height="1.6" fill="#6a6a6a" fill-opacity="0.85"/>
<circle cx="120.04" cy="354.45" r="3.3" fill="#7a78c8" fill-opacity="0.16"/><circle cx="120.04" cy="354.45" r="2.85" fill="none" stroke="#b0b0d2" stroke-width="0.95"/><line x1="116.74" y1="354.45" x2="123.34" y2="354.45" stroke="#1e1c66" stroke-width="0.5" stroke-opacity="0.3"/><line x1="120.04" y1="350.75" x2="120.04" y2="358.15" stroke="#1e1c66" stroke-width="0.5" stroke-opacity="0.3"/><circle cx="120.04" cy="354.45" r="1.25" fill="#1e1c66"/>
<circle cx="137.50" cy="354.45" r="3.3" fill="#7a78c8" fill-opacity="0.16"/><circle cx="137.50" cy="354.45" r="2.85" fill="none" stroke="#b0b0d2" stroke-width="0.95"/><line x1="134.20" y1="354.45" x2="140.80" y2="354.45" stroke="#1e1c66" stroke-width="0.5" stroke-opacity="0.3"/><line x1="137.50" y1="350.75" x2="137.50" y2="358.15" stroke="#1e1c66" stroke-width="0.5" stroke-opacity="0.3"/><circle cx="137.50" cy="354.45" r="1.25" fill="#1e1c66"/>
<circle cx="154.96" cy="354.45" r="3.3" fill="#7a78c8" fill-opacity="0.16"/><circle cx="154.96" cy="354.45" r="2.85" fill="none" stroke="#b0b0d2" stroke-width="0.95"/><line x1="151.66" y1="354.45" x2="158.26" y2="354.45" stroke="#1e1c66" stroke-width="0.5" stroke-opacity="0.3"/><line x1="154.96" y1="350.75" x2="154.96" y2="358.15" stroke="#1e1c66" stroke-width="0.5" stroke-opacity="0.3"/><circle cx="154.96" cy="354.45" r="1.25" fill="#1e1c66"/>
<circle cx="172.42" cy="354.45" r="3.3" fill="#ea9090" fill-opacity="0.09"/><circle cx="172.42" cy="354.45" r="2.85" fill="none" stroke="#e0bcbc" stroke-width="0.95"/><line x1="169.12" y1="354.45" x2="175.72" y2="354.45" stroke="#983040" stroke-width="0.5" stroke-opacity="0.3"/><line x1="172.42" y1="350.75" x2="172.42" y2="358.15" stroke="#983040" stroke-width="0.5" stroke-opacity="0.3"/><circle cx="172.42" cy="354.45" r="1.05" fill="#983040"/>
<circle cx="189.88" cy="354.45" r="2.85" fill="none" stroke="#b8b8b8" stroke-width="1.0"/><line x1="189.88" y1="350.75" x2="189.88" y2="358.15" stroke="#b8b8b8" stroke-width="0.45"/><rect x="189.38" y="353.65" width="1.0" height="1.6" fill="#6a6a6a" fill-opacity="0.85"/>
<circle cx="207.34" cy="354.45" r="3.3" fill="#9a98d4" fill-opacity="0.09"/><circle cx="207.34" cy="354.45" r="2.85" fill="none" stroke="#bcbcd6" stroke-width="0.95"/><line x1="204.04" y1="354.45" x2="210.64" y2="354.45" stroke="#2c2a70" stroke-width="0.5" stroke-opacity="0.3"/><line x1="207.34" y1="350.75" x2="207.34" y2="358.15" stroke="#2c2a70" stroke-width="0.5" stroke-opacity="0.3"/><circle cx="207.34" cy="354.45" r="1.05" fill="#2c2a70"/>
<circle cx="224.80" cy="354.45" r="3.3" fill="#7a78c8" fill-opacity="0.16"/><circle cx="224.80" cy="354.45" r="2.85" fill="none" stroke="#b0b0d2" stroke-width="0.95"/><line x1="221.50" y1="354.45" x2="228.10" y2="354.45" stroke="#1e1c66" stroke-width="0.5" stroke-opacity="0.3"/><line x1="224.80" y1="350.75" x2="224.80" y2="358.15" stroke="#1e1c66" stroke-width="0.5" stroke-opacity="0.3"/><circle cx="224.80" cy="354.45" r="1.25" fill="#1e1c66"/>
<circle cx="242.26" cy="354.45" r="2.85" fill="none" stroke="#b8b8b8" stroke-width="1.0"/><line x1="242.26" y1="350.75" x2="242.26" y2="358.15" stroke="#b8b8b8" stroke-width="0.45"/><rect x="241.76" y="353.65" width="1.0" height="1.6" fill="#6a6a6a" fill-opacity="0.85"/>
<circle cx="259.72" cy="354.45" r="3.3" fill="#ea9090" fill-opacity="0.09"/><circle cx="259.72" cy="354.45" r="2.85" fill="none" stroke="#e0bcbc" stroke-width="0.95"/><line x1="256.42" y1="354.45" x2="263.02" y2="354.45" stroke="#983040" stroke-width="0.5" stroke-opacity="0.3"/><line x1="259.72" y1="350.75" x2="259.72" y2="358.15" stroke="#983040" stroke-width="0.5" stroke-opacity="0.3"/><circle cx="259.72" cy="354.45" r="1.05" fill="#983040"/>
<circle cx="277.18" cy="354.45" r="3.3" fill="#9a98d4" fill-opacity="0.09"/><circle cx="277.18" cy="354.45" r="2.85" fill="none" stroke="#bcbcd6" stroke-width="0.95"/><line x1="273.88" y1="354.45" x2="280.48" y2="354.45" stroke="#2c2a70" stroke-width="0.5" stroke-opacity="0.3"/><line x1="277.18" y1="350.75" x2="277.18" y2="358.15" stroke="#2c2a70" stroke-width="0.5" stroke-opacity="0.3"/><circle cx="277.18" cy="354.45" r="1.05" fill="#2c2a70"/>
<circle cx="294.64" cy="354.45" r="2.85" fill="none" stroke="#b8b8b8" stroke-width="1.0"/><line x1="294.64" y1="350.75" x2="294.64" y2="358.15" stroke="#b8b8b8" stroke-width="0.45"/><rect x="294.14" y="353.65" width="1.0" height="1.6" fill="#6a6a6a" fill-opacity="0.85"/>
<circle cx="50.20" cy="365.30" r="2.85" fill="none" stroke="#dacdb8" stroke-width="1.0"/><line x1="50.20" y1="361.60" x2="50.20" y2="369.00" stroke="#dacdb8" stroke-width="0.45"/><rect x="49.70" y="364.50" width="1.0" height="1.6" fill="#7a6a50" fill-opacity="0.85"/>
<circle cx="67.66" cy="365.30" r="3.3" fill="#e46060" fill-opacity="0.16"/><circle cx="67.66" cy="365.30" r="2.85" fill="none" stroke="#e0acac" stroke-width="0.95"/><line x1="64.36" y1="365.30" x2="70.96" y2="365.30" stroke="#a01828" stroke-width="0.5" stroke-opacity="0.3"/><line x1="67.66" y1="361.60" x2="67.66" y2="369.00" stroke="#a01828" stroke-width="0.5" stroke-opacity="0.3"/><circle cx="67.66" cy="365.30" r="1.25" fill="#a01828"/>
<circle cx="85.12" cy="365.30" r="2.85" fill="none" stroke="#d6baba" stroke-width="1.0"/><line x1="85.12" y1="361.60" x2="85.12" y2="369.00" stroke="#d6baba" stroke-width="0.45"/><rect x="84.62" y="364.50" width="1.0" height="1.6" fill="#7a4a4a" fill-opacity="0.85"/>
<circle cx="102.58" cy="365.30" r="2.85" fill="none" stroke="#b8b8b8" stroke-width="1.0"/><line x1="102.58" y1="361.60" x2="102.58" y2="369.00" stroke="#b8b8b8" stroke-width="0.45"/><rect x="102.08" y="364.50" width="1.0" height="1.6" fill="#6a6a6a" fill-opacity="0.85"/>
<circle cx="120.04" cy="365.30" r="3.3" fill="#ea9090" fill-opacity="0.09"/><circle cx="120.04" cy="365.30" r="2.85" fill="none" stroke="#e0bcbc" stroke-width="0.95"/><line x1="116.74" y1="365.30" x2="123.34" y2="365.30" stroke="#983040" stroke-width="0.5" stroke-opacity="0.3"/><line x1="120.04" y1="361.60" x2="120.04" y2="369.00" stroke="#983040" stroke-width="0.5" stroke-opacity="0.3"/><circle cx="120.04" cy="365.30" r="1.05" fill="#983040"/>
<circle cx="137.50" cy="365.30" r="2.85" fill="none" stroke="#dacdb8" stroke-width="1.0"/><line x1="137.50" y1="361.60" x2="137.50" y2="369.00" stroke="#dacdb8" stroke-width="0.45"/><rect x="137.00" y="364.50" width="1.0" height="1.6" fill="#7a6a50" fill-opacity="0.85"/>
<circle cx="154.96" cy="365.30" r="3.3" fill="#e46060" fill-opacity="0.16"/><circle cx="154.96" cy="365.30" r="2.85" fill="none" stroke="#e0acac" stroke-width="0.95"/><line x1="151.66" y1="365.30" x2="158.26" y2="365.30" stroke="#a01828" stroke-width="0.5" stroke-opacity="0.3"/><line x1="154.96" y1="361.60" x2="154.96" y2="369.00" stroke="#a01828" stroke-width="0.5" stroke-opacity="0.3"/><circle cx="154.96" cy="365.30" r="1.25" fill="#a01828"/>
<circle cx="172.42" cy="365.30" r="2.85" fill="none" stroke="#d6baba" stroke-width="1.0"/><line x1="172.42" y1="361.60" x2="172.42" y2="369.00" stroke="#d6baba" stroke-width="0.45"/><rect x="171.92" y="364.50" width="1.0" height="1.6" fill="#7a4a4a" fill-opacity="0.85"/>
<circle cx="189.88" cy="365.30" r="3.3" fill="#e46060" fill-opacity="0.16"/><circle cx="189.88" cy="365.30" r="2.85" fill="none" stroke="#e0acac" stroke-width="0.95"/><line x1="186.58" y1="365.30" x2="193.18" y2="365.30" stroke="#a01828" stroke-width="0.5" stroke-opacity="0.3"/><line x1="189.88" y1="361.60" x2="189.88" y2="369.00" stroke="#a01828" stroke-width="0.5" stroke-opacity="0.3"/><circle cx="189.88" cy="365.30" r="1.25" fill="#a01828"/>
<circle cx="207.34" cy="365.30" r="3.3" fill="#ea9090" fill-opacity="0.09"/><circle cx="207.34" cy="365.30" r="2.85" fill="none" stroke="#e0bcbc" stroke-width="0.95"/><line x1="204.04" y1="365.30" x2="210.64" y2="365.30" stroke="#983040" stroke-width="0.5" stroke-opacity="0.3"/><line x1="207.34" y1="361.60" x2="207.34" y2="369.00" stroke="#983040" stroke-width="0.5" stroke-opacity="0.3"/><circle cx="207.34" cy="365.30" r="1.05" fill="#983040"/>
<circle cx="224.80" cy="365.30" r="2.85" fill="none" stroke="#b8b8b8" stroke-width="1.0"/><line x1="224.80" y1="361.60" x2="224.80" y2="369.00" stroke="#b8b8b8" stroke-width="0.45"/><rect x="224.30" y="364.50" width="1.0" height="1.6" fill="#6a6a6a" fill-opacity="0.85"/>
<circle cx="242.26" cy="365.30" r="3.3" fill="#9a98d4" fill-opacity="0.09"/><circle cx="242.26" cy="365.30" r="2.85" fill="none" stroke="#bcbcd6" stroke-width="0.95"/><line x1="238.96" y1="365.30" x2="245.56" y2="365.30" stroke="#2c2a70" stroke-width="0.5" stroke-opacity="0.3"/><line x1="242.26" y1="361.60" x2="242.26" y2="369.00" stroke="#2c2a70" stroke-width="0.5" stroke-opacity="0.3"/><circle cx="242.26" cy="365.30" r="1.05" fill="#2c2a70"/>
<circle cx="259.72" cy="365.30" r="2.85" fill="none" stroke="#b8b8b8" stroke-width="1.0"/><line x1="259.72" y1="361.60" x2="259.72" y2="369.00" stroke="#b8b8b8" stroke-width="0.45"/><rect x="259.22" y="364.50" width="1.0" height="1.6" fill="#6a6a6a" fill-opacity="0.85"/>
<circle cx="277.18" cy="365.30" r="3.3" fill="#9a98d4" fill-opacity="0.09"/><circle cx="277.18" cy="365.30" r="2.85" fill="none" stroke="#bcbcd6" stroke-width="0.95"/><line x1="273.88" y1="365.30" x2="280.48" y2="365.30" stroke="#2c2a70" stroke-width="0.5" stroke-opacity="0.3"/><line x1="277.18" y1="361.60" x2="277.18" y2="369.00" stroke="#2c2a70" stroke-width="0.5" stroke-opacity="0.3"/><circle cx="277.18" cy="365.30" r="1.05" fill="#2c2a70"/>
<circle cx="294.64" cy="365.30" r="2.85" fill="none" stroke="#dacdb8" stroke-width="1.0"/><line x1="294.64" y1="361.60" x2="294.64" y2="369.00" stroke="#dacdb8" stroke-width="0.45"/><rect x="294.14" y="364.50" width="1.0" height="1.6" fill="#7a6a50" fill-opacity="0.85"/>
<circle cx="50.20" cy="376.15" r="2.85" fill="none" stroke="#bebed6" stroke-width="1.0"/><line x1="50.20" y1="372.45" x2="50.20" y2="379.85" stroke="#bebed6" stroke-width="0.45"/><rect x="49.70" y="375.35" width="1.0" height="1.6" fill="#3a3a70" fill-opacity="0.85"/>
<circle cx="67.66" cy="376.15" r="2.85" fill="none" stroke="#d6baba" stroke-width="1.0"/><line x1="67.66" y1="372.45" x2="67.66" y2="379.85" stroke="#d6baba" stroke-width="0.45"/><rect x="67.16" y="375.35" width="1.0" height="1.6" fill="#7a4a4a" fill-opacity="0.85"/>
<circle cx="85.12" cy="376.15" r="2.85" fill="none" stroke="#b8b8b8" stroke-width="1.0"/><line x1="85.12" y1="372.45" x2="85.12" y2="379.85" stroke="#b8b8b8" stroke-width="0.45"/><rect x="84.62" y="375.35" width="1.0" height="1.6" fill="#6a6a6a" fill-opacity="0.85"/>
<circle cx="102.58" cy="376.15" r="2.85" fill="none" stroke="#b8b8b8" stroke-width="1.0"/><line x1="102.58" y1="372.45" x2="102.58" y2="379.85" stroke="#b8b8b8" stroke-width="0.45"/><rect x="102.08" y="375.35" width="1.0" height="1.6" fill="#6a6a6a" fill-opacity="0.85"/>
<circle cx="120.04" cy="376.15" r="2.85" fill="none" stroke="#d6baba" stroke-width="1.0"/><line x1="120.04" y1="372.45" x2="120.04" y2="379.85" stroke="#d6baba" stroke-width="0.45"/><rect x="119.54" y="375.35" width="1.0" height="1.6" fill="#7a4a4a" fill-opacity="0.85"/>
<circle cx="137.50" cy="376.15" r="2.85" fill="none" stroke="#bebed6" stroke-width="1.0"/><line x1="137.50" y1="372.45" x2="137.50" y2="379.85" stroke="#bebed6" stroke-width="0.45"/><rect x="137.00" y="375.35" width="1.0" height="1.6" fill="#3a3a70" fill-opacity="0.85"/>
<circle cx="154.96" cy="376.15" r="2.85" fill="none" stroke="#b8b8b8" stroke-width="1.0"/><line x1="154.96" y1="372.45" x2="154.96" y2="379.85" stroke="#b8b8b8" stroke-width="0.45"/><rect x="154.46" y="375.35" width="1.0" height="1.6" fill="#6a6a6a" fill-opacity="0.85"/>
<circle cx="172.42" cy="376.15" r="2.85" fill="none" stroke="#b8b8b8" stroke-width="1.0"/><line x1="172.42" y1="372.45" x2="172.42" y2="379.85" stroke="#b8b8b8" stroke-width="0.45"/><rect x="171.92" y="375.35" width="1.0" height="1.6" fill="#6a6a6a" fill-opacity="0.85"/>
<circle cx="189.88" cy="376.15" r="2.85" fill="none" stroke="#b8b8b8" stroke-width="1.0"/><line x1="189.88" y1="372.45" x2="189.88" y2="379.85" stroke="#b8b8b8" stroke-width="0.45"/><rect x="189.38" y="375.35" width="1.0" height="1.6" fill="#6a6a6a" fill-opacity="0.85"/>
<circle cx="207.34" cy="376.15" r="2.85" fill="none" stroke="#b8b8b8" stroke-width="1.0"/><line x1="207.34" y1="372.45" x2="207.34" y2="379.85" stroke="#b8b8b8" stroke-width="0.45"/><rect x="206.84" y="375.35" width="1.0" height="1.6" fill="#6a6a6a" fill-opacity="0.85"/>
<circle cx="224.80" cy="376.15" r="2.85" fill="none" stroke="#bebed6" stroke-width="1.0"/><line x1="224.80" y1="372.45" x2="224.80" y2="379.85" stroke="#bebed6" stroke-width="0.45"/><rect x="224.30" y="375.35" width="1.0" height="1.6" fill="#3a3a70" fill-opacity="0.85"/>
<circle cx="242.26" cy="376.15" r="2.85" fill="none" stroke="#d6baba" stroke-width="1.0"/><line x1="242.26" y1="372.45" x2="242.26" y2="379.85" stroke="#d6baba" stroke-width="0.45"/><rect x="241.76" y="375.35" width="1.0" height="1.6" fill="#7a4a4a" fill-opacity="0.85"/>
<circle cx="259.72" cy="376.15" r="2.85" fill="none" stroke="#d6baba" stroke-width="1.0"/><line x1="259.72" y1="372.45" x2="259.72" y2="379.85" stroke="#d6baba" stroke-width="0.45"/><rect x="259.22" y="375.35" width="1.0" height="1.6" fill="#7a4a4a" fill-opacity="0.85"/>
<circle cx="277.18" cy="376.15" r="2.85" fill="none" stroke="#b8b8b8" stroke-width="1.0"/><line x1="277.18" y1="372.45" x2="277.18" y2="379.85" stroke="#b8b8b8" stroke-width="0.45"/><rect x="276.68" y="375.35" width="1.0" height="1.6" fill="#6a6a6a" fill-opacity="0.85"/>
<circle cx="294.64" cy="376.15" r="2.85" fill="none" stroke="#bebed6" stroke-width="1.0"/><line x1="294.64" y1="372.45" x2="294.64" y2="379.85" stroke="#bebed6" stroke-width="0.45"/><rect x="294.14" y="375.35" width="1.0" height="1.6" fill="#3a3a70" fill-opacity="0.85"/>
<circle cx="50.20" cy="387.00" r="2.85" fill="none" stroke="#bebed6" stroke-width="1.0"/><line x1="50.20" y1="383.30" x2="50.20" y2="390.70" stroke="#bebed6" stroke-width="0.45"/><rect x="49.70" y="386.20" width="1.0" height="1.6" fill="#3a3a70" fill-opacity="0.85"/>
<circle cx="67.66" cy="387.00" r="2.85" fill="none" stroke="#d6baba" stroke-width="1.0"/><line x1="67.66" y1="383.30" x2="67.66" y2="390.70" stroke="#d6baba" stroke-width="0.45"/><rect x="67.16" y="386.20" width="1.0" height="1.6" fill="#7a4a4a" fill-opacity="0.85"/>
<circle cx="85.12" cy="387.00" r="2.85" fill="none" stroke="#d6baba" stroke-width="1.0"/><line x1="85.12" y1="383.30" x2="85.12" y2="390.70" stroke="#d6baba" stroke-width="0.45"/><rect x="84.62" y="386.20" width="1.0" height="1.6" fill="#7a4a4a" fill-opacity="0.85"/>
<circle cx="102.58" cy="387.00" r="2.85" fill="none" stroke="#b8b8b8" stroke-width="1.0"/><line x1="102.58" y1="383.30" x2="102.58" y2="390.70" stroke="#b8b8b8" stroke-width="0.45"/><rect x="102.08" y="386.20" width="1.0" height="1.6" fill="#6a6a6a" fill-opacity="0.85"/>
<circle cx="120.04" cy="387.00" r="2.85" fill="none" stroke="#dacdb8" stroke-width="1.0"/><line x1="120.04" y1="383.30" x2="120.04" y2="390.70" stroke="#dacdb8" stroke-width="0.45"/><rect x="119.54" y="386.20" width="1.0" height="1.6" fill="#7a6a50" fill-opacity="0.85"/>
<circle cx="137.50" cy="387.00" r="2.85" fill="none" stroke="#bebed6" stroke-width="1.0"/><line x1="137.50" y1="383.30" x2="137.50" y2="390.70" stroke="#bebed6" stroke-width="0.45"/><rect x="137.00" y="386.20" width="1.0" height="1.6" fill="#3a3a70" fill-opacity="0.85"/>
<circle cx="154.96" cy="387.00" r="2.85" fill="none" stroke="#bebed6" stroke-width="1.0"/><line x1="154.96" y1="383.30" x2="154.96" y2="390.70" stroke="#bebed6" stroke-width="0.45"/><rect x="154.46" y="386.20" width="1.0" height="1.6" fill="#3a3a70" fill-opacity="0.85"/>
<circle cx="172.42" cy="387.00" r="2.85" fill="none" stroke="#d6baba" stroke-width="1.0"/><line x1="172.42" y1="383.30" x2="172.42" y2="390.70" stroke="#d6baba" stroke-width="0.45"/><rect x="171.92" y="386.20" width="1.0" height="1.6" fill="#7a4a4a" fill-opacity="0.85"/>
<circle cx="189.88" cy="387.00" r="2.85" fill="none" stroke="#d6baba" stroke-width="1.0"/><line x1="189.88" y1="383.30" x2="189.88" y2="390.70" stroke="#d6baba" stroke-width="0.45"/><rect x="189.38" y="386.20" width="1.0" height="1.6" fill="#7a4a4a" fill-opacity="0.85"/>
<circle cx="207.34" cy="387.00" r="2.85" fill="none" stroke="#d6baba" stroke-width="1.0"/><line x1="207.34" y1="383.30" x2="207.34" y2="390.70" stroke="#d6baba" stroke-width="0.45"/><rect x="206.84" y="386.20" width="1.0" height="1.6" fill="#7a4a4a" fill-opacity="0.85"/>
<circle cx="224.80" cy="387.00" r="2.85" fill="none" stroke="#d6baba" stroke-width="1.0"/><line x1="224.80" y1="383.30" x2="224.80" y2="390.70" stroke="#d6baba" stroke-width="0.45"/><rect x="224.30" y="386.20" width="1.0" height="1.6" fill="#7a4a4a" fill-opacity="0.85"/>
<circle cx="242.26" cy="387.00" r="2.85" fill="none" stroke="#b8b8b8" stroke-width="1.0"/><line x1="242.26" y1="383.30" x2="242.26" y2="390.70" stroke="#b8b8b8" stroke-width="0.45"/><rect x="241.76" y="386.20" width="1.0" height="1.6" fill="#6a6a6a" fill-opacity="0.85"/>
<circle cx="259.72" cy="387.00" r="2.85" fill="none" stroke="#b8b8b8" stroke-width="1.0"/><line x1="259.72" y1="383.30" x2="259.72" y2="390.70" stroke="#b8b8b8" stroke-width="0.45"/><rect x="259.22" y="386.20" width="1.0" height="1.6" fill="#6a6a6a" fill-opacity="0.85"/>
<circle cx="277.18" cy="387.00" r="2.85" fill="none" stroke="#d6baba" stroke-width="1.0"/><line x1="277.18" y1="383.30" x2="277.18" y2="390.70" stroke="#d6baba" stroke-width="0.45"/><rect x="276.68" y="386.20" width="1.0" height="1.6" fill="#7a4a4a" fill-opacity="0.85"/>
<circle cx="294.64" cy="387.00" r="2.85" fill="none" stroke="#b8b8b8" stroke-width="1.0"/><line x1="294.64" y1="383.30" x2="294.64" y2="390.70" stroke="#b8b8b8" stroke-width="0.45"/><rect x="294.14" y="386.20" width="1.0" height="1.6" fill="#6a6a6a" fill-opacity="0.85"/>
<circle cx="50.20" cy="397.85" r="3.3" fill="#ea9090" fill-opacity="0.09"/><circle cx="50.20" cy="397.85" r="2.85" fill="none" stroke="#e0bcbc" stroke-width="0.95"/><line x1="46.90" y1="397.85" x2="53.50" y2="397.85" stroke="#983040" stroke-width="0.5" stroke-opacity="0.3"/><line x1="50.20" y1="394.15" x2="50.20" y2="401.55" stroke="#983040" stroke-width="0.5" stroke-opacity="0.3"/><circle cx="50.20" cy="397.85" r="1.05" fill="#983040"/>
<circle cx="67.66" cy="397.85" r="3.3" fill="#ea9090" fill-opacity="0.09"/><circle cx="67.66" cy="397.85" r="2.85" fill="none" stroke="#e0bcbc" stroke-width="0.95"/><line x1="64.36" y1="397.85" x2="70.96" y2="397.85" stroke="#983040" stroke-width="0.5" stroke-opacity="0.3"/><line x1="67.66" y1="394.15" x2="67.66" y2="401.55" stroke="#983040" stroke-width="0.5" stroke-opacity="0.3"/><circle cx="67.66" cy="397.85" r="1.05" fill="#983040"/>
<circle cx="85.12" cy="397.85" r="3.3" fill="#ea9090" fill-opacity="0.09"/><circle cx="85.12" cy="397.85" r="2.85" fill="none" stroke="#e0bcbc" stroke-width="0.95"/><line x1="81.82" y1="397.85" x2="88.42" y2="397.85" stroke="#983040" stroke-width="0.5" stroke-opacity="0.3"/><line x1="85.12" y1="394.15" x2="85.12" y2="401.55" stroke="#983040" stroke-width="0.5" stroke-opacity="0.3"/><circle cx="85.12" cy="397.85" r="1.05" fill="#983040"/>
<circle cx="102.58" cy="397.85" r="2.85" fill="none" stroke="#d6baba" stroke-width="1.0"/><line x1="102.58" y1="394.15" x2="102.58" y2="401.55" stroke="#d6baba" stroke-width="0.45"/><rect x="102.08" y="397.05" width="1.0" height="1.6" fill="#7a4a4a" fill-opacity="0.85"/>
<circle cx="120.04" cy="397.85" r="2.85" fill="none" stroke="#d6baba" stroke-width="1.0"/><line x1="120.04" y1="394.15" x2="120.04" y2="401.55" stroke="#d6baba" stroke-width="0.45"/><rect x="119.54" y="397.05" width="1.0" height="1.6" fill="#7a4a4a" fill-opacity="0.85"/>
<circle cx="137.50" cy="397.85" r="2.85" fill="none" stroke="#dacdb8" stroke-width="1.0"/><line x1="137.50" y1="394.15" x2="137.50" y2="401.55" stroke="#dacdb8" stroke-width="0.45"/><rect x="137.00" y="397.05" width="1.0" height="1.6" fill="#7a6a50" fill-opacity="0.85"/>
<circle cx="154.96" cy="397.85" r="2.85" fill="none" stroke="#dacdb8" stroke-width="1.0"/><line x1="154.96" y1="394.15" x2="154.96" y2="401.55" stroke="#dacdb8" stroke-width="0.45"/><rect x="154.46" y="397.05" width="1.0" height="1.6" fill="#7a6a50" fill-opacity="0.85"/>
<circle cx="172.42" cy="397.85" r="3.3" fill="#ea9090" fill-opacity="0.09"/><circle cx="172.42" cy="397.85" r="2.85" fill="none" stroke="#e0bcbc" stroke-width="0.95"/><line x1="169.12" y1="397.85" x2="175.72" y2="397.85" stroke="#983040" stroke-width="0.5" stroke-opacity="0.3"/><line x1="172.42" y1="394.15" x2="172.42" y2="401.55" stroke="#983040" stroke-width="0.5" stroke-opacity="0.3"/><circle cx="172.42" cy="397.85" r="1.05" fill="#983040"/>
<circle cx="189.88" cy="397.85" r="2.8" fill="#d42027"/>
<circle cx="207.34" cy="397.85" r="3.3" fill="#ea9090" fill-opacity="0.09"/><circle cx="207.34" cy="397.85" r="2.85" fill="none" stroke="#e0bcbc" stroke-width="0.95"/><line x1="204.04" y1="397.85" x2="210.64" y2="397.85" stroke="#983040" stroke-width="0.5" stroke-opacity="0.3"/><line x1="207.34" y1="394.15" x2="207.34" y2="401.55" stroke="#983040" stroke-width="0.5" stroke-opacity="0.3"/><circle cx="207.34" cy="397.85" r="1.05" fill="#983040"/>
<circle cx="224.80" cy="397.85" r="2.85" fill="none" stroke="#dacdb8" stroke-width="1.0"/><line x1="224.80" y1="394.15" x2="224.80" y2="401.55" stroke="#dacdb8" stroke-width="0.45"/><rect x="224.30" y="397.05" width="1.0" height="1.6" fill="#7a6a50" fill-opacity="0.85"/>
<circle cx="242.26" cy="397.85" r="2.85" fill="none" stroke="#b8b8b8" stroke-width="1.0"/><line x1="242.26" y1="394.15" x2="242.26" y2="401.55" stroke="#b8b8b8" stroke-width="0.45"/><rect x="241.76" y="397.05" width="1.0" height="1.6" fill="#6a6a6a" fill-opacity="0.85"/>
<circle cx="259.72" cy="397.85" r="3.3" fill="#9a98d4" fill-opacity="0.09"/><circle cx="259.72" cy="397.85" r="2.85" fill="none" stroke="#bcbcd6" stroke-width="0.95"/><line x1="256.42" y1="397.85" x2="263.02" y2="397.85" stroke="#2c2a70" stroke-width="0.5" stroke-opacity="0.3"/><line x1="259.72" y1="394.15" x2="259.72" y2="401.55" stroke="#2c2a70" stroke-width="0.5" stroke-opacity="0.3"/><circle cx="259.72" cy="397.85" r="1.05" fill="#2c2a70"/>
<circle cx="277.18" cy="397.85" r="3.3" fill="#ea9090" fill-opacity="0.09"/><circle cx="277.18" cy="397.85" r="2.85" fill="none" stroke="#e0bcbc" stroke-width="0.95"/><line x1="273.88" y1="397.85" x2="280.48" y2="397.85" stroke="#983040" stroke-width="0.5" stroke-opacity="0.3"/><line x1="277.18" y1="394.15" x2="277.18" y2="401.55" stroke="#983040" stroke-width="0.5" stroke-opacity="0.3"/><circle cx="277.18" cy="397.85" r="1.05" fill="#983040"/>
<circle cx="294.64" cy="397.85" r="2.85" fill="none" stroke="#b8b8b8" stroke-width="1.0"/><line x1="294.64" y1="394.15" x2="294.64" y2="401.55" stroke="#b8b8b8" stroke-width="0.45"/><rect x="294.14" y="397.05" width="1.0" height="1.6" fill="#6a6a6a" fill-opacity="0.85"/>
</g>
<line x1="50.20" y1="407.5" x2="50.20" y2="411" stroke="#111" stroke-width="1"/>
<text transform="translate(50.80,417.3) rotate(-45)" text-anchor="end" class="cl">Thalidomide analogs</text>
<line x1="67.66" y1="407.5" x2="67.66" y2="411" stroke="#111" stroke-width="1"/>
<text transform="translate(68.26,417.3) rotate(-45)" text-anchor="end" class="cl">SCT</text>
<line x1="85.12" y1="407.5" x2="85.12" y2="411" stroke="#111" stroke-width="1"/>
<text transform="translate(85.72,417.3) rotate(-45)" text-anchor="end" class="cl">Proteasome Inh</text>
<line x1="102.58" y1="407.5" x2="102.58" y2="411" stroke="#111" stroke-width="1"/>
<text transform="translate(103.18,417.3) rotate(-45)" text-anchor="end" class="cl">Antimetabolites</text>
<line x1="120.04" y1="407.5" x2="120.04" y2="411" stroke="#111" stroke-width="1"/>
<text transform="translate(120.64,417.3) rotate(-45)" text-anchor="end" class="cl">Vinca Alkaloid</text>
<line x1="137.50" y1="407.5" x2="137.50" y2="411" stroke="#111" stroke-width="1"/>
<text transform="translate(138.10,417.3) rotate(-45)" text-anchor="end" class="cl">Alkylating</text>
<line x1="154.96" y1="407.5" x2="154.96" y2="411" stroke="#111" stroke-width="1"/>
<text transform="translate(155.56,417.3) rotate(-45)" text-anchor="end" class="cl">Anthracyclines</text>
<line x1="172.42" y1="407.5" x2="172.42" y2="411" stroke="#111" stroke-width="1"/>
<text transform="translate(173.02,417.3) rotate(-45)" text-anchor="end" class="cl">Antibiotic</text>
<line x1="189.88" y1="407.5" x2="189.88" y2="411" stroke="#111" stroke-width="1"/>
<text transform="translate(190.48,417.3) rotate(-45)" text-anchor="end" class="cl">Platinum</text>
<line x1="207.34" y1="407.5" x2="207.34" y2="411" stroke="#111" stroke-width="1"/>
<text transform="translate(207.94,417.3) rotate(-45)" text-anchor="end" class="cl">Topoisomerase Inh</text>
<line x1="224.80" y1="407.5" x2="224.80" y2="411" stroke="#111" stroke-width="1"/>
<text transform="translate(225.40,417.3) rotate(-45)" text-anchor="end" class="cl">Taxanes</text>
<line x1="242.26" y1="407.5" x2="242.26" y2="411" stroke="#111" stroke-width="1"/>
<text transform="translate(242.86,417.3) rotate(-45)" text-anchor="end" class="cl">XRT</text>
<line x1="259.72" y1="407.5" x2="259.72" y2="411" stroke="#111" stroke-width="1"/>
<text transform="translate(260.32,417.3) rotate(-45)" text-anchor="end" class="cl">XRT only</text>
<line x1="277.18" y1="407.5" x2="277.18" y2="411" stroke="#111" stroke-width="1"/>
<text transform="translate(277.78,417.3) rotate(-45)" text-anchor="end" class="cl">Chemo and XRT</text>
<line x1="294.64" y1="407.5" x2="294.64" y2="411" stroke="#111" stroke-width="1"/>
<text transform="translate(295.24,417.3) rotate(-45)" text-anchor="end" class="cl">Chemo only</text>
<circle cx="315.8" cy="112.6" r="2.3" fill="none" stroke="#aaa" stroke-width="0.6" stroke-dasharray="0.8,0.6"/>
<text x="302.8" y="123.3" class="lg">FDR=0.05</text>
<circle cx="315.2" cy="144.4" r="3.0" fill="none" stroke="#aaa" stroke-width="0.6" stroke-dasharray="0.8,0.6"/>
<text x="302.8" y="154.9" class="lg">FDR=0.01</text>
<rect x="307.5" y="185.3" width="6.3" height="52.2" fill="url(#cb)"/>
<text x="317" y="188.3" class="lg">High OR</text>
<text x="317" y="214.4" class="lg">OR=1</text>
<text x="317" y="239.7" class="lg">Low OR</text>
<text x="457" y="8.80" text-anchor="middle" class="gt">TP53</text><line x1="412.2" y1="14" x2="412.2" y2="67.5" stroke="#222" stroke-width="1.3"/><line x1="457.3" y1="14" x2="457.3" y2="67.5" stroke="#222" stroke-width="1.05" stroke-dasharray="1.5,1.2"/><text x="405.5" y="22.60" text-anchor="end" class="fl">Thalidomide Analogs</text><line x1="407.8" y1="20.2" x2="412.2" y2="20.2" stroke="#222" stroke-width="0.9"/><line x1="465.3" y1="20.2" x2="487.2" y2="20.2" stroke="#262626" stroke-width="1.15"/><line x1="465.3" y1="18.9" x2="465.3" y2="21.5" stroke="#222" stroke-width="1.1"/><line x1="487.2" y1="18.9" x2="487.2" y2="21.5" stroke="#222" stroke-width="1.1"/><circle cx="475.7" cy="20.2" r="1.5" fill="#a81c32"/><text x="405.5" y="32.80" text-anchor="end" class="fl">Vinca Alkaloid</text><line x1="407.8" y1="30.4" x2="412.2" y2="30.4" stroke="#222" stroke-width="0.9"/><line x1="458.2" y1="30.4" x2="475.0" y2="30.4" stroke="#262626" stroke-width="1.15"/><line x1="458.2" y1="29.099999999999998" x2="458.2" y2="31.7" stroke="#222" stroke-width="1.1"/><line x1="475.0" y1="29.099999999999998" x2="475.0" y2="31.7" stroke="#222" stroke-width="1.1"/><circle cx="466.9" cy="30.4" r="1.5" fill="#a81c32"/><text x="405.5" y="42.90" text-anchor="end" class="fl">Taxanes</text><line x1="407.8" y1="40.5" x2="412.2" y2="40.5" stroke="#222" stroke-width="0.9"/><line x1="456.5" y1="40.5" x2="475.0" y2="40.5" stroke="#262626" stroke-width="1.15"/><line x1="456.5" y1="39.2" x2="456.5" y2="41.8" stroke="#222" stroke-width="1.1"/><line x1="475.0" y1="39.2" x2="475.0" y2="41.8" stroke="#222" stroke-width="1.1"/><circle cx="466.0" cy="40.5" r="1.5" fill="#a81c32"/><text x="405.5" y="52.90" text-anchor="end" class="fl">Platinum</text><line x1="407.8" y1="50.5" x2="412.2" y2="50.5" stroke="#222" stroke-width="0.9"/><line x1="456.5" y1="50.5" x2="473.8" y2="50.5" stroke="#262626" stroke-width="1.15"/><line x1="456.5" y1="49.2" x2="456.5" y2="51.8" stroke="#222" stroke-width="1.1"/><line x1="473.8" y1="49.2" x2="473.8" y2="51.8" stroke="#222" stroke-width="1.1"/><circle cx="465.3" cy="50.5" r="1.5" fill="#a81c32"/><text x="405.5" y="62.90" text-anchor="end" class="fl">Topoisomerase Inh</text><line x1="407.8" y1="60.5" x2="412.2" y2="60.5" stroke="#222" stroke-width="0.9"/><line x1="436.2" y1="60.5" x2="457.2" y2="60.5" stroke="#262626" stroke-width="1.15"/><line x1="436.2" y1="59.2" x2="436.2" y2="61.8" stroke="#222" stroke-width="1.1"/><line x1="457.2" y1="59.2" x2="457.2" y2="61.8" stroke="#222" stroke-width="1.1"/><circle cx="446.2" cy="60.5" r="1.5" fill="#a81c32"/>
<text x="456.5" y="81.20" text-anchor="middle" class="gt">PPM1D</text><line x1="412.2" y1="92.2" x2="412.2" y2="115" stroke="#222" stroke-width="1.3"/><line x1="457.3" y1="85" x2="457.3" y2="115" stroke="#222" stroke-width="1.05" stroke-dasharray="1.5,1.2"/><text x="405.5" y="105.20" text-anchor="end" class="fl">Platinum</text><line x1="407.8" y1="102.8" x2="412.2" y2="102.8" stroke="#222" stroke-width="0.9"/><line x1="462.5" y1="102.8" x2="489.0" y2="102.8" stroke="#262626" stroke-width="1.15"/><line x1="462.5" y1="101.5" x2="462.5" y2="104.1" stroke="#222" stroke-width="1.1"/><line x1="489.0" y1="101.5" x2="489.0" y2="104.1" stroke="#222" stroke-width="1.1"/><circle cx="475.6" cy="102.8" r="1.5" fill="#a81c32"/>
<text x="456.5" y="125.30" text-anchor="middle" class="gt">EZH2</text><line x1="412.2" y1="128.3" x2="412.2" y2="151" stroke="#222" stroke-width="1.3"/><line x1="457.3" y1="131" x2="457.3" y2="159.5" stroke="#222" stroke-width="1.05" stroke-dasharray="1.5,1.2"/><text x="405.5" y="142.50" text-anchor="end" class="fl">Vinca Alkaloid</text><line x1="407.8" y1="140.1" x2="412.2" y2="140.1" stroke="#222" stroke-width="0.9"/><line x1="458.8" y1="140.1" x2="495.8" y2="140.1" stroke="#262626" stroke-width="1.15"/><line x1="458.8" y1="138.79999999999998" x2="458.8" y2="141.4" stroke="#222" stroke-width="1.1"/><line x1="495.8" y1="138.79999999999998" x2="495.8" y2="141.4" stroke="#222" stroke-width="1.1"/><circle cx="477.7" cy="140.1" r="1.5" fill="#a81c32"/>
<text x="496" y="212.10" text-anchor="middle" class="gt">IDH2</text><line x1="407.6" y1="216" x2="407.6" y2="274.5" stroke="#222" stroke-width="1.3"/><line x1="495.8" y1="215.3" x2="495.8" y2="274.5" stroke="#222" stroke-width="1.05" stroke-dasharray="1.5,1.2"/><text x="401.6" y="226.60" text-anchor="end" class="fl">Vinca Alkaloid</text><line x1="403.20000000000005" y1="224.2" x2="407.6" y2="224.2" stroke="#222" stroke-width="0.9"/><line x1="428.3" y1="224.2" x2="479.4" y2="224.2" stroke="#262626" stroke-width="1.15"/><line x1="428.3" y1="222.89999999999998" x2="428.3" y2="225.5" stroke="#222" stroke-width="1.1"/><line x1="479.4" y1="222.89999999999998" x2="479.4" y2="225.5" stroke="#222" stroke-width="1.1"/><circle cx="463.0" cy="224.2" r="1.5" fill="#a81c32"/><text x="401.6" y="240.70" text-anchor="end" class="fl">Antracylines</text><line x1="403.20000000000005" y1="238.3" x2="407.6" y2="238.3" stroke="#222" stroke-width="0.9"/><line x1="481.2" y1="238.3" x2="500.0" y2="238.3" stroke="#262626" stroke-width="1.15"/><line x1="481.2" y1="237.0" x2="481.2" y2="239.60000000000002" stroke="#222" stroke-width="1.1"/><line x1="500.0" y1="237.0" x2="500.0" y2="239.60000000000002" stroke="#222" stroke-width="1.1"/><circle cx="491.3" cy="238.3" r="1.5" fill="#a81c32"/><text x="401.6" y="255.00" text-anchor="end" class="fl">Antimetabolites</text><line x1="403.20000000000005" y1="252.6" x2="407.6" y2="252.6" stroke="#222" stroke-width="0.9"/><line x1="480.2" y1="252.6" x2="496.3" y2="252.6" stroke="#262626" stroke-width="1.15"/><line x1="480.2" y1="251.29999999999998" x2="480.2" y2="253.9" stroke="#222" stroke-width="1.1"/><line x1="496.3" y1="251.29999999999998" x2="496.3" y2="253.9" stroke="#222" stroke-width="1.1"/><circle cx="488.7" cy="252.6" r="1.5" fill="#a81c32"/><text x="401.6" y="269.10" text-anchor="end" class="fl">Alkylating</text><line x1="403.20000000000005" y1="266.7" x2="407.6" y2="266.7" stroke="#222" stroke-width="0.9"/><line x1="461.3" y1="266.7" x2="482.7" y2="266.7" stroke="#262626" stroke-width="1.15"/><line x1="461.3" y1="265.4" x2="461.3" y2="268.0" stroke="#222" stroke-width="1.1"/><line x1="482.7" y1="265.4" x2="482.7" y2="268.0" stroke="#222" stroke-width="1.1"/><circle cx="472.6" cy="266.7" r="1.5" fill="#a81c32"/>
<text x="495.8" y="286.80" text-anchor="middle" class="gt">NPM1</text><line x1="407.6" y1="290.6" x2="407.6" y2="331.6" stroke="#222" stroke-width="1.3"/><line x1="495.8" y1="287.6" x2="495.8" y2="329.2" stroke="#222" stroke-width="1.05" stroke-dasharray="1.5,1.2"/><text x="401.6" y="301.30" text-anchor="end" class="fl">Taxanes</text><line x1="403.20000000000005" y1="298.9" x2="407.6" y2="298.9" stroke="#222" stroke-width="0.9"/><line x1="431.0" y1="298.9" x2="481.2" y2="298.9" stroke="#262626" stroke-width="1.15"/><line x1="431.0" y1="297.59999999999997" x2="431.0" y2="300.2" stroke="#222" stroke-width="1.1"/><line x1="481.2" y1="297.59999999999997" x2="481.2" y2="300.2" stroke="#222" stroke-width="1.1"/><circle cx="465.6" cy="298.9" r="1.5" fill="#a81c32"/><text x="401.6" y="314.60" text-anchor="end" class="fl">Platinum</text><line x1="403.20000000000005" y1="312.2" x2="407.6" y2="312.2" stroke="#222" stroke-width="0.9"/><line x1="482.0" y1="312.2" x2="498.8" y2="312.2" stroke="#262626" stroke-width="1.15"/><line x1="482.0" y1="310.9" x2="482.0" y2="313.5" stroke="#222" stroke-width="1.1"/><line x1="498.8" y1="310.9" x2="498.8" y2="313.5" stroke="#222" stroke-width="1.1"/><circle cx="490.3" cy="312.2" r="1.5" fill="#a81c32"/><text x="401.6" y="327.70" text-anchor="end" class="fl">Alkylating</text><line x1="403.20000000000005" y1="325.3" x2="407.6" y2="325.3" stroke="#222" stroke-width="0.9"/><line x1="424.8" y1="325.3" x2="473.1" y2="325.3" stroke="#262626" stroke-width="1.15"/><line x1="424.8" y1="324.0" x2="424.8" y2="326.6" stroke="#222" stroke-width="1.1"/><line x1="473.1" y1="324.0" x2="473.1" y2="326.6" stroke="#222" stroke-width="1.1"/><circle cx="459.0" cy="325.3" r="1.5" fill="#a81c32"/>
<text x="495.6" y="337.20" text-anchor="middle" class="gt">SRSF2</text><line x1="407.6" y1="341.5" x2="407.6" y2="401" stroke="#222" stroke-width="1.3"/><line x1="495.8" y1="340" x2="495.8" y2="401" stroke="#222" stroke-width="1.05" stroke-dasharray="1.5,1.2"/><text x="401.6" y="351.70" text-anchor="end" class="fl">XRT</text><line x1="403.20000000000005" y1="349.3" x2="407.6" y2="349.3" stroke="#222" stroke-width="0.9"/><line x1="493.8" y1="349.3" x2="505.9" y2="349.3" stroke="#262626" stroke-width="1.15"/><line x1="493.8" y1="348.0" x2="493.8" y2="350.6" stroke="#222" stroke-width="1.1"/><line x1="505.9" y1="348.0" x2="505.9" y2="350.6" stroke="#222" stroke-width="1.1"/><circle cx="500.0" cy="349.3" r="1.5" fill="#a81c32"/><text x="401.6" y="366.00" text-anchor="end" class="fl">Topoisomerase Inh</text><line x1="403.20000000000005" y1="363.6" x2="407.6" y2="363.6" stroke="#222" stroke-width="0.9"/><line x1="461.3" y1="363.6" x2="495.3" y2="363.6" stroke="#262626" stroke-width="1.15"/><line x1="461.3" y1="362.3" x2="461.3" y2="364.90000000000003" stroke="#222" stroke-width="1.1"/><line x1="495.3" y1="362.3" x2="495.3" y2="364.90000000000003" stroke="#222" stroke-width="1.1"/><circle cx="477.7" cy="363.6" r="1.5" fill="#a81c32"/><text x="401.6" y="380.10" text-anchor="end" class="fl">Taxanes</text><line x1="403.20000000000005" y1="377.7" x2="407.6" y2="377.7" stroke="#222" stroke-width="0.9"/><line x1="480.2" y1="377.7" x2="497.0" y2="377.7" stroke="#262626" stroke-width="1.15"/><line x1="480.2" y1="376.4" x2="480.2" y2="379.0" stroke="#222" stroke-width="1.1"/><line x1="497.0" y1="376.4" x2="497.0" y2="379.0" stroke="#222" stroke-width="1.1"/><circle cx="488.7" cy="377.7" r="1.5" fill="#a81c32"/><text x="401.6" y="394.40" text-anchor="end" class="fl">SCT</text><line x1="403.20000000000005" y1="392.0" x2="407.6" y2="392.0" stroke="#222" stroke-width="0.9"/><line x1="464.0" y1="392.0" x2="498.4" y2="392.0" stroke="#262626" stroke-width="1.15"/><line x1="464.0" y1="390.7" x2="464.0" y2="393.3" stroke="#222" stroke-width="1.1"/><line x1="498.4" y1="390.7" x2="498.4" y2="393.3" stroke="#222" stroke-width="1.1"/><circle cx="481.3" cy="392.0" r="1.5" fill="#a81c32"/>
<text x="496.3" y="409.30" text-anchor="middle" class="gt">TET2</text><line x1="407.6" y1="414" x2="407.6" y2="440" stroke="#222" stroke-width="1.3"/><line x1="496.3" y1="412" x2="496.3" y2="450.5" stroke="#222" stroke-width="1.05" stroke-dasharray="1.5,1.2"/><text x="401.6" y="423.70" text-anchor="end" class="fl">Platinum</text><line x1="403.20000000000005" y1="421.3" x2="407.6" y2="421.3" stroke="#222" stroke-width="0.9"/><line x1="485.0" y1="421.3" x2="496.3" y2="421.3" stroke="#262626" stroke-width="1.15"/><line x1="485.0" y1="420.0" x2="485.0" y2="422.6" stroke="#222" stroke-width="1.1"/><line x1="496.3" y1="420.0" x2="496.3" y2="422.6" stroke="#222" stroke-width="1.1"/><circle cx="490.5" cy="421.3" r="1.5" fill="#a81c32"/><text x="401.6" y="435.40" text-anchor="end" class="fl">Alkylating</text><line x1="403.20000000000005" y1="433.0" x2="407.6" y2="433.0" stroke="#222" stroke-width="0.9"/><line x1="483.0" y1="433.0" x2="492.0" y2="433.0" stroke="#262626" stroke-width="1.15"/><line x1="483.0" y1="431.7" x2="483.0" y2="434.3" stroke="#222" stroke-width="1.1"/><line x1="492.0" y1="431.7" x2="492.0" y2="434.3" stroke="#222" stroke-width="1.1"/><circle cx="487.5" cy="433.0" r="1.5" fill="#a81c32"/>
<line x1="417.2" y1="160" x2="505.9" y2="160" stroke="#222" stroke-width="1.3"/>
<line x1="420.2" y1="160" x2="420.2" y2="163" stroke="#222" stroke-width="1"/>
<text transform="translate(420.2,171.3) scale(0.85,1)" text-anchor="middle" class="tk">0.1</text>
<line x1="457.5" y1="160" x2="457.5" y2="163" stroke="#222" stroke-width="1"/>
<text transform="translate(457.5,171.3) scale(0.85,1)" text-anchor="middle" class="tk">1</text>
<line x1="495.3" y1="160" x2="495.3" y2="163" stroke="#222" stroke-width="1"/>
<text transform="translate(495.3,171.3) scale(0.85,1)" text-anchor="middle" class="tk">10</text>
<text x="458" y="179.5" text-anchor="middle" class="lor">Log OR (95% CI)</text>
<line x1="415" y1="450.8" x2="520" y2="450.8" stroke="#222" stroke-width="1.3"/>
<line x1="417.5" y1="450.8" x2="417.5" y2="453.5" stroke="#222" stroke-width="1"/>
<text transform="translate(417.9,461) scale(0.88,1)" text-anchor="middle" class="tk">0.0001</text>
<line x1="436.3" y1="450.8" x2="436.3" y2="453.5" stroke="#222" stroke-width="1"/>
<text transform="translate(436.9,461) scale(0.88,1)" text-anchor="middle" class="tk">0.001</text>
<line x1="456.3" y1="450.8" x2="456.3" y2="453.5" stroke="#222" stroke-width="1"/>
<text transform="translate(456.0,461) scale(0.88,1)" text-anchor="middle" class="tk">0.01</text>
<line x1="476.3" y1="450.8" x2="476.3" y2="453.5" stroke="#222" stroke-width="1"/>
<text transform="translate(475.8,461) scale(0.88,1)" text-anchor="middle" class="tk">0.1</text>
<line x1="496.3" y1="450.8" x2="496.3" y2="453.5" stroke="#222" stroke-width="1"/>
<text transform="translate(495.9,461) scale(0.88,1)" text-anchor="middle" class="tk">1</text>
<line x1="515.5" y1="450.8" x2="515.5" y2="453.5" stroke="#222" stroke-width="1"/>
<text transform="translate(515.5,461) scale(0.88,1)" text-anchor="middle" class="tk">10</text>
<text transform="translate(468.2,473) scale(0.7,1)" text-anchor="middle" class="lodds">Log odds ratio (95% CI)</text>
</svg>
</body></html>
